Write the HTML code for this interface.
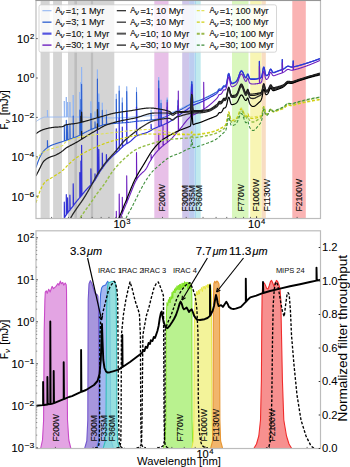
<!DOCTYPE html>
<html><head><meta charset="utf-8"><style>
html,body{margin:0;padding:0;background:#fff;width:350px;height:467px;overflow:hidden}
svg{display:block;font-family:"Liberation Sans",sans-serif}
</style></head><body>
<svg width="350" height="467" viewBox="0 0 350 467" font-family='Liberation Sans, sans-serif'>
<style>text{stroke:#000;stroke-width:0.16px;stroke-opacity:0.9}</style>
<rect x="0" y="0" width="350" height="467" fill="#fff"/>
<defs><clipPath id="ct"><rect x="36.0" y="0.5" width="284.5" height="218.0"/></clipPath>
<clipPath id="cb"><rect x="36.0" y="230.8" width="284.5" height="217.7"/></clipPath></defs>
<g clip-path="url(#ct)">
<rect x="40.6" y="0" width="9.1" height="219" fill="#d4d4d4"/>
<rect x="53.1" y="0" width="8.9" height="219" fill="#d4d4d4"/>
<rect x="68" y="0" width="46.3" height="219" fill="#d4d4d4"/>
<rect x="74.4" y="0" width="2.6" height="219" fill="#bdbdbd"/>
<rect x="90.9" y="0" width="2.2" height="219" fill="#bdbdbd"/>
<rect x="154.3" y="0" width="14.2" height="219" fill="#e8c0e8"/>
<rect x="182.2" y="0" width="6.9" height="219" fill="#cfc6ea"/>
<rect x="189.1" y="0" width="5.4" height="219" fill="#bccdf0"/>
<rect x="194.5" y="0" width="1.5" height="219" fill="#a9d6ef"/>
<rect x="196" y="0" width="4.7" height="219" fill="#c0eaee"/>
<rect x="232" y="0" width="16.5" height="219" fill="#d9f7bd"/>
<rect x="250.2" y="0" width="11.5" height="219" fill="#f8f5b4"/>
<rect x="261.7" y="0" width="4.1" height="219" fill="#f8dcc2"/>
<rect x="292.3" y="0" width="13.5" height="219" fill="#fab3b3"/>
<path d="M36,121.7 L36.4,121.38 L36.8,121.07 L37.2,120.77 L37.6,120.47 L38,120.19 L38.4,119.92 L38.8,119.67 L39.2,119.43 L39.6,119.21 L40,119 L40.4,118.8 L40.8,118.59 L41.2,118.39 L41.6,118.18 L42,117.98 L42.4,117.79 L42.8,117.62 L43.2,117.46 L43.6,117.33 L44,117.22 L44.4,117.15 L44.8,117.11 L45.2,117.1 L45.6,117.1 L46,117.09 L46.4,117.09 L46.8,117.09 L47.2,117.08 L47.4,117.08 L47.4,110.08 L47.7,117.08 L47.6,117.08 L48,117.08 L48.4,117.07 L48.8,117.07 L49.2,117.07 L49.6,117.07 L50,117.06 L50.4,117.06 L50.8,117.06 L51.2,117.06 L51.6,117.05 L52,117.05 L52.4,117.05 L52.8,117.05 L53.2,117.05 L53.6,117.04 L54,117.04 L54.4,117.04 L54.8,117.04 L55.2,117.04 L55.6,117.03 L56,117.03 L56.4,117.03 L56.8,117.03 L57.2,117.03 L57.6,117.03 L58,117.03 L58.4,117.02 L58.8,117.02 L59.2,117.02 L59.6,117.02 L60,117.02 L60.4,117.02 L60.8,117.02 L61.2,117.02 L61.6,117.01 L62,117.01 L62.4,117.01 L62.8,117.01 L63.2,117.01 L63.6,117.01 L64,117.01 L64.3,117.01 L64.3,101.01 L64.6,117.01 L64.4,117.01 L64.8,117.01 L65.2,117.01 L65.6,117.01 L66,117.01 L66.3,117.01 L66.3,97.01 L66.6,117.01 L66.4,117.01 L66.8,117.01 L67.2,117 L67.6,117 L67.6,117 L67.6,102 L67.9,117 L68,117 L68.4,117 L68.8,117 L69.2,117 L69.6,117 L69.9,117 L69.9,102 L70.2,117 L70,117 L70.4,117 L70.8,117 L71.2,117 L71.6,117 L72,117 L72.4,117 L72.8,117 L73.2,117 L73.2,117 L73.2,95 L73.5,117 L73.6,117 L74,117 L74.4,117 L74.8,117 L75.2,117 L75.6,117 L76,117 L76.4,117 L76.8,117 L77.2,117 L77.6,117.01 L78,117.01 L78.4,117.01 L78.8,117.02 L79.2,117.02 L79.6,117.03 L79.8,117.03 L79.8,92.03 L80.1,117.03 L80,117.03 L80.4,117.04 L80.8,117.05 L80.9,117.05 L80.9,82.05 L81.2,117.05 L81.2,117.06 L81.6,117.07 L81.6,117.07 L81.6,67.07 L81.9,117.07 L82,117.07 L82.4,117.08 L82.8,117.09 L83.2,117.1 L83.6,117.11 L84,117.13 L84.4,117.14 L84.8,117.15 L85.2,117.16 L85.6,117.17 L86,117.19 L86.4,117.2 L86.8,117.21 L87.2,117.23 L87.6,117.24 L88,117.26 L88.4,117.27 L88.8,117.29 L89.2,117.3 L89.6,117.32 L90,117.33 L90.4,117.35 L90.8,117.36 L90.9,117.37 L90.9,101.37 L91.2,117.37 L91.2,117.38 L91.6,117.39 L92,117.41 L92.4,117.43 L92.8,117.44 L93.2,117.46 L93.6,117.47 L94,117.49 L94.4,117.51 L94.8,117.52 L95,117.53 L95,111.53 L95.3,117.53 L95.2,117.54 L95.6,117.55 L96,117.57 L96.4,117.58 L96.8,117.6 L97.2,117.61 L97.4,117.62 L97.4,69.62 L97.7,117.62 L97.6,117.63 L98,117.64 L98.4,117.66 L98.8,117.67 L98.8,117.67 L98.8,93.67 L99.1,117.67 L99.2,117.69 L99.6,117.7 L100,117.71 L100.4,117.73 L100.8,117.74 L101.2,117.75 L101.6,117.76 L102,117.77 L102.3,117.78 L102.3,102.78 L102.6,117.78 L102.4,117.79 L102.8,117.8 L103.2,117.81 L103.6,117.82 L104,117.83 L104.4,117.83 L104.8,117.84 L105.2,117.85 L105.6,117.86 L106,117.87 L106.4,117.87 L106.4,117.87 L106.4,109.87 L106.7,117.87 L106.8,117.88 L107.2,117.88 L107.6,117.89 L108,117.89 L108.4,117.89 L108.8,117.9 L109.2,117.9 L109.6,117.9 L110,117.9 L110.4,117.9 L110.8,117.9 L111.2,117.9 L111.6,117.9 L112,117.89 L112.4,117.89 L112.8,117.89 L113.2,117.88 L113.6,117.88 L114,117.87 L114.4,117.87 L114.8,117.86 L115.2,117.86 L115.6,117.85 L116,117.84 L116.3,117.84 L116.3,93.84 L116.6,117.84 L116.4,117.83 L116.8,117.83 L117.2,117.82 L117.6,117.81 L118,117.8 L118.4,117.79 L118.8,117.78 L119.2,117.77 L119.2,117.77 L119.2,85.77 L119.5,117.77 L119.6,117.75 L120,117.74 L120.4,117.73 L120.8,117.72 L121.2,117.7 L121.6,117.69 L122,117.67 L122.3,117.66 L122.3,97.66 L122.6,117.66 L122.4,117.66 L122.8,117.64 L123.2,117.63 L123.6,117.61 L124,117.6 L124.4,117.58 L124.8,117.56 L125.2,117.54 L125.6,117.53 L126,117.51 L126.4,117.49 L126.7,117.47 L126.7,86.47 L127,117.47 L126.8,117.47 L127.2,117.45 L127.6,117.43 L128,117.41 L128.4,117.39 L128.8,117.37 L129.2,117.34 L129.6,117.32 L130,117.3 L130.4,117.27 L130.8,117.23 L131.2,117.18 L131.6,117.12 L132,117.05 L132.4,116.99 L132.8,116.92 L133.2,116.85 L133.6,116.78 L134,116.72 L134.4,116.66 L134.8,116.62 L135.2,116.58 L135.6,116.55 L136,116.52 L136.4,116.49 L136.5,116.48 L136.5,87.48 L136.8,116.48 L136.8,116.46 L137.2,116.43 L137.6,116.4 L138,116.38 L138.4,116.35 L138.8,116.33 L139.2,116.31 L139.6,116.28 L140,116.26 L140.4,116.24 L140.8,116.22 L141.2,116.2 L141.6,116.18 L142,116.17 L142.4,116.15 L142.8,116.13 L143.2,116.11 L143.6,116.1 L144,116.08 L144.4,116.07 L144.8,116.05 L145.2,116.03 L145.6,116.02 L146,116 L146.4,115.98 L146.8,115.97 L147.2,115.95 L147.6,115.93 L148,115.92 L148.4,115.9 L148.8,115.88 L149.2,115.86 L149.6,115.84 L150,115.82 L150.4,115.8 L150.8,115.78 L151.1,115.77 L151.1,109.77 L151.4,115.77 L151.2,115.76 L151.6,115.74 L152,115.71 L152.4,115.69 L152.8,115.66 L153.2,115.64 L153.6,115.61 L154,115.58 L154.4,115.55 L154.8,115.52 L155.2,115.48 L155.6,115.45 L156,115.41 L156.4,115.37 L156.8,115.33 L157.2,115.29 L157.6,115.24 L158,115.19 L158.4,115.14 L158.7,115.1 L158.7,77.1 L159,115.1 L158.8,115.09 L159.2,115.04 L159.6,114.98 L160,114.93 L160.4,114.87 L160.8,114.81 L161,114.78 L161,99.78 L161.3,114.78 L161.2,114.75 L161.6,114.69 L162,114.62 L162.4,114.56 L162.8,114.49 L163.2,114.42 L163.6,114.35 L164,114.28 L164.4,114.21 L164.8,114.14 L165.2,114.06 L165.6,113.99 L166,113.9 L166.4,113.82 L166.8,113.73 L167.2,113.64 L167.2,113.64 L167.2,97.64 L167.5,113.64 L167.6,113.55 L168,113.45 L168.4,113.35 L168.8,113.24 L169.2,113.13 L169.6,113.02 L170,112.91 L170.4,112.79 L170.8,112.67 L171.2,112.55 L171.6,112.43 L172,112.3 L172.4,112.17 L172.8,112.03 L173.2,111.88 L173.6,111.72 L174,111.56 L174.4,111.4 L174.8,111.22 L175.2,111.05 L175.6,110.87 L176,110.68 L176.4,110.5 L176.8,110.31 L177.2,110.12 L177.6,109.93 L178,109.74 L178,109.74 L178,99.74 L178.3,109.74 L178.4,109.55 L178.8,109.36 L179.2,109.17 L179.6,108.98 L180,108.8 L180.4,108.62 L180.8,108.43 L181.2,108.25 L181.6,108.06 L182,107.87 L182.4,107.68 L182.8,107.5 L183.2,107.31 L183.6,107.12 L184,106.92 L184.4,106.73 L184.8,106.54 L185.2,106.35 L185.6,106.15 L186,105.96 L186.4,105.76 L186.8,105.57 L187.2,105.37 L187.6,105.18 L188,104.98 L188.4,104.79 L188.8,104.59 L189.2,104.39 L189.6,104.2 L190,103.99 L190.4,103.6 L190.8,101.48 L191.2,93.28 L191.6,81.26 L192,81.39 L192.4,93.12 L192.8,100.59 L193.2,102.17 L193.6,102.16 L194,102 L194.4,101.84 L194.8,101.69 L195.2,101.55 L195.6,101.42 L196,101.29 L196.4,101.16 L196.8,101.04 L197.2,100.92 L197.6,100.8 L198,100.68 L198.4,100.55 L198.8,100.42 L199.2,100.29 L199.6,100.15 L200,100 L200.4,99.85 L200.8,99.69 L201.2,99.53 L201.6,99.36 L202,99.19 L202.4,99.02 L202.8,98.85 L203.2,98.67 L203.6,98.49 L204,98.31 L204.4,98.13 L204.8,97.94 L205.2,97.76 L205.6,97.57 L206,97.37 L206.4,97.18 L206.8,96.99 L207.2,96.79 L207.6,96.6 L208,96.4 L208.4,96.2 L208.8,96 L209.2,95.8 L209.6,95.6 L210,95.39 L210.4,95.19 L210.8,94.98 L211.2,94.77 L211.6,94.56 L212,94.34 L212.4,94.13 L212.8,93.91 L213.2,93.69 L213.6,93.47 L214,93.25 L214.4,93.02 L214.8,92.8 L215.2,92.57 L215.6,92.33 L216,92.1 L216.4,91.86 L216.8,91.59 L217.2,91.27 L217.6,90.82 L218,90.21 L218.4,89.52 L218.8,88.93 L219.2,88.66 L219.6,88.7 L220,88.85 L220.4,88.92 L220.8,88.84 L221.2,88.62 L221.6,88.32 L222,87.93 L222.4,87.41 L222.8,86.74 L223.2,86.05 L223.6,85.54 L224,85.4 L224.4,85.54 L224.8,85.73 L225.2,85.74 L225.6,85.45 L226,84.78 L226.4,83.63 L226.8,81.93 L227.2,79.7 L227.6,77.19 L228,74.9 L228.4,73.36 L228.8,72.98 L229.2,73.83 L229.6,75.57 L230,77.68 L230.4,79.64 L230.8,81.14 L231.2,82.09 L231.6,82.58 L232,82.76 L232.4,82.77 L232.8,82.68 L233.2,82.56 L233.6,82.43 L234,82.28 L234.4,82.11 L234.8,81.92 L235.2,81.69 L235.6,81.42 L236,81.07 L236.4,80.64 L236.8,80.09 L237.2,79.43 L237.6,78.63 L238,77.71 L238.4,76.67 L238.8,75.55 L239.2,74.4 L239.6,73.28 L240,72.26 L240.4,71.42 L240.8,70.8 L241.2,70.47 L241.6,70.42 L242,70.67 L242.4,71.18 L242.8,71.89 L243.2,72.75 L243.6,73.68 L244,74.61 L244.4,75.49 L244.8,76.26 L245.2,76.86 L245.6,77.22 L246,77.19 L246.4,76.65 L246.8,75.64 L247.2,74.46 L247.6,73.68 L248,73.75 L248.4,74.66 L248.8,75.97 L249.2,77.15 L249.6,77.94 L250,78.35 L250.4,78.52 L250.8,78.58 L251.2,78.6 L251.6,78.6 L252,78.6 L252.4,78.6 L252.8,78.6 L253.2,78.6 L253.6,78.6 L254,78.6 L254.4,78.6 L254.8,78.6 L255.2,78.6 L255.6,78.58 L256,78.54 L256.4,78.49 L256.8,78.43 L257.2,78.36 L257.6,78.29 L258,78.2 L258.4,78.12 L258.8,78.04 L259.2,77.96 L259.4,77.91 L259.4,60.91 L259.7,77.91 L259.6,77.87 L260,77.76 L260.4,77.63 L260.8,77.42 L261.2,77.04 L261.6,76.31 L262,75 L262.4,73 L262.8,70.51 L263.2,68.15 L263.6,66.74 L264,66.82 L264.4,68.29 L264.8,70.48 L265.2,72.59 L265.6,74.1 L266,74.94 L266.4,75.25 L266.8,75.25 L267.2,75.09 L267.6,74.79 L268,74.35 L268.4,73.71 L268.8,72.83 L269.2,71.73 L269.6,70.56 L270,69.54 L270.4,68.89 L270.8,68.76 L271.2,69.14 L271.6,69.87 L272,70.7 L272.4,71.42 L272.8,71.93 L273.2,72.19 L273.6,72.27 L274,72.22 L274.4,72.11 L274.8,71.96 L275.2,71.8 L275.6,71.63 L276,71.47 L276.4,71.31 L276.8,71.15 L277.2,70.99 L277.6,70.84 L278,70.69 L278.4,70.54 L278.8,70.4 L279.2,70.26 L279.6,70.13 L280,70 L280.4,69.87 L280.8,69.75 L281.2,69.62 L281.6,69.49 L282,69.36 L282.3,69.25 L282.3,59.25 L282.6,69.25 L282.4,69.22 L282.8,69.07 L283.2,68.89 L283.6,68.69 L284,68.46 L284.4,68.2 L284.8,67.91 L285.2,67.58 L285.6,67.24 L286,66.91 L286.4,66.59 L286.8,66.32 L287.2,66.1 L287.6,65.97 L288,65.91 L288.4,65.93 L288.8,66.01 L289.2,66.14 L289.6,66.28 L290,66.43 L290.4,66.57 L290.8,66.67 L291.2,66.75 L291.6,66.78 L292,66.79 L292.4,66.76 L292.8,66.72 L293.2,66.66 L293.2,66.66 L293.2,60.66 L293.5,66.66 L293.6,66.58 L294,66.5 L294.4,66.42 L294.8,66.33 L295.2,66.23 L295.6,66.14 L296,66.04 L296.4,65.95 L296.8,65.85 L297.2,65.75 L297.6,65.64 L298,65.54 L298.4,65.44 L298.8,65.33 L299.2,65.22 L299.6,65.11 L300,65 L300.4,64.89 L300.8,64.77 L301.2,64.66 L301.6,64.54 L302,64.42 L302.4,64.31 L302.8,64.19 L303.2,64.07 L303.6,63.95 L304,63.83 L304.4,63.71 L304.8,63.59 L305.2,63.47 L305.6,63.34 L306,63.22 L306.4,63.09 L306.8,62.97 L307.2,62.84 L307.6,62.72 L308,62.59 L308.4,62.46 L308.8,62.33 L309.2,62.2 L309.6,62.07 L310,61.94 L310.4,61.81 L310.8,61.68 L311.2,61.55 L311.6,61.42 L312,61.28 L312.4,61.15 L312.8,61.01 L313.2,60.88 L313.6,60.74 L314,60.6 L314.4,60.47 L314.8,60.33 L315.2,60.19 L315.6,60.05 L316,59.91 L316.4,59.77 L316.8,59.63 L317.2,59.49 L317.6,59.35 L318,59.2 L318.4,59.06 L318.8,58.92 L319.2,58.77 L319.6,58.63 L320,58.48 L320.4,58.34" fill="none" stroke="#93b6f2" stroke-width="1" stroke-linejoin="round"/>
<path d="M36,167.7 L36.4,166.43 L36.8,165.2 L37.2,164 L37.6,162.85 L38,161.74 L38.4,160.69 L38.8,159.68 L39.2,158.73 L39.6,157.83 L40,157 L40.4,156.21 L40.8,155.45 L41.2,154.71 L41.6,154 L42,153.33 L42.4,152.7 L42.8,152.1 L43.2,151.55 L43.6,151.05 L44,150.6 L44.4,150.18 L44.8,149.79 L45.2,149.4 L45.6,149.04 L46,148.69 L46.4,148.36 L46.8,148.04 L47.2,147.73 L47.4,147.59 L47.4,140.59 L47.7,147.59 L47.6,147.45 L48,147.17 L48.4,146.91 L48.8,146.66 L49.2,146.43 L49.6,146.21 L50,146 L50.4,145.8 L50.8,145.61 L51.2,145.42 L51.6,145.24 L52,145.07 L52.4,144.9 L52.8,144.74 L53.2,144.59 L53.6,144.43 L54,144.29 L54.4,144.14 L54.8,144 L55.2,143.87 L55.6,143.73 L56,143.6 L56.4,143.48 L56.8,143.35 L57.2,143.23 L57.6,143.1 L58,142.98 L58.4,142.86 L58.8,142.74 L59.2,142.62 L59.6,142.5 L60,142.37 L60.4,142.25 L60.8,142.13 L61.2,142 L61.6,141.87 L62,141.74 L62.4,141.61 L62.8,141.47 L63.2,141.33 L63.6,141.19 L64,141.05 L64.3,140.95 L64.3,124.95 L64.6,140.95 L64.4,140.92 L64.8,140.78 L65.2,140.65 L65.6,140.52 L66,140.39 L66.3,140.29 L66.3,120.29 L66.6,140.29 L66.4,140.26 L66.8,140.12 L67.2,139.99 L67.6,139.86 L67.6,139.86 L67.6,124.86 L67.9,139.86 L68,139.73 L68.4,139.6 L68.8,139.47 L69.2,139.34 L69.6,139.21 L69.9,139.11 L69.9,124.11 L70.2,139.11 L70,139.08 L70.4,138.94 L70.8,138.81 L71.2,138.67 L71.6,138.53 L72,138.4 L72.4,138.26 L72.8,138.11 L73.2,137.97 L73.2,137.97 L73.2,115.97 L73.5,137.97 L73.6,137.82 L74,137.68 L74.4,137.53 L74.8,137.37 L75.2,137.22 L75.6,137.06 L76,136.9 L76.4,136.74 L76.8,136.57 L77.2,136.39 L77.6,136.21 L78,136.03 L78.4,135.84 L78.8,135.65 L79.2,135.46 L79.6,135.26 L79.8,135.16 L79.8,110.16 L80.1,135.16 L80,135.06 L80.4,134.86 L80.8,134.66 L80.9,134.61 L80.9,99.61 L81.2,134.61 L81.2,134.45 L81.6,134.24 L81.6,134.24 L81.6,84.24 L81.9,134.24 L82,134.03 L82.4,133.82 L82.8,133.61 L83.2,133.4 L83.6,133.19 L84,132.98 L84.4,132.77 L84.8,132.56 L85.2,132.35 L85.6,132.14 L86,131.93 L86.4,131.73 L86.8,131.52 L87.2,131.32 L87.6,131.12 L88,130.93 L88.4,130.74 L88.8,130.55 L89.2,130.36 L89.6,130.18 L90,130 L90.4,129.82 L90.8,129.65 L90.9,129.61 L90.9,113.61 L91.2,129.61 L91.2,129.48 L91.6,129.3 L92,129.13 L92.4,128.96 L92.8,128.79 L93.2,128.62 L93.6,128.45 L94,128.28 L94.4,128.12 L94.8,127.95 L95,127.87 L95,121.87 L95.3,127.87 L95.2,127.79 L95.6,127.63 L96,127.47 L96.4,127.32 L96.8,127.16 L97.2,127.01 L97.4,126.93 L97.4,78.93 L97.7,126.93 L97.6,126.86 L98,126.71 L98.4,126.56 L98.8,126.42 L98.8,126.42 L98.8,102.42 L99.1,126.42 L99.2,126.28 L99.6,126.14 L100,126 L100.4,125.86 L100.8,125.72 L101.2,125.58 L101.6,125.44 L102,125.31 L102.3,125.21 L102.3,110.21 L102.6,125.21 L102.4,125.17 L102.8,125.04 L103.2,124.92 L103.6,124.81 L104,124.7 L104.4,124.61 L104.8,124.53 L105.2,124.47 L105.6,124.41 L106,124.35 L106.4,124.29 L106.4,124.29 L106.4,116.29 L106.7,124.29 L106.8,124.23 L107.2,124.18 L107.6,124.13 L108,124.07 L108.4,124.03 L108.8,123.98 L109.2,123.93 L109.6,123.89 L110,123.84 L110.4,123.8 L110.8,123.76 L111.2,123.72 L111.6,123.68 L112,123.64 L112.4,123.61 L112.8,123.57 L113.2,123.54 L113.6,123.51 L114,123.47 L114.4,123.44 L114.8,123.41 L115.2,123.38 L115.6,123.35 L116,123.32 L116.3,123.3 L116.3,99.3 L116.6,123.3 L116.4,123.29 L116.8,123.26 L117.2,123.24 L117.6,123.21 L118,123.18 L118.4,123.15 L118.8,123.13 L119.2,123.1 L119.2,123.1 L119.2,91.1 L119.5,123.1 L119.6,123.07 L120,123.05 L120.4,123.02 L120.8,122.99 L121.2,122.96 L121.6,122.94 L122,122.91 L122.3,122.89 L122.3,102.89 L122.6,122.89 L122.4,122.88 L122.8,122.85 L123.2,122.82 L123.6,122.79 L124,122.76 L124.4,122.73 L124.8,122.7 L125.2,122.67 L125.6,122.63 L126,122.6 L126.4,122.57 L126.7,122.54 L126.7,91.54 L127,122.54 L126.8,122.53 L127.2,122.49 L127.6,122.45 L128,122.42 L128.4,122.37 L128.8,122.33 L129.2,122.29 L129.6,122.25 L130,122.2 L130.4,122.15 L130.8,122.1 L131.2,122.04 L131.6,121.99 L132,121.93 L132.4,121.87 L132.8,121.81 L133.2,121.75 L133.6,121.69 L134,121.63 L134.4,121.58 L134.8,121.52 L135.2,121.48 L135.6,121.43 L136,121.38 L136.4,121.34 L136.5,121.33 L136.5,92.33 L136.8,121.33 L136.8,121.3 L137.2,121.25 L137.6,121.21 L138,121.17 L138.4,121.14 L138.8,121.1 L139.2,121.06 L139.6,121.02 L140,120.99 L140.4,120.95 L140.8,120.92 L141.2,120.89 L141.6,120.85 L142,120.82 L142.4,120.79 L142.8,120.75 L143.2,120.72 L143.6,120.69 L144,120.66 L144.4,120.62 L144.8,120.59 L145.2,120.56 L145.6,120.52 L146,120.49 L146.4,120.46 L146.8,120.42 L147.2,120.39 L147.6,120.35 L148,120.31 L148.4,120.28 L148.8,120.24 L149.2,120.2 L149.6,120.16 L150,120.12 L150.4,120.08 L150.8,120.04 L151.1,120 L151.1,114 L151.4,120 L151.2,119.99 L151.6,119.95 L152,119.9 L152.4,119.85 L152.8,119.8 L153.2,119.75 L153.6,119.7 L154,119.64 L154.4,119.59 L154.8,119.53 L155.2,119.47 L155.6,119.41 L156,119.34 L156.4,119.27 L156.8,119.19 L157.2,119.12 L157.6,119.04 L158,118.95 L158.4,118.87 L158.7,118.8 L158.7,80.8 L159,118.8 L158.8,118.78 L159.2,118.68 L159.6,118.59 L160,118.49 L160.4,118.38 L160.8,118.28 L161,118.23 L161,103.23 L161.3,118.23 L161.2,118.17 L161.6,118.06 L162,117.95 L162.4,117.83 L162.8,117.71 L163.2,117.59 L163.6,117.46 L164,117.33 L164.4,117.2 L164.8,117.07 L165.2,116.93 L165.6,116.78 L166,116.61 L166.4,116.44 L166.8,116.25 L167.2,116.05 L167.2,116.05 L167.2,100.05 L167.5,116.05 L167.6,115.84 L168,115.63 L168.4,115.42 L168.8,115.2 L169.2,114.97 L169.6,114.75 L170,114.53 L170.4,114.31 L170.8,114.1 L171.2,113.89 L171.6,113.69 L172,113.5 L172.4,113.32 L172.8,113.13 L173.2,112.96 L173.6,112.78 L174,112.61 L174.4,112.44 L174.8,112.27 L175.2,112.1 L175.6,111.94 L176,111.77 L176.4,111.6 L176.8,111.43 L177.2,111.26 L177.6,111.09 L178,110.92 L178,110.92 L178,100.92 L178.3,110.92 L178.4,110.74 L178.8,110.56 L179.2,110.38 L179.6,110.19 L180,110 L180.4,109.8 L180.8,109.6 L181.2,109.4 L181.6,109.19 L182,108.98 L182.4,108.77 L182.8,108.55 L183.2,108.34 L183.6,108.12 L184,107.89 L184.4,107.67 L184.8,107.44 L185.2,107.22 L185.6,106.99 L186,106.76 L186.4,106.53 L186.8,106.31 L187.2,106.08 L187.6,105.85 L188,105.62 L188.4,105.39 L188.8,105.17 L189.2,104.94 L189.6,104.72 L190,104.49 L190.4,104.07 L190.8,101.93 L191.2,93.71 L191.6,81.66 L192,81.77 L192.4,93.47 L192.8,100.93 L193.2,102.49 L193.6,102.47 L194,102.3 L194.4,102.14 L194.8,101.98 L195.2,101.84 L195.6,101.71 L196,101.58 L196.4,101.45 L196.8,101.33 L197.2,101.21 L197.6,101.09 L198,100.97 L198.4,100.85 L198.8,100.72 L199.2,100.59 L199.6,100.45 L200,100.3 L200.4,100.15 L200.8,99.99 L201.2,99.83 L201.6,99.66 L202,99.49 L202.4,99.32 L202.8,99.15 L203.2,98.97 L203.6,98.79 L204,98.61 L204.4,98.43 L204.8,98.24 L205.2,98.06 L205.6,97.87 L206,97.67 L206.4,97.48 L206.8,97.29 L207.2,97.09 L207.6,96.9 L208,96.7 L208.4,96.5 L208.8,96.3 L209.2,96.1 L209.6,95.9 L210,95.69 L210.4,95.49 L210.8,95.28 L211.2,95.07 L211.6,94.86 L212,94.64 L212.4,94.43 L212.8,94.21 L213.2,93.99 L213.6,93.77 L214,93.55 L214.4,93.32 L214.8,93.1 L215.2,92.87 L215.6,92.63 L216,92.4 L216.4,92.16 L216.8,91.89 L217.2,91.57 L217.6,91.12 L218,90.51 L218.4,89.82 L218.8,89.23 L219.2,88.96 L219.6,89 L220,89.15 L220.4,89.22 L220.8,89.14 L221.2,88.92 L221.6,88.62 L222,88.23 L222.4,87.71 L222.8,87.04 L223.2,86.35 L223.6,85.84 L224,85.7 L224.4,85.84 L224.8,86.03 L225.2,86.04 L225.6,85.75 L226,85.08 L226.4,83.93 L226.8,82.23 L227.2,80 L227.6,77.49 L228,75.2 L228.4,73.66 L228.8,73.28 L229.2,74.13 L229.6,75.87 L230,77.98 L230.4,79.94 L230.8,81.44 L231.2,82.39 L231.6,82.88 L232,83.06 L232.4,83.07 L232.8,82.98 L233.2,82.86 L233.6,82.73 L234,82.58 L234.4,82.41 L234.8,82.22 L235.2,81.99 L235.6,81.72 L236,81.37 L236.4,80.94 L236.8,80.39 L237.2,79.73 L237.6,78.93 L238,78.01 L238.4,76.97 L238.8,75.85 L239.2,74.7 L239.6,73.58 L240,72.56 L240.4,71.72 L240.8,71.1 L241.2,70.77 L241.6,70.72 L242,70.97 L242.4,71.48 L242.8,72.19 L243.2,73.05 L243.6,73.98 L244,74.91 L244.4,75.79 L244.8,76.56 L245.2,77.16 L245.6,77.52 L246,77.49 L246.4,76.95 L246.8,75.94 L247.2,74.76 L247.6,73.98 L248,74.05 L248.4,74.96 L248.8,76.27 L249.2,77.45 L249.6,78.24 L250,78.65 L250.4,78.82 L250.8,78.88 L251.2,78.9 L251.6,78.9 L252,78.9 L252.4,78.9 L252.8,78.9 L253.2,78.9 L253.6,78.9 L254,78.9 L254.4,78.9 L254.8,78.9 L255.2,78.9 L255.6,78.88 L256,78.84 L256.4,78.79 L256.8,78.73 L257.2,78.66 L257.6,78.59 L258,78.5 L258.4,78.42 L258.8,78.34 L259.2,78.26 L259.4,78.21 L259.4,61.21 L259.7,78.21 L259.6,78.17 L260,78.06 L260.4,77.93 L260.8,77.72 L261.2,77.34 L261.6,76.61 L262,75.3 L262.4,73.3 L262.8,70.81 L263.2,68.45 L263.6,67.04 L264,67.12 L264.4,68.59 L264.8,70.78 L265.2,72.89 L265.6,74.4 L266,75.24 L266.4,75.55 L266.8,75.55 L267.2,75.39 L267.6,75.09 L268,74.65 L268.4,74.01 L268.8,73.13 L269.2,72.03 L269.6,70.86 L270,69.84 L270.4,69.19 L270.8,69.06 L271.2,69.44 L271.6,70.17 L272,71 L272.4,71.73 L272.8,72.23 L273.2,72.5 L273.6,72.57 L274,72.53 L274.4,72.41 L274.8,72.26 L275.2,72.1 L275.6,71.94 L276,71.78 L276.4,71.61 L276.8,71.45 L277.2,71.3 L277.6,71.14 L278,70.99 L278.4,70.85 L278.8,70.7 L279.2,70.56 L279.6,70.43 L280,70.3 L280.4,70.17 L280.8,70.04 L281.2,69.92 L281.6,69.79 L282,69.65 L282.3,69.55 L282.3,59.55 L282.6,69.55 L282.4,69.51 L282.8,69.35 L283.2,69.18 L283.6,68.98 L284,68.75 L284.4,68.48 L284.8,68.19 L285.2,67.86 L285.6,67.52 L286,67.18 L286.4,66.86 L286.8,66.59 L287.2,66.37 L287.6,66.23 L288,66.17 L288.4,66.19 L288.8,66.27 L289.2,66.39 L289.6,66.54 L290,66.69 L290.4,66.82 L290.8,66.92 L291.2,66.99 L291.6,67.03 L292,67.03 L292.4,67.01 L292.8,66.96 L293.2,66.89 L293.2,66.89 L293.2,60.89 L293.5,66.89 L293.6,66.82 L294,66.73 L294.4,66.65 L294.8,66.55 L295.2,66.46 L295.6,66.36 L296,66.26 L296.4,66.16 L296.8,66.06 L297.2,65.96 L297.6,65.86 L298,65.75 L298.4,65.65 L298.8,65.54 L299.2,65.43 L299.6,65.31 L300,65.2 L300.4,65.08 L300.8,64.97 L301.2,64.85 L301.6,64.73 L302,64.61 L302.4,64.49 L302.8,64.37 L303.2,64.25 L303.6,64.13 L304,64.01 L304.4,63.89 L304.8,63.76 L305.2,63.64 L305.6,63.51 L306,63.39 L306.4,63.26 L306.8,63.14 L307.2,63.01 L307.6,62.88 L308,62.75 L308.4,62.62 L308.8,62.49 L309.2,62.36 L309.6,62.23 L310,62.09 L310.4,61.96 L310.8,61.83 L311.2,61.69 L311.6,61.56 L312,61.42 L312.4,61.29 L312.8,61.15 L313.2,61.01 L313.6,60.87 L314,60.74 L314.4,60.6 L314.8,60.46 L315.2,60.32 L315.6,60.17 L316,60.03 L316.4,59.89 L316.8,59.75 L317.2,59.6 L317.6,59.46 L318,59.32 L318.4,59.17 L318.8,59.03 L319.2,58.88 L319.6,58.73 L320,58.58 L320.4,58.44" fill="none" stroke="#2d5fd0" stroke-width="1.1" stroke-linejoin="round"/>
<path d="M50,262 L50.4,261.04 L50.8,260.07 L51.2,259.08 L51.6,258.07 L52,257.05 L52.4,256.01 L52.8,254.95 L53.2,253.88 L53.6,252.8 L54,251.7 L54.4,250.59 L54.8,249.46 L55.2,248.32 L55.6,247.17 L56,246 L56.4,244.82 L56.8,243.63 L57.2,242.43 L57.6,241.22 L58,240 L58.4,238.72 L58.8,237.35 L59.2,235.91 L59.6,234.4 L60,232.86 L60.4,231.29 L60.8,229.72 L61.2,228.16 L61.6,226.62 L62,225.12 L62.4,223.69 L62.8,222.33 L63.2,221.06 L63.6,219.91 L64,218.88 L64.3,218.22 L64.3,202.22 L64.6,218.22 L64.4,218 L64.8,217.22 L65.2,216.49 L65.6,215.8 L66,215.15 L66.3,214.68 L66.3,194.68 L66.6,214.68 L66.4,214.53 L66.8,213.94 L67.2,213.39 L67.6,212.85 L67.6,212.85 L67.6,197.85 L67.9,212.85 L68,212.33 L68.4,211.83 L68.8,211.34 L69.2,210.86 L69.6,210.38 L69.9,210.01 L69.9,195.01 L70.2,210.01 L70,209.89 L70.4,209.4 L70.8,208.91 L71.2,208.39 L71.6,207.87 L72,207.34 L72.4,206.81 L72.8,206.29 L73.2,205.77 L73.2,205.77 L73.2,183.77 L73.5,205.77 L73.6,205.26 L74,204.75 L74.4,204.24 L74.8,203.73 L75.2,203.23 L75.6,202.73 L76,202.23 L76.4,201.73 L76.8,201.23 L77.2,200.74 L77.6,200.24 L78,199.74 L78.4,199.25 L78.8,198.75 L79.2,198.25 L79.6,197.76 L79.8,197.51 L79.8,172.51 L80.1,197.51 L80,197.26 L80.4,196.77 L80.8,196.27 L80.9,196.15 L80.9,161.15 L81.2,196.15 L81.2,195.78 L81.6,195.28 L81.6,195.28 L81.6,145.28 L81.9,195.28 L82,194.79 L82.4,194.3 L82.8,193.81 L83.2,193.33 L83.6,192.84 L84,192.36 L84.4,191.88 L84.8,191.41 L85.2,190.93 L85.6,190.47 L86,190 L86.4,189.54 L86.8,189.1 L87.2,188.66 L87.6,188.23 L88,187.81 L88.4,187.4 L88.8,186.99 L89.2,186.58 L89.6,186.17 L90,185.76 L90.4,185.35 L90.8,184.94 L90.9,184.83 L90.9,168.83 L91.2,184.83 L91.2,184.52 L91.6,184.09 L92,183.65 L92.4,183.21 L92.8,182.75 L93.2,182.28 L93.6,181.79 L94,181.29 L94.4,180.77 L94.8,180.22 L95,179.93 L95,173.93 L95.3,179.93 L95.2,179.64 L95.6,179.02 L96,178.36 L96.4,177.68 L96.8,176.98 L97.2,176.27 L97.4,175.91 L97.4,127.91 L97.7,175.91 L97.6,175.56 L98,174.84 L98.4,174.13 L98.8,173.44 L98.8,173.44 L98.8,149.44 L99.1,173.44 L99.2,172.76 L99.6,172.11 L100,171.5 L100.4,170.91 L100.8,170.32 L101.2,169.73 L101.6,169.16 L102,168.58 L102.3,168.16 L102.3,153.16 L102.6,168.16 L102.4,168.01 L102.8,167.45 L103.2,166.9 L103.6,166.35 L104,165.8 L104.4,165.27 L104.8,164.74 L105.2,164.21 L105.6,163.7 L106,163.19 L106.4,162.7 L106.4,162.7 L106.4,154.7 L106.7,162.7 L106.8,162.21 L107.2,161.72 L107.6,161.25 L108,160.79 L108.4,160.33 L108.8,159.89 L109.2,159.46 L109.6,159.03 L110,158.62 L110.4,158.21 L110.8,157.81 L111.2,157.42 L111.6,157.04 L112,156.66 L112.4,156.28 L112.8,155.91 L113.2,155.55 L113.6,155.18 L114,154.82 L114.4,154.47 L114.8,154.11 L115.2,153.75 L115.6,153.39 L116,153.04 L116.3,152.77 L116.3,128.77 L116.6,152.77 L116.4,152.68 L116.8,152.31 L117.2,151.95 L117.6,151.58 L118,151.21 L118.4,150.83 L118.8,150.44 L119.2,150.05 L119.2,150.05 L119.2,118.05 L119.5,150.05 L119.6,149.66 L120,149.27 L120.4,148.87 L120.8,148.48 L121.2,148.09 L121.6,147.71 L122,147.32 L122.3,147.04 L122.3,127.04 L122.6,147.04 L122.4,146.95 L122.8,146.59 L123.2,146.23 L123.6,145.88 L124,145.55 L124.4,145.23 L124.8,144.93 L125.2,144.64 L125.6,144.36 L126,144.1 L126.4,143.85 L126.7,143.67 L126.7,112.67 L127,143.67 L126.8,143.61 L127.2,143.37 L127.6,143.13 L128,142.89 L128.4,142.65 L128.8,142.41 L129.2,142.15 L129.6,141.88 L130,141.6 L130.4,141.3 L130.8,140.97 L131.2,140.63 L131.6,140.27 L132,139.89 L132.4,139.51 L132.8,139.13 L133.2,138.74 L133.6,138.36 L134,137.98 L134.4,137.61 L134.8,137.26 L135.2,136.93 L135.6,136.62 L136,136.33 L136.4,136.07 L136.5,136.02 L136.5,107.02 L136.8,136.02 L136.8,135.85 L137.2,135.66 L137.6,135.47 L138,135.3 L138.4,135.14 L138.8,134.99 L139.2,134.85 L139.6,134.71 L140,134.58 L140.4,134.46 L140.8,134.34 L141.2,134.23 L141.6,134.11 L142,134 L142.4,133.89 L142.8,133.79 L143.2,133.68 L143.6,133.57 L144,133.45 L144.4,133.34 L144.8,133.22 L145.2,133.09 L145.6,132.96 L146,132.82 L146.4,132.68 L146.8,132.52 L147.2,132.36 L147.6,132.18 L148,132 L148.4,131.8 L148.8,131.59 L149.2,131.38 L149.6,131.16 L150,130.94 L150.4,130.71 L150.8,130.48 L151.1,130.3 L151.1,124.3 L151.4,130.3 L151.2,130.25 L151.6,130.01 L152,129.78 L152.4,129.56 L152.8,129.33 L153.2,129.11 L153.6,128.9 L154,128.69 L154.4,128.49 L154.8,128.31 L155.2,128.13 L155.6,127.95 L156,127.77 L156.4,127.6 L156.8,127.44 L157.2,127.27 L157.6,127.11 L158,126.96 L158.4,126.8 L158.7,126.68 L158.7,88.68 L159,126.68 L158.8,126.64 L159.2,126.49 L159.6,126.33 L160,126.18 L160.4,126.02 L160.8,125.87 L161,125.79 L161,110.79 L161.3,125.79 L161.2,125.71 L161.6,125.55 L162,125.39 L162.4,125.23 L162.8,125.06 L163.2,124.89 L163.6,124.71 L164,124.54 L164.4,124.35 L164.8,124.17 L165.2,123.98 L165.6,123.79 L166,123.6 L166.4,123.41 L166.8,123.21 L167.2,123.01 L167.2,123.01 L167.2,107.01 L167.5,123.01 L167.6,122.81 L168,122.6 L168.4,122.39 L168.8,122.17 L169.2,121.95 L169.6,121.73 L170,121.5 L170.4,121.26 L170.8,121.02 L171.2,120.77 L171.6,120.51 L172,120.25 L172.4,119.99 L172.8,119.71 L173.2,119.44 L173.6,119.16 L174,118.87 L174.4,118.58 L174.8,118.29 L175.2,118 L175.6,117.71 L176,117.41 L176.4,117.12 L176.8,116.82 L177.2,116.53 L177.6,116.23 L178,115.94 L178,115.94 L178,105.94 L178.3,115.94 L178.4,115.65 L178.8,115.36 L179.2,115.07 L179.6,114.78 L180,114.5 L180.4,114.22 L180.8,113.94 L181.2,113.66 L181.6,113.37 L182,113.09 L182.4,112.81 L182.8,112.52 L183.2,112.24 L183.6,111.96 L184,111.67 L184.4,111.39 L184.8,111.1 L185.2,110.82 L185.6,110.54 L186,110.26 L186.4,109.98 L186.8,109.7 L187.2,109.42 L187.6,109.14 L188,108.86 L188.4,108.59 L188.8,108.31 L189.2,108.04 L189.6,107.77 L190,107.49 L190.4,107.03 L190.8,104.84 L191.2,96.57 L191.6,84.48 L192,84.55 L192.4,96.21 L192.8,103.64 L193.2,105.16 L193.6,105.1 L194,104.9 L194.4,104.7 L194.8,104.52 L195.2,104.35 L195.6,104.18 L196,104.02 L196.4,103.87 L196.8,103.72 L197.2,103.58 L197.6,103.43 L198,103.29 L198.4,103.14 L198.8,102.99 L199.2,102.83 L199.6,102.67 L200,102.5 L200.4,102.32 L200.8,102.15 L201.2,101.97 L201.6,101.78 L202,101.6 L202.4,101.41 L202.8,101.23 L203.2,101.03 L203.6,100.84 L204,100.65 L204.4,100.45 L204.8,100.25 L205.2,100.05 L205.6,99.85 L206,99.65 L206.4,99.44 L206.8,99.23 L207.2,99.02 L207.6,98.81 L208,98.6 L208.4,98.38 L208.8,98.17 L209.2,97.95 L209.6,97.73 L210,97.51 L210.4,97.28 L210.8,97.06 L211.2,96.83 L211.6,96.6 L212,96.37 L212.4,96.14 L212.8,95.9 L213.2,95.66 L213.6,95.42 L214,95.18 L214.4,94.93 L214.8,94.68 L215.2,94.43 L215.6,94.18 L216,93.92 L216.4,93.66 L216.8,93.37 L217.2,93.02 L217.6,92.55 L218,91.91 L218.4,91.19 L218.8,90.57 L219.2,90.26 L219.6,90.26 L220,90.38 L220.4,90.41 L220.8,90.27 L221.2,90.02 L221.6,89.68 L222,89.25 L222.4,88.7 L222.8,88 L223.2,87.28 L223.6,86.76 L224,86.6 L224.4,86.73 L224.8,86.93 L225.2,86.94 L225.6,86.66 L226,85.98 L226.4,84.83 L226.8,83.11 L227.2,80.87 L227.6,78.36 L228,76.05 L228.4,74.49 L228.8,74.11 L229.2,74.94 L229.6,76.67 L230,78.76 L230.4,80.71 L230.8,82.18 L231.2,83.12 L231.6,83.59 L232,83.76 L232.4,83.75 L232.8,83.66 L233.2,83.52 L233.6,83.37 L234,83.2 L234.4,83.02 L234.8,82.81 L235.2,82.57 L235.6,82.27 L236,81.91 L236.4,81.46 L236.8,80.91 L237.2,80.23 L237.6,79.42 L238,78.48 L238.4,77.43 L238.8,76.3 L239.2,75.13 L239.6,74.01 L240,72.98 L240.4,72.12 L240.8,71.5 L241.2,71.16 L241.6,71.12 L242,71.36 L242.4,71.87 L242.8,72.58 L243.2,73.43 L243.6,74.36 L244,75.3 L244.4,76.17 L244.8,76.94 L245.2,77.55 L245.6,77.91 L246,77.88 L246.4,77.34 L246.8,76.33 L247.2,75.15 L247.6,74.38 L248,74.45 L248.4,75.36 L248.8,76.66 L249.2,77.85 L249.6,78.64 L250,79.05 L250.4,79.22 L250.8,79.28 L251.2,79.3 L251.6,79.3 L252,79.3 L252.4,79.3 L252.8,79.3 L253.2,79.3 L253.6,79.3 L254,79.3 L254.4,79.3 L254.8,79.3 L255.2,79.3 L255.6,79.27 L256,79.23 L256.4,79.17 L256.8,79.1 L257.2,79.02 L257.6,78.93 L258,78.84 L258.4,78.74 L258.8,78.65 L259.2,78.55 L259.4,78.5 L259.4,61.5 L259.7,78.5 L259.6,78.45 L260,78.34 L260.4,78.2 L260.8,77.98 L261.2,77.59 L261.6,76.85 L262,75.53 L262.4,73.52 L262.8,71.03 L263.2,68.67 L263.6,67.25 L264,67.32 L264.4,68.79 L264.8,70.97 L265.2,73.08 L265.6,74.59 L266,75.43 L266.4,75.74 L266.8,75.75 L267.2,75.58 L267.6,75.29 L268,74.85 L268.4,74.21 L268.8,73.33 L269.2,72.24 L269.6,71.07 L270,70.04 L270.4,69.38 L270.8,69.25 L271.2,69.63 L271.6,70.36 L272,71.18 L272.4,71.91 L272.8,72.41 L273.2,72.67 L273.6,72.74 L274,72.69 L274.4,72.57 L274.8,72.41 L275.2,72.25 L275.6,72.08 L276,71.91 L276.4,71.74 L276.8,71.58 L277.2,71.42 L277.6,71.26 L278,71.11 L278.4,70.96 L278.8,70.81 L279.2,70.67 L279.6,70.53 L280,70.4 L280.4,70.27 L280.8,70.14 L281.2,70.01 L281.6,69.88 L282,69.75 L282.3,69.64 L282.3,59.64 L282.6,69.64 L282.4,69.6 L282.8,69.45 L283.2,69.27 L283.6,69.07 L284,68.84 L284.4,68.57 L284.8,68.28 L285.2,67.95 L285.6,67.61 L286,67.27 L286.4,66.95 L286.8,66.68 L287.2,66.46 L287.6,66.32 L288,66.26 L288.4,66.28 L288.8,66.36 L289.2,66.48 L289.6,66.63 L290,66.78 L290.4,66.91 L290.8,67.02 L291.2,67.09 L291.6,67.12 L292,67.12 L292.4,67.1 L292.8,67.05 L293.2,66.99 L293.2,66.99 L293.2,60.99 L293.5,66.99 L293.6,66.91 L294,66.83 L294.4,66.74 L294.8,66.65 L295.2,66.56 L295.6,66.46 L296,66.36 L296.4,66.26 L296.8,66.16 L297.2,66.06 L297.6,65.96 L298,65.85 L298.4,65.74 L298.8,65.64 L299.2,65.53 L299.6,65.41 L300,65.3 L300.4,65.18 L300.8,65.07 L301.2,64.95 L301.6,64.83 L302,64.71 L302.4,64.59 L302.8,64.47 L303.2,64.35 L303.6,64.23 L304,64.11 L304.4,63.99 L304.8,63.86 L305.2,63.74 L305.6,63.61 L306,63.49 L306.4,63.36 L306.8,63.24 L307.2,63.11 L307.6,62.98 L308,62.85 L308.4,62.72 L308.8,62.59 L309.2,62.46 L309.6,62.33 L310,62.19 L310.4,62.06 L310.8,61.93 L311.2,61.79 L311.6,61.66 L312,61.52 L312.4,61.39 L312.8,61.25 L313.2,61.11 L313.6,60.97 L314,60.84 L314.4,60.7 L314.8,60.56 L315.2,60.42 L315.6,60.27 L316,60.13 L316.4,59.99 L316.8,59.85 L317.2,59.7 L317.6,59.56 L318,59.42 L318.4,59.27 L318.8,59.13 L319.2,58.98 L319.6,58.83 L320,58.68 L320.4,58.54" fill="none" stroke="#3232d6" stroke-width="1.2" stroke-linejoin="round"/>
<path d="M105,262 L105.4,260.65 L105.8,259.31 L106.2,257.98 L106.6,256.66 L107,255.35 L107.4,254.06 L107.8,252.77 L108.2,251.5 L108.6,250.23 L109,248.98 L109.4,247.74 L109.8,246.51 L110.2,245.3 L110.6,244.1 L111,242.91 L111.4,241.74 L111.8,240.58 L112.2,239.43 L112.6,238.3 L113,237.18 L113.4,236.07 L113.8,234.98 L114.2,233.9 L114.6,232.83 L115,231.76 L115.4,230.71 L115.8,229.67 L116.2,228.63 L116.3,228.37 L116.3,211.37 L116.6,228.37 L116.6,227.6 L117,226.58 L117.4,225.56 L117.8,224.54 L118.2,223.53 L118.6,222.52 L119,221.51 L119.2,221.01 L119.2,194.01 L119.5,221.01 L119.4,220.51 L119.8,219.5 L120.2,218.5 L120.6,217.5 L121,216.5 L121.4,215.51 L121.8,214.52 L122.2,213.54 L122.3,213.3 L122.3,197.3 L122.6,213.3 L122.6,212.56 L123,211.59 L123.4,210.62 L123.8,209.65 L124.2,208.69 L124.6,207.73 L125,206.77 L125.4,205.82 L125.8,204.87 L126.2,203.92 L126.6,202.97 L126.7,202.73 L126.7,175.73 L127,202.73 L127,202.03 L127.4,201.08 L127.8,200.14 L128.2,199.2 L128.6,198.26 L129,197.31 L129.4,196.34 L129.8,195.34 L130.2,194.34 L130.6,193.33 L131,192.31 L131.4,191.28 L131.8,190.26 L132.2,189.25 L132.6,188.24 L133,187.25 L133.4,186.27 L133.8,185.31 L134.2,184.37 L134.6,183.46 L135,182.58 L135.4,181.74 L135.8,180.93 L136.2,180.16 L136.5,179.62 L136.5,152.62 L136.8,179.62 L136.6,179.44 L137,178.77 L137.4,178.15 L137.8,177.58 L138.2,177.05 L138.6,176.56 L139,176.1 L139.4,175.67 L139.8,175.24 L140.2,174.83 L140.6,174.42 L141,174 L141.4,173.59 L141.8,173.21 L142.2,172.84 L142.6,172.49 L143,172.14 L143.4,171.78 L143.8,171.42 L144.2,171.03 L144.6,170.62 L145,170.18 L145.4,169.7 L145.8,169.16 L146.2,168.55 L146.6,167.88 L147,167.17 L147.4,166.42 L147.8,165.65 L148.2,164.87 L148.6,164.08 L149,163.31 L149.4,162.56 L149.8,161.84 L150.2,161.16 L150.6,160.48 L151,159.8 L151.1,159.63 L151.1,154.63 L151.4,159.63 L151.4,159.12 L151.8,158.45 L152.2,157.79 L152.6,157.15 L153,156.52 L153.4,155.93 L153.8,155.37 L154.2,154.84 L154.6,154.33 L155,153.83 L155.4,153.34 L155.8,152.87 L156.2,152.4 L156.6,151.95 L157,151.51 L157.4,151.08 L157.8,150.66 L158.2,150.24 L158.6,149.83 L158.7,149.73 L158.7,133.73 L159,149.73 L159,149.43 L159.4,149.04 L159.8,148.65 L160.2,148.26 L160.6,147.88 L161,147.5 L161.4,147.13 L161.8,146.77 L162.2,146.42 L162.6,146.08 L163,145.75 L163,125.75 L163.3,145.75 L163,145.75 L163.4,145.42 L163.8,145.11 L164.2,144.79 L164.6,144.48 L165,144.17 L165.4,143.87 L165.8,143.56 L166.2,143.25 L166.6,142.95 L167,142.63 L167.2,142.48 L167.2,102.48 L167.5,142.48 L167.4,142.32 L167.8,142 L168.2,141.67 L168.6,141.34 L169,140.99 L169.4,140.64 L169.8,140.28 L170.2,139.91 L170.6,139.52 L171,139.13 L171.4,138.72 L171.8,138.31 L172.2,137.9 L172.6,137.47 L173,137.04 L173.4,136.6 L173.8,136.16 L174.2,135.71 L174.6,135.26 L175,134.81 L175.4,134.35 L175.8,133.89 L176.2,133.42 L176.6,132.96 L177,132.49 L177.4,132.02 L177.8,131.55 L178.2,131.09 L178.3,130.97 L178.3,90.97 L178.6,130.97 L178.6,130.62 L179,130.15 L179.4,129.69 L179.8,129.23 L180.2,128.77 L180.6,128.3 L181,127.81 L181.4,127.31 L181.8,126.81 L182.2,126.29 L182.6,125.77 L183,125.25 L183.4,124.72 L183.8,124.19 L184.2,123.67 L184.6,123.14 L185,122.63 L185.4,122.11 L185.8,121.61 L186.2,121.11 L186.6,120.63 L187,120.16 L187.4,119.7 L187.8,119.26 L188.2,118.84 L188.6,118.44 L189,118.06 L189.4,117.71 L189.8,117.38 L190.2,117.03 L190.6,116.06 L191,111.4 L191.4,99.81 L191.8,91.97 L192.2,99.81 L192.6,110.69 L193,114.59 L193.4,114.98 L193.8,114.8 L194.2,114.59 L194.6,114.38 L195,114.17 L195.4,113.96 L195.8,113.76 L196.2,113.56 L196.6,113.36 L197,113.15 L197.4,112.95 L197.8,112.74 L198.2,112.53 L198.6,112.31 L199,112.09 L199.4,111.86 L199.8,111.62 L200.2,111.38 L200.6,111.13 L201,110.89 L201.4,110.65 L201.8,110.4 L202.2,110.16 L202.6,109.91 L203,109.67 L203.4,109.42 L203.7,109.23 L203.7,82.23 L204,109.23 L203.8,109.17 L204.2,108.91 L204.6,108.66 L205,108.39 L205.4,108.13 L205.8,107.86 L206.2,107.59 L206.6,107.31 L207,107.03 L207.4,106.74 L207.8,106.45 L208.2,106.15 L208.6,105.84 L209,105.53 L209.4,105.21 L209.8,104.88 L210.2,104.54 L210.6,104.2 L211,103.86 L211.4,103.51 L211.8,103.15 L212.2,102.79 L212.6,102.43 L213,102.06 L213.4,101.69 L213.8,101.32 L214.2,100.94 L214.6,100.56 L215,100.18 L215.4,99.8 L215.8,99.42 L216.2,99.03 L216.6,98.63 L217,98.2 L217.4,97.67 L217.8,97.01 L218.2,96.2 L218.6,95.38 L219,94.79 L219.4,94.55 L219.8,94.53 L220.2,94.52 L220.6,94.36 L221,94.06 L221.4,93.66 L221.8,93.19 L222.2,92.61 L222.6,91.88 L223,91.05 L223.4,90.31 L223.8,89.87 L224.2,89.8 L224.6,89.9 L225,89.93 L225.4,89.72 L225.8,89.19 L226.2,88.26 L226.6,86.81 L227,84.81 L227.4,82.39 L227.8,79.92 L228.2,77.94 L228.6,76.96 L229,77.22 L229.4,78.59 L229.8,80.6 L230.2,82.71 L230.6,84.47 L231,85.69 L231.4,86.4 L231.8,86.71 L232.2,86.77 L232.6,86.7 L233,86.57 L233.4,86.41 L233.8,86.23 L234.2,86.04 L234.6,85.83 L235,85.58 L235.4,85.29 L235.8,84.94 L236.2,84.52 L236.6,83.99 L237,83.36 L237.4,82.6 L237.8,81.71 L238.2,80.7 L238.6,79.59 L239,78.44 L239.4,77.29 L239.8,76.21 L240.2,75.27 L240.6,74.55 L241,74.1 L241.4,73.94 L241.8,74.08 L242.2,74.5 L242.6,75.16 L243,76.01 L243.4,76.96 L243.8,77.96 L244.2,78.93 L244.6,79.82 L245,80.58 L245.4,81.14 L245.8,81.4 L246.2,81.2 L246.6,80.48 L247,79.4 L247.4,78.44 L247.8,78.15 L248.2,78.77 L248.6,80.04 L249,81.44 L249.4,82.53 L249.8,83.2 L250.2,83.54 L250.6,83.71 L251,83.81 L251.4,83.87 L251.8,83.93 L252.2,83.97 L252.6,83.99 L253,84 L253.4,84 L253.8,83.99 L254.2,83.97 L254.6,83.95 L255,83.92 L255.4,83.89 L255.8,83.85 L256.2,83.81 L256.6,83.76 L257,83.71 L257.4,83.65 L257.8,83.59 L258.2,83.53 L258.6,83.46 L259,83.39 L259.4,83.31 L259.4,66.31 L259.7,83.31 L259.4,83.31 L259.8,83.23 L260.2,83.14 L260.6,82.96 L261,82.65 L261.4,82.05 L261.8,80.97 L262.2,79.22 L262.6,76.83 L263,74.2 L263.4,72.12 L263.8,71.33 L264.2,72.08 L264.6,73.93 L265,76.08 L265.4,77.84 L265.8,78.92 L266.2,79.38 L266.6,79.43 L267,79.25 L267.4,78.94 L267.8,78.5 L268.2,77.89 L268.6,77.07 L269,76.01 L269.4,74.81 L269.8,73.63 L270.2,72.74 L270.6,72.31 L271,72.43 L271.4,73 L271.8,73.79 L272.2,74.58 L272.6,75.2 L273,75.58 L273.4,75.74 L273.8,75.75 L274.2,75.67 L274.6,75.54 L275,75.4 L275.4,75.24 L275.8,75.09 L276.2,74.94 L276.6,74.79 L277,74.64 L277.4,74.5 L277.8,74.35 L278.2,74.21 L278.6,74.07 L279,73.93 L279.4,73.8 L279.8,73.67 L280.2,73.53 L280.6,73.4 L281,73.27 L281.4,73.14 L281.8,73 L282.2,72.86 L282.3,72.82 L282.3,62.82 L282.6,72.82 L282.6,72.71 L283,72.54 L283.4,72.35 L283.8,72.13 L284.2,71.88 L284.6,71.6 L285,71.28 L285.4,70.94 L285.8,70.6 L286.2,70.26 L286.6,69.96 L287,69.71 L287.4,69.52 L287.8,69.42 L288.2,69.4 L288.6,69.44 L289,69.54 L289.4,69.67 L289.8,69.82 L290.2,69.96 L290.6,70.07 L291,70.15 L291.4,70.2 L291.8,70.21 L292.2,70.19 L292.6,70.15 L293,70.09 L293.2,70.05 L293.2,64.05 L293.5,70.05 L293.4,70.01 L293.8,69.92 L294.2,69.83 L294.6,69.73 L295,69.63 L295.4,69.53 L295.8,69.42 L296.2,69.31 L296.6,69.2 L297,69.09 L297.4,68.98 L297.8,68.87 L298.2,68.75 L298.6,68.63 L299,68.51 L299.4,68.39 L299.8,68.26 L300.2,68.14 L300.6,68.01 L301,67.88 L301.4,67.75 L301.8,67.61 L302.2,67.48 L302.6,67.34 L303,67.21 L303.4,67.07 L303.8,66.93 L304.2,66.79 L304.6,66.65 L305,66.51 L305.4,66.37 L305.8,66.22 L306.2,66.08 L306.6,65.93 L307,65.78 L307.4,65.63 L307.8,65.48 L308.2,65.33 L308.6,65.18 L309,65.02 L309.4,64.87 L309.8,64.71 L310.2,64.56 L310.6,64.4 L311,64.24 L311.4,64.08 L311.8,63.92 L312.2,63.76 L312.6,63.6 L313,63.43 L313.4,63.27 L313.8,63.1 L314.2,62.94 L314.6,62.77 L315,62.6 L315.4,62.43 L315.8,62.26 L316.2,62.09 L316.6,61.92 L317,61.75 L317.4,61.57 L317.8,61.4 L318.2,61.22 L318.6,61.05 L319,60.87 L319.4,60.69 L319.8,60.51 L320.2,60.34" fill="none" stroke="#6d1fbf" stroke-width="1.1" stroke-linejoin="round"/>
<path d="M36,133.7 L36.4,133.42 L36.8,133.14 L37.2,132.86 L37.6,132.59 L38,132.32 L38.4,132.06 L38.8,131.8 L39.2,131.55 L39.6,131.31 L40,131.08 L40.4,130.86 L40.8,130.65 L41.2,130.45 L41.6,130.26 L42,130.08 L42.4,129.92 L42.8,129.77 L43.2,129.63 L43.6,129.5 L44,129.37 L44.4,129.25 L44.8,129.13 L45.2,129.01 L45.6,128.9 L46,128.79 L46.4,128.68 L46.8,128.57 L47.2,128.47 L47.6,128.38 L48,128.28 L48.4,128.19 L48.8,128.11 L49.2,128.02 L49.6,127.94 L50,127.87 L50.4,127.79 L50.8,127.72 L51.2,127.66 L51.6,127.59 L52,127.53 L52.4,127.48 L52.8,127.42 L53.2,127.38 L53.6,127.33 L54,127.29 L54.4,127.26 L54.8,127.22 L55.2,127.2 L55.6,127.17 L56,127.14 L56.4,127.12 L56.8,127.1 L57.2,127.08 L57.6,127.06 L58,127.03 L58.4,127.01 L58.8,126.99 L59.2,126.96 L59.6,126.93 L60,126.9 L60.4,126.86 L60.8,126.82 L61.2,126.78 L61.6,126.73 L62,126.68 L62.4,126.62 L62.8,126.53 L63.2,126.37 L63.6,126.15 L64,125.9 L64.4,125.63 L64.8,125.37 L65.2,125.13 L65.6,124.93 L66,124.8 L66.4,124.71 L66.8,124.62 L67.2,124.54 L67.6,124.47 L68,124.4 L68.4,124.34 L68.8,124.28 L69.2,124.23 L69.6,124.18 L70,124.13 L70.4,124.08 L70.8,124.04 L71.2,124 L71.6,123.95 L72,123.91 L72.4,123.87 L72.8,123.83 L73.2,123.79 L73.6,123.74 L74,123.69 L74.4,123.64 L74.8,123.59 L75.2,123.53 L75.6,123.47 L76,123.4 L76.4,123.33 L76.8,123.25 L77.2,123.18 L77.6,123.1 L78,123.02 L78.4,122.94 L78.8,122.85 L79.2,122.76 L79.6,122.68 L80,122.58 L80.4,122.49 L80.8,122.4 L80.9,122.37 L80.9,116.37 L81.2,122.37 L81.2,122.3 L81.6,122.2 L81.6,122.2 L81.6,112.2 L81.9,122.2 L82,122.11 L82.4,122.01 L82.8,121.9 L83.2,121.8 L83.6,121.69 L84,121.59 L84.4,121.48 L84.8,121.37 L85.2,121.26 L85.6,121.15 L86,121.04 L86.4,120.93 L86.8,120.82 L87.2,120.7 L87.6,120.59 L88,120.47 L88.4,120.36 L88.8,120.24 L89.2,120.12 L89.6,120 L90,119.89 L90.4,119.77 L90.8,119.65 L91.2,119.53 L91.6,119.41 L92,119.29 L92.4,119.18 L92.8,119.06 L93.2,118.94 L93.6,118.82 L94,118.7 L94.4,118.58 L94.8,118.47 L95.2,118.35 L95.6,118.23 L96,118.12 L96.4,118 L96.8,117.89 L97.2,117.77 L97.4,117.72 L97.4,109.72 L97.7,117.72 L97.6,117.66 L98,117.55 L98.4,117.44 L98.8,117.33 L99.2,117.22 L99.6,117.11 L100,117 L100.4,116.89 L100.8,116.78 L101.2,116.67 L101.6,116.56 L102,116.45 L102.4,116.34 L102.8,116.22 L103.2,116.11 L103.6,115.99 L104,115.87 L104.4,115.76 L104.8,115.64 L105.2,115.52 L105.6,115.41 L106,115.29 L106.4,115.17 L106.8,115.06 L107.2,114.94 L107.6,114.83 L108,114.71 L108.4,114.6 L108.8,114.49 L109.2,114.38 L109.6,114.27 L110,114.16 L110.4,114.06 L110.8,113.95 L111.2,113.85 L111.6,113.75 L112,113.65 L112.4,113.56 L112.8,113.46 L113.2,113.37 L113.6,113.28 L114,113.2 L114.4,113.12 L114.8,113.04 L115.2,112.96 L115.6,112.89 L116,112.82 L116.4,112.75 L116.8,112.68 L117.2,112.61 L117.6,112.54 L118,112.48 L118.4,112.41 L118.8,112.35 L119.2,112.29 L119.6,112.23 L120,112.17 L120.4,112.11 L120.8,112.05 L121.2,111.99 L121.6,111.94 L122,111.88 L122.4,111.83 L122.8,111.77 L123.2,111.72 L123.6,111.67 L124,111.61 L124.4,111.56 L124.8,111.51 L125.2,111.45 L125.6,111.4 L126,111.35 L126.4,111.29 L126.8,111.24 L127.2,111.19 L127.6,111.13 L128,111.08 L128.4,111.02 L128.8,110.97 L129.2,110.91 L129.6,110.86 L130,110.8 L130.4,110.74 L130.8,110.68 L131.2,110.62 L131.6,110.55 L132,110.49 L132.4,110.42 L132.8,110.35 L133.2,110.28 L133.6,110.21 L134,110.14 L134.4,110.07 L134.8,110 L135.2,109.92 L135.6,109.85 L136,109.77 L136.4,109.7 L136.8,109.62 L137.2,109.55 L137.6,109.48 L138,109.4 L138.4,109.33 L138.8,109.26 L139.2,109.18 L139.6,109.11 L140,109.04 L140.4,108.97 L140.8,108.9 L141.2,108.84 L141.6,108.77 L142,108.71 L142.4,108.65 L142.8,108.59 L143.2,108.53 L143.6,108.48 L144,108.42 L144.4,108.37 L144.8,108.33 L145.2,108.28 L145.6,108.24 L146,108.2 L146.4,108.16 L146.8,108.13 L147.2,108.1 L147.6,108.07 L148,108.05 L148.4,108.03 L148.8,108.02 L149.2,108.01 L149.6,108 L150,108 L150.4,108 L150.8,108.01 L151.2,108.03 L151.6,108.04 L152,108.07 L152.4,108.1 L152.8,108.13 L153.2,108.17 L153.6,108.21 L154,108.25 L154.4,108.3 L154.8,108.35 L155.2,108.4 L155.6,108.46 L156,108.52 L156.4,108.58 L156.8,108.64 L157.2,108.7 L157.6,108.77 L158,108.84 L158.4,108.9 L158.8,108.97 L159.2,109.04 L159.6,109.11 L160,109.17 L160.4,109.24 L160.8,109.31 L161.2,109.37 L161.6,109.44 L162,109.5 L162.4,109.57 L162.8,109.64 L163.2,109.72 L163.6,109.81 L164,109.91 L164.4,110.01 L164.8,110.11 L165.2,110.21 L165.6,110.32 L166,110.43 L166.4,110.54 L166.8,110.64 L167.2,110.75 L167.6,110.86 L168,110.97 L168.4,111.09 L168.8,111.22 L169.2,111.38 L169.6,111.58 L170,111.82 L170.4,112.11 L170.8,112.45 L171.2,112.81 L171.6,113.15 L172,113.44 L172.4,113.63 L172.8,113.7 L173.2,113.63 L173.6,113.44 L174,113.16 L174.4,112.83 L174.8,112.51 L175.2,112.21 L175.6,111.98 L176,111.8 L176.4,111.68 L176.8,111.6 L177.2,111.55 L177.6,111.52 L178,111.51 L178.4,111.5 L178.8,111.5 L179.2,111.5 L179.6,111.5 L180,111.5 L180.4,111.5 L180.8,111.5 L181.2,111.5 L181.6,111.5 L182,111.5 L182.4,111.5 L182.8,111.5 L183.2,111.5 L183.6,111.5 L184,111.5 L184.4,111.5 L184.8,111.5 L185.2,111.5 L185.6,111.49 L186,111.48 L186.4,111.46 L186.8,111.43 L187.2,111.4 L187.6,111.36 L188,111.32 L188.4,111.28 L188.8,111.24 L189.2,111.19 L189.6,111.14 L190,111.09 L190.4,110.89 L190.8,109.41 L191.2,103.37 L191.6,94.47 L192,94.68 L192.4,103.59 L192.8,109.32 L193.2,110.61 L193.6,110.72 L194,110.7 L194.4,110.68 L194.8,110.67 L195.2,110.65 L195.6,110.64 L196,110.63 L196.4,110.62 L196.8,110.61 L197.2,110.6 L197.6,110.59 L198,110.57 L198.4,110.56 L198.8,110.55 L199.2,110.53 L199.6,110.52 L200,110.5 L200.4,110.48 L200.8,110.46 L201.2,110.43 L201.6,110.41 L202,110.38 L202.4,110.35 L202.8,110.32 L203.2,110.29 L203.6,110.26 L204,110.22 L204.4,110.18 L204.8,110.14 L205.2,110.09 L205.6,110.04 L206,109.99 L206.4,109.94 L206.8,109.89 L207.2,109.83 L207.6,109.77 L208,109.7 L208.4,109.62 L208.8,109.52 L209.2,109.39 L209.6,109.24 L210,109.07 L210.4,108.88 L210.8,108.67 L211.2,108.45 L211.6,108.21 L212,107.96 L212.4,107.7 L212.8,107.43 L213.2,107.15 L213.6,106.87 L214,106.58 L214.4,106.28 L214.8,105.98 L215.2,105.69 L215.6,105.39 L216,105.09 L216.4,104.79 L216.8,104.48 L217.2,104.11 L217.6,103.64 L218,103.01 L218.4,102.31 L218.8,101.71 L219.2,101.43 L219.6,101.47 L220,101.63 L220.4,101.7 L220.8,101.61 L221.2,101.4 L221.6,101.1 L222,100.72 L222.4,100.2 L222.8,99.54 L223.2,98.84 L223.6,98.34 L224,98.2 L224.4,98.34 L224.8,98.54 L225.2,98.56 L225.6,98.31 L226,97.71 L226.4,96.69 L226.8,95.17 L227.2,93.2 L227.6,90.98 L228,88.93 L228.4,87.55 L228.8,87.18 L229.2,87.87 L229.6,89.34 L230,91.14 L230.4,92.81 L230.8,94.09 L231.2,94.9 L231.6,95.32 L232,95.49 L232.4,95.52 L232.8,95.49 L233.2,95.45 L233.6,95.4 L234,95.33 L234.4,95.25 L234.8,95.14 L235.2,94.99 L235.6,94.79 L236,94.51 L236.4,94.13 L236.8,93.63 L237.2,92.99 L237.6,92.21 L238,91.29 L238.4,90.24 L238.8,89.1 L239.2,87.92 L239.6,86.77 L240,85.74 L240.4,84.89 L240.8,84.29 L241.2,84 L241.6,84.04 L242,84.39 L242.4,85.04 L242.8,85.91 L243.2,86.95 L243.6,88.06 L244,89.17 L244.4,90.23 L244.8,91.16 L245.2,91.92 L245.6,92.41 L246,92.49 L246.4,92.06 L246.8,91.12 L247.2,90.01 L247.6,89.29 L248,89.4 L248.4,90.34 L248.8,91.66 L249.2,92.85 L249.6,93.63 L250,94.02 L250.4,94.16 L250.8,94.19 L251.2,94.17 L251.6,94.14 L252,94.1 L252.4,94.06 L252.8,94.02 L253.2,93.98 L253.6,93.93 L254,93.88 L254.4,93.82 L254.8,93.77 L255.2,93.71 L255.6,93.64 L256,93.58 L256.4,93.51 L256.8,93.44 L257.2,93.36 L257.6,93.29 L258,93.21 L258.4,93.13 L258.8,93.04 L259.2,92.96 L259.6,92.86 L260,92.75 L260.4,92.62 L260.8,92.44 L261.2,92.11 L261.6,91.5 L262,90.43 L262.4,88.8 L262.8,86.79 L263.2,84.88 L263.6,83.72 L264,83.76 L264.4,84.9 L264.8,86.62 L265.2,88.27 L265.6,89.44 L266,90.07 L266.4,90.28 L266.8,90.24 L267.2,90.07 L267.6,89.79 L268,89.4 L268.4,88.86 L268.8,88.12 L269.2,87.22 L269.6,86.27 L270,85.43 L270.4,84.9 L270.8,84.8 L271.2,85.1 L271.6,85.69 L272,86.37 L272.4,86.96 L272.8,87.38 L273.2,87.61 L273.6,87.69 L274,87.67 L274.4,87.6 L274.8,87.51 L275.2,87.4 L275.6,87.29 L276,87.18 L276.4,87.07 L276.8,86.95 L277.2,86.84 L277.6,86.72 L278,86.61 L278.4,86.49 L278.8,86.37 L279.2,86.25 L279.6,86.13 L280,86 L280.4,85.87 L280.8,85.73 L281.2,85.6 L281.6,85.45 L282,85.3 L282.4,85.14 L282.8,84.96 L283.2,84.76 L283.6,84.53 L284,84.27 L284.4,83.97 L284.8,83.63 L285.2,83.27 L285.6,82.89 L286,82.51 L286.4,82.14 L286.8,81.82 L287.2,81.56 L287.6,81.37 L288,81.26 L288.4,81.23 L288.8,81.25 L289.2,81.33 L289.6,81.42 L290,81.51 L290.4,81.59 L290.8,81.64 L291.2,81.66 L291.6,81.64 L292,81.59 L292.4,81.51 L292.8,81.41 L293.2,81.29 L293.6,81.17 L294,81.03 L294.4,80.9 L294.8,80.76 L295.2,80.62 L295.6,80.48 L296,80.34 L296.4,80.2 L296.8,80.06 L297.2,79.93 L297.6,79.79 L298,79.65 L298.4,79.52 L298.8,79.39 L299.2,79.26 L299.6,79.13 L300,79 L300.4,78.87 L300.8,78.75 L301.2,78.62 L301.6,78.49 L302,78.37 L302.4,78.24 L302.8,78.12 L303.2,77.99 L303.6,77.87 L304,77.74 L304.4,77.62 L304.8,77.5 L305.2,77.37 L305.6,77.25 L306,77.13 L306.4,77.01 L306.8,76.89 L307.2,76.77 L307.6,76.65 L308,76.53 L308.4,76.41 L308.8,76.29 L309.2,76.17 L309.6,76.05 L310,75.93 L310.4,75.81 L310.8,75.7 L311.2,75.58 L311.6,75.46 L312,75.35 L312.4,75.23 L312.8,75.12 L313.2,75 L313.6,74.89 L314,74.78 L314.4,74.66 L314.8,74.55 L315.2,74.44 L315.6,74.33 L316,74.22 L316.4,74.11 L316.8,74 L317.2,73.89 L317.6,73.78 L318,73.67 L318.4,73.56 L318.8,73.45 L319.2,73.35 L319.6,73.24 L320,73.13 L320.4,73.03" fill="none" stroke="#1a1a1a" stroke-width="1.2" stroke-linejoin="round"/>
<path d="M36,176 L36.4,175.17 L36.8,174.35 L37.2,173.54 L37.6,172.74 L38,171.94 L38.4,171.16 L38.8,170.38 L39.2,169.61 L39.6,168.82 L40,168 L40.4,167.17 L40.8,166.34 L41.2,165.52 L41.6,164.72 L42,163.95 L42.4,163.23 L42.8,162.56 L43.2,161.96 L43.6,161.44 L44,161 L44.4,160.62 L44.8,160.27 L45.2,159.94 L45.6,159.62 L46,159.32 L46.4,159.04 L46.8,158.78 L47.2,158.53 L47.6,158.3 L48,158.07 L48.4,157.86 L48.8,157.66 L49.2,157.47 L49.6,157.28 L50,157.1 L50.4,156.93 L50.8,156.78 L51.2,156.64 L51.6,156.51 L52,156.39 L52.4,156.27 L52.8,156.15 L53.2,156.03 L53.6,155.91 L54,155.78 L54.4,155.64 L54.8,155.48 L55.2,155.31 L55.6,155.14 L56,154.95 L56.4,154.75 L56.8,154.55 L57.2,154.34 L57.6,154.12 L58,153.9 L58.4,153.67 L58.8,153.43 L59.2,153.19 L59.6,152.94 L60,152.69 L60.4,152.43 L60.8,152.16 L61.2,151.9 L61.6,151.62 L62,151.35 L62.4,151.07 L62.8,150.78 L63.2,150.46 L63.6,150.12 L64,149.77 L64.4,149.41 L64.8,149.05 L65.2,148.71 L65.6,148.39 L66,148.1 L66.4,147.83 L66.8,147.58 L67.2,147.34 L67.6,147.11 L68,146.89 L68.4,146.67 L68.8,146.45 L69.2,146.24 L69.6,146.02 L70,145.8 L70.4,145.58 L70.8,145.36 L71.2,145.15 L71.6,144.94 L72,144.73 L72.4,144.52 L72.8,144.31 L73.2,144.1 L73.6,143.9 L74,143.69 L74.4,143.47 L74.8,143.26 L75.2,143.04 L75.6,142.82 L76,142.6 L76.4,142.37 L76.8,142.14 L77.2,141.91 L77.6,141.67 L78,141.44 L78.4,141.2 L78.8,140.96 L79.2,140.71 L79.6,140.47 L80,140.22 L80.4,139.97 L80.8,139.73 L81.2,139.48 L81.6,139.23 L81.6,139.23 L81.6,131.23 L81.9,139.23 L82,138.97 L82.4,138.72 L82.8,138.47 L83.2,138.22 L83.6,137.96 L84,137.71 L84.4,137.46 L84.8,137.2 L85.2,136.95 L85.6,136.7 L86,136.45 L86.4,136.2 L86.8,135.95 L87.2,135.7 L87.6,135.45 L88,135.2 L88.4,134.96 L88.8,134.72 L89.2,134.48 L89.6,134.24 L90,134 L90.4,133.76 L90.8,133.53 L91.2,133.3 L91.6,133.06 L92,132.83 L92.4,132.6 L92.8,132.37 L93.2,132.14 L93.6,131.91 L94,131.69 L94.4,131.46 L94.8,131.23 L95.2,131 L95.6,130.78 L96,130.55 L96.4,130.33 L96.8,130.1 L97.2,129.88 L97.4,129.76 L97.4,123.76 L97.7,129.76 L97.6,129.65 L98,129.43 L98.4,129.2 L98.8,128.98 L99.2,128.75 L99.6,128.53 L100,128.3 L100.4,128.07 L100.8,127.83 L101.2,127.59 L101.6,127.35 L102,127.11 L102.4,126.86 L102.8,126.63 L103.2,126.4 L103.6,126.17 L104,125.96 L104.4,125.77 L104.8,125.58 L105.2,125.42 L105.6,125.26 L106,125.1 L106.4,124.94 L106.8,124.79 L107.2,124.64 L107.6,124.5 L108,124.36 L108.4,124.22 L108.8,124.08 L109.2,123.95 L109.6,123.81 L110,123.69 L110.4,123.56 L110.8,123.43 L111.2,123.31 L111.6,123.19 L112,123.07 L112.4,122.96 L112.8,122.84 L113.2,122.73 L113.6,122.62 L114,122.51 L114.4,122.4 L114.8,122.3 L115.2,122.19 L115.6,122.09 L116,121.98 L116.4,121.88 L116.8,121.78 L117.2,121.68 L117.6,121.58 L118,121.48 L118.4,121.39 L118.8,121.29 L119.2,121.19 L119.6,121.1 L120,121 L120.4,120.91 L120.8,120.81 L121.2,120.72 L121.6,120.63 L122,120.54 L122.4,120.46 L122.8,120.37 L123.2,120.29 L123.6,120.21 L124,120.13 L124.4,120.05 L124.8,119.97 L125.2,119.9 L125.6,119.82 L126,119.74 L126.4,119.67 L126.8,119.59 L127.2,119.52 L127.6,119.45 L128,119.37 L128.4,119.3 L128.8,119.22 L129.2,119.15 L129.6,119.08 L130,119 L130.4,118.93 L130.8,118.85 L131.2,118.78 L131.6,118.7 L132,118.62 L132.4,118.54 L132.8,118.46 L133.2,118.38 L133.6,118.3 L134,118.22 L134.4,118.13 L134.8,118.04 L135.2,117.96 L135.6,117.86 L136,117.76 L136.4,117.66 L136.8,117.56 L137.2,117.45 L137.6,117.33 L138,117.22 L138.4,117.1 L138.8,116.98 L139.2,116.85 L139.6,116.73 L140,116.6 L140.4,116.47 L140.8,116.34 L141.2,116.2 L141.6,116.07 L142,115.94 L142.4,115.8 L142.8,115.67 L143.2,115.54 L143.6,115.4 L144,115.27 L144.4,115.14 L144.8,115.01 L145.2,114.88 L145.6,114.76 L146,114.63 L146.4,114.51 L146.8,114.39 L147.2,114.28 L147.6,114.17 L148,114.06 L148.4,113.95 L148.8,113.85 L149.2,113.75 L149.6,113.66 L150,113.57 L150.4,113.49 L150.8,113.41 L151.2,113.34 L151.6,113.28 L152,113.22 L152.4,113.17 L152.8,113.12 L153.2,113.08 L153.6,113.05 L154,113.03 L154.4,113.01 L154.8,113 L155.2,113 L155.6,113 L156,113 L156.4,113 L156.8,113 L157.2,113 L157.6,113 L158,113 L158.4,113 L158.8,113 L159.2,113 L159.6,113 L160,113 L160.4,113 L160.8,113 L161.2,113 L161.6,113 L162,113 L162.4,113 L162.8,113 L163.2,113 L163.6,113 L164,113 L164.4,113 L164.8,113 L165.2,113 L165.6,113 L166,113 L166.4,113 L166.8,113 L167.2,113 L167.6,113.01 L168,113.02 L168.4,113.05 L168.8,113.1 L169.2,113.18 L169.6,113.3 L170,113.48 L170.4,113.71 L170.8,114.01 L171.2,114.33 L171.6,114.66 L172,114.94 L172.4,115.13 L172.8,115.2 L173.2,115.12 L173.6,114.93 L174,114.64 L174.4,114.3 L174.8,113.96 L175.2,113.66 L175.6,113.4 L176,113.21 L176.4,113.07 L176.8,112.97 L177.2,112.9 L177.6,112.86 L178,112.82 L178.4,112.79 L178.8,112.76 L179.2,112.74 L179.6,112.71 L180,112.68 L180.4,112.66 L180.8,112.63 L181.2,112.6 L181.6,112.57 L182,112.54 L182.4,112.51 L182.8,112.48 L183.2,112.45 L183.6,112.41 L184,112.38 L184.4,112.35 L184.8,112.32 L185.2,112.29 L185.6,112.25 L186,112.22 L186.4,112.19 L186.8,112.16 L187.2,112.13 L187.6,112.1 L188,112.07 L188.4,112.04 L188.8,112.01 L189.2,111.98 L189.6,111.95 L190,111.92 L190.4,111.74 L190.8,110.28 L191.2,104.27 L191.6,95.39 L192,95.62 L192.4,104.55 L192.8,110.29 L193.2,111.6 L193.6,111.71 L194,111.7 L194.4,111.68 L194.8,111.67 L195.2,111.66 L195.6,111.65 L196,111.63 L196.4,111.62 L196.8,111.61 L197.2,111.6 L197.6,111.59 L198,111.58 L198.4,111.57 L198.8,111.55 L199.2,111.54 L199.6,111.52 L200,111.5 L200.4,111.48 L200.8,111.45 L201.2,111.43 L201.6,111.39 L202,111.36 L202.4,111.32 L202.8,111.28 L203.2,111.24 L203.6,111.2 L204,111.15 L204.4,111.1 L204.8,111.04 L205.2,110.98 L205.6,110.92 L206,110.86 L206.4,110.79 L206.8,110.73 L207.2,110.65 L207.6,110.58 L208,110.5 L208.4,110.41 L208.8,110.3 L209.2,110.18 L209.6,110.03 L210,109.88 L210.4,109.7 L210.8,109.52 L211.2,109.32 L211.6,109.11 L212,108.89 L212.4,108.66 L212.8,108.42 L213.2,108.17 L213.6,107.92 L214,107.66 L214.4,107.4 L214.8,107.13 L215.2,106.86 L215.6,106.59 L216,106.32 L216.4,106.05 L216.8,105.75 L217.2,105.4 L217.6,104.93 L218,104.31 L218.4,103.61 L218.8,103.01 L219.2,102.72 L219.6,102.74 L220,102.88 L220.4,102.93 L220.8,102.82 L221.2,102.58 L221.6,102.26 L222,101.85 L222.4,101.3 L222.8,100.61 L223.2,99.89 L223.6,99.36 L224,99.2 L224.4,99.32 L224.8,99.49 L225.2,99.49 L225.6,99.22 L226,98.61 L226.4,97.59 L226.8,96.07 L227.2,94.09 L227.6,91.87 L228,89.84 L228.4,88.46 L228.8,88.09 L229.2,88.79 L229.6,90.28 L230,92.09 L230.4,93.77 L230.8,95.06 L231.2,95.88 L231.6,96.31 L232,96.48 L232.4,96.51 L232.8,96.49 L233.2,96.45 L233.6,96.4 L234,96.33 L234.4,96.25 L234.8,96.14 L235.2,95.99 L235.6,95.79 L236,95.51 L236.4,95.13 L236.8,94.63 L237.2,93.99 L237.6,93.21 L238,92.29 L238.4,91.24 L238.8,90.1 L239.2,88.92 L239.6,87.77 L240,86.74 L240.4,85.89 L240.8,85.29 L241.2,85 L241.6,85.03 L242,85.38 L242.4,86.02 L242.8,86.88 L243.2,87.9 L243.6,89 L244,90.11 L244.4,91.16 L244.8,92.09 L245.2,92.85 L245.6,93.34 L246,93.44 L246.4,93.01 L246.8,92.1 L247.2,91.03 L247.6,90.34 L248,90.48 L248.4,91.45 L248.8,92.8 L249.2,94.02 L249.6,94.83 L250,95.25 L250.4,95.42 L250.8,95.48 L251.2,95.5 L251.6,95.5 L252,95.5 L252.4,95.5 L252.8,95.5 L253.2,95.5 L253.6,95.47 L254,95.43 L254.4,95.36 L254.8,95.28 L255.2,95.18 L255.6,95.07 L256,94.96 L256.4,94.83 L256.8,94.7 L257.2,94.57 L257.6,94.43 L258,94.3 L258.4,94.17 L258.8,94.06 L259.2,93.94 L259.6,93.83 L260,93.72 L260.4,93.58 L260.8,93.39 L261.2,93.07 L261.6,92.46 L262,91.4 L262.4,89.78 L262.8,87.78 L263.2,85.87 L263.6,84.72 L264,84.76 L264.4,85.9 L264.8,87.62 L265.2,89.27 L265.6,90.45 L266,91.07 L266.4,91.29 L266.8,91.25 L267.2,91.08 L267.6,90.81 L268,90.42 L268.4,89.87 L268.8,89.13 L269.2,88.23 L269.6,87.27 L270,86.43 L270.4,85.9 L270.8,85.79 L271.2,86.09 L271.6,86.67 L272,87.34 L272.4,87.92 L272.8,88.33 L273.2,88.56 L273.6,88.63 L274,88.6 L274.4,88.52 L274.8,88.42 L275.2,88.3 L275.6,88.18 L276,88.06 L276.4,87.94 L276.8,87.82 L277.2,87.7 L277.6,87.57 L278,87.45 L278.4,87.32 L278.8,87.2 L279.2,87.07 L279.6,86.93 L280,86.8 L280.4,86.66 L280.8,86.52 L281.2,86.38 L281.6,86.23 L282,86.07 L282.4,85.9 L282.8,85.71 L283.2,85.5 L283.6,85.26 L284,84.99 L284.4,84.69 L284.8,84.35 L285.2,83.97 L285.6,83.59 L286,83.2 L286.4,82.83 L286.8,82.5 L287.2,82.23 L287.6,82.03 L288,81.92 L288.4,81.87 L288.8,81.89 L289.2,81.96 L289.6,82.04 L290,82.13 L290.4,82.2 L290.8,82.25 L291.2,82.26 L291.6,82.23 L292,82.17 L292.4,82.09 L292.8,81.98 L293.2,81.86 L293.6,81.73 L294,81.59 L294.4,81.45 L294.8,81.31 L295.2,81.16 L295.6,81.02 L296,80.87 L296.4,80.73 L296.8,80.59 L297.2,80.45 L297.6,80.31 L298,80.17 L298.4,80.03 L298.8,79.9 L299.2,79.76 L299.6,79.63 L300,79.5 L300.4,79.37 L300.8,79.24 L301.2,79.11 L301.6,78.98 L302,78.86 L302.4,78.73 L302.8,78.6 L303.2,78.47 L303.6,78.35 L304,78.22 L304.4,78.1 L304.8,77.97 L305.2,77.85 L305.6,77.72 L306,77.6 L306.4,77.48 L306.8,77.36 L307.2,77.23 L307.6,77.11 L308,76.99 L308.4,76.87 L308.8,76.75 L309.2,76.63 L309.6,76.52 L310,76.4 L310.4,76.28 L310.8,76.16 L311.2,76.05 L311.6,75.93 L312,75.81 L312.4,75.7 L312.8,75.59 L313.2,75.47 L313.6,75.36 L314,75.25 L314.4,75.13 L314.8,75.02 L315.2,74.91 L315.6,74.8 L316,74.69 L316.4,74.58 L316.8,74.47 L317.2,74.37 L317.6,74.26 L318,74.15 L318.4,74.05 L318.8,73.94 L319.2,73.84 L319.6,73.73 L320,73.63 L320.4,73.53" fill="none" stroke="#1a1a1a" stroke-width="1.2" stroke-linejoin="round"/>
<path d="M69,222 L69.4,220.99 L69.8,220 L70.2,219.06 L70.6,218.2 L71,217.42 L71.4,216.67 L71.8,215.95 L72.2,215.26 L72.6,214.6 L73,213.95 L73.4,213.32 L73.8,212.71 L74.2,212.11 L74.6,211.52 L75,210.93 L75.4,210.35 L75.8,209.77 L76.2,209.19 L76.6,208.6 L77,208 L77.4,207.4 L77.8,206.82 L78.2,206.25 L78.6,205.68 L79,205.12 L79.4,204.57 L79.8,204.01 L80.2,203.46 L80.6,202.91 L81,202.35 L81.4,201.79 L81.8,201.22 L82.2,200.65 L82.6,200.06 L83,199.46 L83.4,198.85 L83.8,198.22 L84.2,197.59 L84.6,196.95 L85,196.3 L85.4,195.64 L85.8,194.98 L86.2,194.31 L86.6,193.64 L87,192.96 L87.4,192.28 L87.8,191.59 L88.2,190.9 L88.6,190.2 L89,189.51 L89.4,188.81 L89.8,188.11 L90.2,187.41 L90.6,186.7 L91,186 L91.4,185.29 L91.8,184.56 L92.2,183.82 L92.6,183.07 L93,182.32 L93.4,181.56 L93.8,180.8 L94.2,180.04 L94.6,179.28 L95,178.53 L95.4,177.79 L95.8,177.07 L96.2,176.36 L96.6,175.66 L97,174.99 L97.4,174.34 L97.8,173.7 L98.2,173.07 L98.6,172.45 L99,171.83 L99.4,171.22 L99.8,170.62 L100.2,170.03 L100.6,169.44 L101,168.86 L101.4,168.28 L101.8,167.71 L102.2,167.15 L102.6,166.6 L103,166.05 L103.4,165.5 L103.8,164.96 L104.2,164.43 L104.6,163.9 L105,163.38 L105.4,162.87 L105.8,162.36 L106.2,161.85 L106.6,161.35 L107,160.86 L107.4,160.38 L107.8,159.91 L108.2,159.44 L108.6,158.98 L109,158.53 L109.4,158.08 L109.8,157.64 L110.2,157.2 L110.6,156.77 L111,156.34 L111.4,155.91 L111.8,155.48 L112.2,155.05 L112.6,154.62 L113,154.19 L113.4,153.75 L113.8,153.32 L114.2,152.88 L114.6,152.43 L115,151.98 L115.4,151.53 L115.8,151.07 L116.2,150.6 L116.6,150.12 L117,149.63 L117.4,149.14 L117.8,148.65 L118.2,148.15 L118.6,147.65 L119,147.14 L119.4,146.64 L119.8,146.14 L120.2,145.64 L120.6,145.14 L121,144.65 L121.4,144.16 L121.8,143.68 L122.2,143.21 L122.6,142.74 L123,142.29 L123.4,141.85 L123.8,141.42 L124.2,141 L124.6,140.6 L125,140.21 L125.4,139.84 L125.8,139.47 L126.2,139.12 L126.6,138.78 L127,138.44 L127.4,138.11 L127.8,137.78 L128.2,137.46 L128.6,137.13 L129,136.81 L129.4,136.49 L129.8,136.16 L130.2,135.84 L130.6,135.51 L131,135.18 L131.4,134.85 L131.8,134.53 L132.2,134.21 L132.6,133.88 L133,133.57 L133.4,133.25 L133.8,132.93 L134.2,132.62 L134.6,132.31 L135,132 L135.4,131.69 L135.8,131.38 L136.2,131.07 L136.6,130.77 L137,130.46 L137.4,130.15 L137.8,129.85 L138.2,129.55 L138.6,129.25 L139,128.95 L139.4,128.66 L139.8,128.38 L140.2,128.1 L140.6,127.82 L141,127.56 L141.4,127.3 L141.8,127.04 L142.2,126.79 L142.6,126.53 L143,126.27 L143.4,126.01 L143.8,125.75 L144.2,125.49 L144.6,125.24 L145,124.98 L145.4,124.73 L145.8,124.48 L146.2,124.23 L146.6,123.99 L147,123.75 L147.4,123.51 L147.8,123.28 L148.2,123.06 L148.6,122.84 L149,122.63 L149.4,122.42 L149.8,122.23 L150.2,122.04 L150.6,121.85 L151,121.68 L151.4,121.52 L151.8,121.37 L152.2,121.22 L152.6,121.09 L153,120.97 L153.4,120.86 L153.8,120.74 L154.2,120.63 L154.6,120.53 L155,120.43 L155.4,120.33 L155.8,120.23 L156.2,120.13 L156.6,120.04 L157,119.95 L157.4,119.87 L157.8,119.78 L158.2,119.7 L158.6,119.62 L159,119.54 L159.4,119.47 L159.8,119.4 L160.2,119.33 L160.6,119.26 L161,119.19 L161.4,119.13 L161.8,119.06 L162.2,119 L162.6,118.94 L163,118.88 L163.4,118.82 L163.8,118.77 L164.2,118.71 L164.6,118.66 L165,118.61 L165.4,118.57 L165.8,118.52 L166.2,118.48 L166.6,118.44 L167,118.41 L167.4,118.37 L167.8,118.35 L168.2,118.33 L168.6,118.33 L169,118.35 L169.4,118.42 L169.8,118.53 L170.2,118.7 L170.6,118.92 L171,119.19 L171.4,119.48 L171.8,119.74 L172.2,119.92 L172.6,120 L173,119.93 L173.4,119.73 L173.8,119.42 L174.2,119.03 L174.6,118.62 L175,118.22 L175.4,117.87 L175.8,117.57 L176.2,117.33 L176.6,117.13 L177,116.97 L177.4,116.83 L177.8,116.71 L178.2,116.59 L178.6,116.48 L179,116.37 L179.4,116.26 L179.8,116.14 L180.2,116.03 L180.6,115.92 L181,115.8 L181.4,115.68 L181.8,115.57 L182.2,115.45 L182.6,115.34 L183,115.22 L183.4,115.11 L183.8,114.99 L184.2,114.88 L184.6,114.77 L185,114.66 L185.4,114.55 L185.8,114.44 L186.2,114.34 L186.6,114.23 L187,114.13 L187.4,114.04 L187.8,113.94 L188.2,113.85 L188.6,113.76 L189,113.68 L189.4,113.6 L189.8,113.52 L190.2,113.41 L190.6,112.84 L191,109.49 L191.4,100.94 L191.8,95.2 L192.2,101.22 L192.6,109.52 L193,112.58 L193.4,113.01 L193.8,113.01 L194.2,112.99 L194.6,112.97 L195,112.96 L195.4,112.94 L195.8,112.93 L196.2,112.92 L196.6,112.91 L197,112.9 L197.4,112.89 L197.8,112.88 L198.2,112.87 L198.6,112.86 L199,112.85 L199.4,112.83 L199.8,112.81 L200.2,112.79 L200.6,112.76 L201,112.73 L201.4,112.69 L201.8,112.65 L202.2,112.6 L202.6,112.55 L203,112.5 L203.4,112.44 L203.8,112.38 L204.2,112.31 L204.6,112.24 L205,112.16 L205.4,112.08 L205.8,112 L206.2,111.92 L206.6,111.83 L207,111.74 L207.4,111.64 L207.8,111.55 L208.2,111.45 L208.6,111.33 L209,111.2 L209.4,111.06 L209.8,110.9 L210.2,110.73 L210.6,110.55 L211,110.35 L211.4,110.15 L211.8,109.93 L212.2,109.71 L212.6,109.48 L213,109.24 L213.4,108.99 L213.8,108.74 L214.2,108.49 L214.6,108.23 L215,107.97 L215.4,107.7 L215.8,107.44 L216.2,107.17 L216.6,106.89 L217,106.58 L217.4,106.18 L217.8,105.64 L218.2,104.96 L218.6,104.28 L219,103.82 L219.4,103.7 L219.8,103.81 L220.2,103.92 L220.6,103.89 L221,103.71 L221.4,103.43 L221.8,103.06 L222.2,102.59 L222.6,101.97 L223,101.24 L223.4,100.59 L223.8,100.23 L224.2,100.23 L224.6,100.41 L225,100.52 L225.4,100.4 L225.8,99.96 L226.2,99.16 L226.6,97.88 L227,96.11 L227.4,93.96 L227.8,91.76 L228.2,89.98 L228.6,89.07 L229,89.24 L229.4,90.37 L229.8,92.07 L230.2,93.85 L230.6,95.36 L231,96.41 L231.4,97.03 L231.8,97.33 L232.2,97.44 L232.6,97.46 L233,97.47 L233.4,97.47 L233.8,97.45 L234.2,97.41 L234.6,97.35 L235,97.25 L235.4,97.1 L235.8,96.88 L236.2,96.58 L236.6,96.16 L237,95.62 L237.4,94.93 L237.8,94.09 L238.2,93.12 L238.6,92.04 L239,90.89 L239.4,89.74 L239.8,88.66 L240.2,87.73 L240.6,87.03 L241,86.61 L241.4,86.51 L241.8,86.74 L242.2,87.27 L242.6,88.07 L243,89.07 L243.4,90.19 L243.8,91.34 L244.2,92.47 L244.6,93.51 L245,94.4 L245.4,95.07 L245.8,95.41 L246.2,95.28 L246.6,94.6 L247,93.55 L247.4,92.61 L247.8,92.34 L248.2,92.99 L248.6,94.29 L249,95.71 L249.4,96.83 L249.8,97.53 L250.2,97.91 L250.6,98.11 L251,98.23 L251.4,98.32 L251.8,98.4 L252.2,98.45 L252.6,98.49 L253,98.5 L253.4,98.48 L253.8,98.42 L254.2,98.33 L254.6,98.2 L255,98.05 L255.4,97.88 L255.8,97.69 L256.2,97.49 L256.6,97.27 L257,97.05 L257.4,96.83 L257.8,96.61 L258.2,96.4 L258.6,96.19 L259,96 L259.4,95.81 L259.8,95.62 L260.2,95.41 L260.6,95.16 L261,94.83 L261.4,94.29 L261.8,93.39 L262.2,91.96 L262.6,90.02 L263,87.91 L263.4,86.24 L263.8,85.6 L264.2,86.2 L264.6,87.68 L265,89.41 L265.4,90.84 L265.8,91.73 L266.2,92.13 L266.6,92.21 L267,92.11 L267.4,91.9 L267.8,91.59 L268.2,91.14 L268.6,90.51 L269,89.69 L269.4,88.75 L269.8,87.82 L270.2,87.11 L270.6,86.77 L271,86.87 L271.4,87.32 L271.8,87.96 L272.2,88.6 L272.6,89.09 L273,89.39 L273.4,89.52 L273.8,89.52 L274.2,89.45 L274.6,89.34 L275,89.22 L275.4,89.09 L275.8,88.95 L276.2,88.82 L276.6,88.68 L277,88.54 L277.4,88.41 L277.8,88.27 L278.2,88.13 L278.6,88 L279,87.86 L279.4,87.71 L279.8,87.57 L280.2,87.43 L280.6,87.28 L281,87.13 L281.4,86.97 L281.8,86.81 L282.2,86.64 L282.6,86.45 L283,86.25 L283.4,86.02 L283.8,85.76 L284.2,85.47 L284.6,85.14 L285,84.77 L285.4,84.39 L285.8,83.99 L286.2,83.6 L286.6,83.24 L287,82.94 L287.4,82.7 L287.8,82.54 L288.2,82.46 L288.6,82.44 L289,82.49 L289.4,82.56 L289.8,82.65 L290.2,82.72 L290.6,82.78 L291,82.8 L291.4,82.79 L291.8,82.75 L292.2,82.67 L292.6,82.57 L293,82.46 L293.4,82.33 L293.8,82.19 L294.2,82.05 L294.6,81.9 L295,81.76 L295.4,81.61 L295.8,81.46 L296.2,81.32 L296.6,81.17 L297,81.03 L297.4,80.89 L297.8,80.75 L298.2,80.61 L298.6,80.47 L299,80.33 L299.4,80.2 L299.8,80.07 L300.2,79.93 L300.6,79.8 L301,79.67 L301.4,79.54 L301.8,79.41 L302.2,79.28 L302.6,79.16 L303,79.03 L303.4,78.9 L303.8,78.77 L304.2,78.65 L304.6,78.52 L305,78.39 L305.4,78.27 L305.8,78.15 L306.2,78.02 L306.6,77.9 L307,77.78 L307.4,77.65 L307.8,77.53 L308.2,77.41 L308.6,77.29 L309,77.17 L309.4,77.05 L309.8,76.93 L310.2,76.82 L310.6,76.7 L311,76.58 L311.4,76.46 L311.8,76.35 L312.2,76.23 L312.6,76.12 L313,76.01 L313.4,75.89 L313.8,75.78 L314.2,75.67 L314.6,75.56 L315,75.45 L315.4,75.34 L315.8,75.23 L316.2,75.12 L316.6,75.01 L317,74.91 L317.4,74.8 L317.8,74.69 L318.2,74.59 L318.6,74.49 L319,74.38 L319.4,74.28 L319.8,74.18 L320.2,74.08" fill="none" stroke="#2a2a2a" stroke-width="1.3" stroke-linejoin="round"/>
<path d="M110,240 L110.4,239.02 L110.8,238.05 L111.2,237.07 L111.6,236.09 L112,235.12 L112.4,234.14 L112.8,233.16 L113.2,232.18 L113.6,231.21 L114,230.23 L114.4,229.25 L114.8,228.28 L115.2,227.3 L115.6,226.32 L116,225.35 L116.4,224.37 L116.8,223.39 L117.2,222.42 L117.6,221.44 L118,220.46 L118.4,219.49 L118.8,218.51 L119.2,217.53 L119.6,216.56 L120,215.58 L120.4,214.6 L120.8,213.62 L121.2,212.64 L121.6,211.66 L122,210.68 L122.4,209.7 L122.8,208.72 L123.2,207.74 L123.6,206.76 L124,205.78 L124.4,204.81 L124.8,203.83 L125.2,202.86 L125.6,201.89 L126,200.92 L126.4,199.95 L126.8,198.98 L127.2,198.02 L127.6,197.04 L128,196.06 L128.4,195.06 L128.8,194.07 L129.2,193.06 L129.6,192.06 L130,191.06 L130.4,190.06 L130.8,189.06 L131.2,188.07 L131.6,187.09 L132,186.12 L132.4,185.17 L132.8,184.23 L133.2,183.3 L133.6,182.39 L134,181.51 L134.4,180.65 L134.8,179.81 L135.2,179 L135.6,178.21 L136,177.44 L136.4,176.69 L136.8,175.96 L137.2,175.23 L137.6,174.52 L138,173.83 L138.4,173.14 L138.8,172.46 L139.2,171.79 L139.6,171.13 L140,170.48 L140.4,169.83 L140.8,169.18 L141.2,168.54 L141.6,167.89 L142,167.25 L142.4,166.61 L142.8,165.96 L143.2,165.31 L143.6,164.66 L144,164 L144.4,163.33 L144.8,162.66 L145.2,161.98 L145.6,161.3 L146,160.62 L146.4,159.93 L146.8,159.24 L147.2,158.56 L147.6,157.87 L148,157.2 L148.4,156.52 L148.8,155.86 L149.2,155.2 L149.6,154.55 L150,153.91 L150.4,153.29 L150.8,152.68 L151.2,152.08 L151.6,151.5 L152,150.94 L152.4,150.39 L152.8,149.87 L153.2,149.36 L153.6,148.85 L154,148.36 L154.4,147.87 L154.8,147.38 L155.2,146.91 L155.6,146.44 L156,145.99 L156.4,145.54 L156.8,145.09 L157.2,144.66 L157.6,144.24 L158,143.82 L158.4,143.41 L158.8,143.02 L159.2,142.63 L159.6,142.25 L160,141.88 L160.4,141.52 L160.8,141.17 L161.2,140.83 L161.6,140.5 L162,140.19 L162.4,139.88 L162.8,139.59 L163.2,139.3 L163.6,139.03 L164,138.75 L164.4,138.49 L164.8,138.23 L165.2,137.97 L165.6,137.72 L166,137.47 L166.4,137.22 L166.8,136.97 L167.2,136.73 L167.6,136.49 L168,136.25 L168.4,136.01 L168.8,135.78 L169.2,135.55 L169.6,135.32 L170,135.09 L170.4,134.87 L170.8,134.65 L171.2,134.43 L171.6,134.21 L172,133.99 L172.4,133.78 L172.8,133.57 L173.2,133.36 L173.6,133.16 L174,132.95 L174.4,132.75 L174.8,132.55 L175.2,132.36 L175.6,132.16 L176,131.97 L176.4,131.78 L176.8,131.59 L177.2,131.41 L177.6,131.23 L178,131.05 L178.4,130.87 L178.8,130.7 L179.2,130.53 L179.6,130.37 L180,130.2 L180.4,130.04 L180.8,129.88 L181.2,129.73 L181.6,129.57 L182,129.42 L182.4,129.26 L182.8,129.11 L183.2,128.96 L183.6,128.81 L184,128.66 L184.4,128.51 L184.8,128.36 L185.2,128.21 L185.6,128.06 L186,127.91 L186.4,127.75 L186.8,127.6 L187.2,127.45 L187.6,127.29 L188,127.13 L188.4,126.97 L188.8,126.81 L189.2,126.64 L189.6,126.47 L190,126.29 L190.4,125.99 L190.8,124.53 L191.2,119.01 L191.6,110.94 L192,110.97 L192.4,118.73 L192.8,123.66 L193.2,124.65 L193.6,124.58 L194,124.4 L194.4,124.23 L194.8,124.07 L195.2,123.93 L195.6,123.79 L196,123.67 L196.4,123.55 L196.8,123.43 L197.2,123.32 L197.6,123.21 L198,123.1 L198.4,122.99 L198.8,122.87 L199.2,122.76 L199.6,122.63 L200,122.5 L200.4,122.36 L200.8,122.22 L201.2,122.07 L201.6,121.93 L202,121.77 L202.4,121.62 L202.8,121.46 L203.2,121.3 L203.6,121.14 L204,120.97 L204.4,120.81 L204.8,120.64 L205.2,120.48 L205.6,120.31 L206,120.14 L206.4,119.97 L206.8,119.8 L207.2,119.63 L207.6,119.47 L208,119.3 L208.4,119.14 L208.8,118.98 L209.2,118.82 L209.6,118.67 L210,118.52 L210.4,118.37 L210.8,118.22 L211.2,118.07 L211.6,117.92 L212,117.77 L212.4,117.62 L212.8,117.46 L213.2,117.31 L213.6,117.15 L214,116.99 L214.4,116.82 L214.8,116.64 L215.2,116.47 L215.6,116.28 L216,116.09 L216.4,115.88 L216.8,115.65 L217.2,115.34 L217.6,114.91 L218,114.31 L218.4,113.61 L218.8,113.01 L219.2,112.7 L219.6,112.69 L220,112.78 L220.4,112.77 L220.8,112.59 L221.2,112.28 L221.6,111.87 L222,111.36 L222.4,110.7 L222.8,109.9 L223.2,109.06 L223.6,108.4 L224,108.1 L224.4,108.05 L224.8,108.02 L225.2,107.81 L225.6,107.38 L226,106.7 L226.4,105.7 L226.8,104.29 L227.2,102.49 L227.6,100.5 L228,98.68 L228.4,97.46 L228.8,97.15 L229.2,97.79 L229.6,99.14 L230,100.77 L230.4,102.27 L230.8,103.42 L231.2,104.14 L231.6,104.49 L232,104.61 L232.4,104.6 L232.8,104.52 L233.2,104.43 L233.6,104.32 L234,104.21 L234.4,104.08 L234.8,103.94 L235.2,103.77 L235.6,103.56 L236,103.29 L236.4,102.96 L236.8,102.54 L237.2,102.03 L237.6,101.4 L238,100.68 L238.4,99.86 L238.8,98.98 L239.2,98.07 L239.6,97.19 L240,96.39 L240.4,95.72 L240.8,95.24 L241.2,94.98 L241.6,94.94 L242,95.14 L242.4,95.55 L242.8,96.12 L243.2,96.81 L243.6,97.55 L244,98.31 L244.4,99.02 L244.8,99.65 L245.2,100.15 L245.6,100.46 L246,100.48 L246.4,100.09 L246.8,99.33 L247.2,98.47 L247.6,98.02 L248,98.33 L248.4,99.39 L248.8,100.82 L249.2,102.19 L249.6,103.27 L250,104.05 L250.4,104.64 L250.8,105.11 L251.2,105.52 L251.6,105.88 L252,106.17 L252.4,106.37 L252.8,106.49 L253.2,106.49 L253.6,106.43 L254,106.32 L254.4,106.16 L254.8,105.95 L255.2,105.71 L255.6,105.43 L256,105.13 L256.4,104.8 L256.8,104.46 L257.2,104.1 L257.6,103.74 L258,103.38 L258.4,103.02 L258.8,102.67 L259.2,102.33 L259.6,101.95 L260,101.53 L260.4,101.06 L260.8,100.53 L261.2,99.84 L261.6,98.86 L262,97.43 L262.4,95.46 L262.8,93.12 L263.2,90.9 L263.6,89.46 L264,89.26 L264.4,90.19 L264.8,91.71 L265.2,93.17 L265.6,94.18 L266,94.64 L266.4,94.7 L266.8,94.53 L267.2,94.23 L267.6,93.84 L268,93.34 L268.4,92.69 L268.8,91.86 L269.2,90.88 L269.6,89.84 L270,88.93 L270.4,88.33 L270.8,88.16 L271.2,88.41 L271.6,88.94 L272,89.56 L272.4,90.1 L272.8,90.47 L273.2,90.66 L273.6,90.69 L274,90.64 L274.4,90.53 L274.8,90.4 L275.2,90.26 L275.6,90.11 L276,89.97 L276.4,89.83 L276.8,89.69 L277.2,89.54 L277.6,89.4 L278,89.26 L278.4,89.11 L278.8,88.96 L279.2,88.81 L279.6,88.66 L280,88.5 L280.4,88.34 L280.8,88.17 L281.2,88 L281.6,87.83 L282,87.65 L282.4,87.46 L282.8,87.25 L283.2,87.01 L283.6,86.76 L284,86.46 L284.4,86.14 L284.8,85.78 L285.2,85.39 L285.6,84.98 L286,84.57 L286.4,84.18 L286.8,83.83 L287.2,83.54 L287.6,83.33 L288,83.2 L288.4,83.14 L288.8,83.14 L289.2,83.19 L289.6,83.26 L290,83.34 L290.4,83.39 L290.8,83.42 L291.2,83.42 L291.6,83.38 L292,83.31 L292.4,83.22 L292.8,83.1 L293.2,82.97 L293.6,82.82 L294,82.68 L294.4,82.53 L294.8,82.37 L295.2,82.22 L295.6,82.07 L296,81.92 L296.4,81.77 L296.8,81.62 L297.2,81.47 L297.6,81.33 L298,81.18 L298.4,81.04 L298.8,80.9 L299.2,80.77 L299.6,80.63 L300,80.5 L300.4,80.37 L300.8,80.24 L301.2,80.11 L301.6,79.98 L302,79.85 L302.4,79.72 L302.8,79.6 L303.2,79.47 L303.6,79.34 L304,79.22 L304.4,79.09 L304.8,78.97 L305.2,78.85 L305.6,78.73 L306,78.6 L306.4,78.48 L306.8,78.36 L307.2,78.24 L307.6,78.13 L308,78.01 L308.4,77.89 L308.8,77.78 L309.2,77.66 L309.6,77.55 L310,77.43 L310.4,77.32 L310.8,77.21 L311.2,77.1 L311.6,76.99 L312,76.88 L312.4,76.77 L312.8,76.66 L313.2,76.56 L313.6,76.45 L314,76.35 L314.4,76.25 L314.8,76.14 L315.2,76.04 L315.6,75.94 L316,75.84 L316.4,75.75 L316.8,75.65 L317.2,75.55 L317.6,75.46 L318,75.36 L318.4,75.27 L318.8,75.18 L319.2,75.09 L319.6,75 L320,74.91 L320.4,74.82" fill="none" stroke="#000000" stroke-width="1.2" stroke-linejoin="round"/>
<path d="M36,159.7 L36.4,159.18 L36.8,158.66 L37.2,158.15 L37.6,157.64 L38,157.14 L38.4,156.65 L38.8,156.17 L39.2,155.71 L39.6,155.26 L40,154.83 L40.4,154.41 L40.8,154.02 L41.2,153.65 L41.6,153.3 L42,152.98 L42.4,152.69 L42.8,152.42 L43.2,152.18 L43.6,151.96 L44,151.74 L44.4,151.53 L44.8,151.33 L45.2,151.14 L45.6,150.95 L46,150.77 L46.4,150.6 L46.8,150.43 L47.2,150.27 L47.6,150.11 L48,149.96 L48.4,149.81 L48.8,149.67 L49.2,149.53 L49.6,149.39 L50,149.26 L50.4,149.13 L50.8,149 L51.2,148.88 L51.6,148.75 L52,148.63 L52.4,148.51 L52.8,148.38 L53.2,148.26 L53.6,148.14 L54,148.01 L54.4,147.89 L54.8,147.76 L55.2,147.64 L55.6,147.52 L56,147.41 L56.4,147.31 L56.8,147.22 L57.2,147.13 L57.6,147.05 L58,146.96 L58.4,146.88 L58.8,146.79 L59.2,146.7 L59.6,146.61 L60,146.5 L60.4,146.39 L60.8,146.27 L61.2,146.14 L61.6,145.99 L62,145.83 L62.4,145.65 L62.8,145.41 L63.2,145.05 L63.6,144.58 L64,144.06 L64.4,143.5 L64.8,142.95 L65.2,142.45 L65.6,142.02 L66,141.7 L66.4,141.46 L66.8,141.25 L67.2,141.06 L67.6,140.89 L68,140.73 L68.4,140.58 L68.8,140.43 L69.2,140.29 L69.6,140.15 L70,140 L70.4,139.85 L70.8,139.7 L71.2,139.55 L71.6,139.4 L72,139.25 L72.4,139.1 L72.8,138.96 L73.2,138.82 L73.6,138.68 L74,138.55 L74.4,138.43 L74.8,138.31 L75.2,138.2 L75.6,138.09 L76,138 L76.4,137.91 L76.8,137.82 L77.2,137.74 L77.6,137.65 L78,137.56 L78.4,137.48 L78.8,137.4 L79.2,137.32 L79.6,137.24 L80,137.16 L80.4,137.08 L80.8,137 L81.2,136.92 L81.6,136.85 L82,136.77 L82.4,136.7 L82.8,136.62 L83.2,136.55 L83.6,136.48 L84,136.41 L84.4,136.34 L84.8,136.27 L85.2,136.2 L85.6,136.13 L86,136.07 L86.4,136 L86.8,135.94 L87.2,135.87 L87.6,135.81 L88,135.75 L88.4,135.68 L88.8,135.62 L89.2,135.56 L89.6,135.5 L90,135.44 L90.4,135.38 L90.8,135.33 L91.2,135.27 L91.6,135.21 L92,135.15 L92.4,135.1 L92.8,135.04 L93.2,134.99 L93.6,134.93 L94,134.88 L94.4,134.83 L94.8,134.77 L95.2,134.72 L95.6,134.67 L96,134.62 L96.4,134.57 L96.8,134.52 L97.2,134.47 L97.6,134.42 L98,134.37 L98.4,134.32 L98.8,134.27 L99.2,134.22 L99.6,134.18 L100,134.13 L100.4,134.08 L100.8,134.03 L101.2,133.99 L101.6,133.94 L102,133.89 L102.4,133.85 L102.8,133.8 L103.2,133.76 L103.6,133.71 L104,133.67 L104.4,133.62 L104.8,133.58 L105.2,133.53 L105.6,133.49 L106,133.44 L106.4,133.4 L106.8,133.35 L107.2,133.31 L107.6,133.26 L108,133.22 L108.4,133.18 L108.8,133.13 L109.2,133.09 L109.6,133.04 L110,133 L110.4,132.96 L110.8,132.91 L111.2,132.87 L111.6,132.82 L112,132.78 L112.4,132.73 L112.8,132.68 L113.2,132.64 L113.6,132.59 L114,132.54 L114.4,132.5 L114.8,132.45 L115.2,132.4 L115.6,132.36 L116,132.31 L116.4,132.26 L116.8,132.21 L117.2,132.17 L117.6,132.12 L118,132.07 L118.4,132.02 L118.8,131.97 L119.2,131.93 L119.6,131.88 L120,131.83 L120.4,131.78 L120.8,131.74 L121.2,131.69 L121.6,131.64 L122,131.59 L122.4,131.55 L122.8,131.5 L123.2,131.45 L123.6,131.41 L124,131.36 L124.4,131.31 L124.8,131.27 L125.2,131.22 L125.6,131.18 L126,131.13 L126.4,131.09 L126.8,131.04 L127.2,131 L127.6,130.95 L128,130.91 L128.4,130.87 L128.8,130.82 L129.2,130.78 L129.6,130.74 L130,130.7 L130.4,130.66 L130.8,130.62 L131.2,130.58 L131.6,130.54 L132,130.5 L132.4,130.46 L132.8,130.42 L133.2,130.38 L133.6,130.34 L134,130.31 L134.4,130.27 L134.8,130.24 L135.2,130.2 L135.6,130.17 L136,130.13 L136.4,130.1 L136.8,130.07 L137.2,130.04 L137.6,130.01 L138,129.98 L138.4,129.95 L138.8,129.92 L139.2,129.89 L139.6,129.87 L140,129.84 L140.4,129.81 L140.8,129.79 L141.2,129.77 L141.6,129.74 L142,129.72 L142.4,129.7 L142.8,129.68 L143.2,129.66 L143.6,129.65 L144,129.63 L144.4,129.61 L144.8,129.6 L145.2,129.58 L145.6,129.57 L146,129.56 L146.4,129.55 L146.8,129.54 L147.2,129.53 L147.6,129.52 L148,129.51 L148.4,129.51 L148.8,129.51 L149.2,129.5 L149.6,129.5 L150,129.5 L150.4,129.5 L150.8,129.51 L151.2,129.52 L151.6,129.53 L152,129.55 L152.4,129.57 L152.8,129.6 L153.2,129.63 L153.6,129.66 L154,129.7 L154.4,129.74 L154.8,129.78 L155.2,129.82 L155.6,129.87 L156,129.92 L156.4,129.98 L156.8,130.03 L157.2,130.09 L157.6,130.15 L158,130.21 L158.4,130.27 L158.8,130.34 L159.2,130.41 L159.6,130.48 L160,130.55 L160.4,130.62 L160.8,130.69 L161.2,130.76 L161.6,130.84 L162,130.91 L162.4,130.99 L162.8,131.06 L163.2,131.14 L163.6,131.22 L164,131.3 L164.4,131.37 L164.8,131.45 L165.2,131.53 L165.6,131.6 L166,131.68 L166.4,131.75 L166.8,131.83 L167.2,131.9 L167.6,131.98 L168,132.05 L168.4,132.12 L168.8,132.19 L169.2,132.26 L169.6,132.32 L170,132.39 L170.4,132.45 L170.8,132.51 L171.2,132.57 L171.6,132.63 L172,132.68 L172.4,132.73 L172.8,132.78 L173.2,132.83 L173.6,132.87 L174,132.91 L174.4,132.95 L174.8,132.98 L175.2,133.02 L175.6,133.05 L176,133.08 L176.4,133.11 L176.8,133.14 L177.2,133.17 L177.6,133.2 L178,133.24 L178.4,133.27 L178.8,133.3 L179.2,133.33 L179.6,133.36 L180,133.39 L180.4,133.42 L180.8,133.45 L181.2,133.48 L181.6,133.51 L182,133.54 L182.4,133.57 L182.8,133.6 L183.2,133.62 L183.6,133.65 L184,133.68 L184.4,133.71 L184.8,133.73 L185.2,133.76 L185.6,133.78 L186,133.81 L186.4,133.83 L186.8,133.85 L187.2,133.87 L187.6,133.89 L188,133.91 L188.4,133.93 L188.8,133.95 L189.2,133.97 L189.6,133.99 L190,134 L190.4,133.99 L190.8,133.76 L191.2,132.78 L191.6,131.31 L192,131.37 L192.4,132.87 L192.8,133.84 L193.2,134.06 L193.6,134.09 L194,134.1 L194.4,134.1 L194.8,134.1 L195.2,134.1 L195.6,134.09 L196,134.08 L196.4,134.07 L196.8,134.05 L197.2,134.02 L197.6,133.99 L198,133.96 L198.4,133.92 L198.8,133.88 L199.2,133.83 L199.6,133.79 L200,133.74 L200.4,133.68 L200.8,133.63 L201.2,133.57 L201.6,133.52 L202,133.46 L202.4,133.4 L202.8,133.34 L203.2,133.27 L203.6,133.21 L204,133.15 L204.4,133.09 L204.8,133.03 L205.2,132.97 L205.6,132.91 L206,132.84 L206.4,132.78 L206.8,132.71 L207.2,132.64 L207.6,132.56 L208,132.49 L208.4,132.41 L208.8,132.32 L209.2,132.24 L209.6,132.15 L210,132.06 L210.4,131.97 L210.8,131.87 L211.2,131.78 L211.6,131.68 L212,131.57 L212.4,131.47 L212.8,131.36 L213.2,131.24 L213.6,131.13 L214,131.01 L214.4,130.89 L214.8,130.76 L215.2,130.64 L215.6,130.5 L216,130.35 L216.4,130.2 L216.8,130.04 L217.2,129.87 L217.6,129.69 L218,129.51 L218.4,129.31 L218.8,129.12 L219.2,128.91 L219.6,128.7 L220,128.49 L220.4,128.27 L220.8,128.05 L221.2,127.82 L221.6,127.59 L222,127.35 L222.4,127.11 L222.8,126.87 L223.2,126.62 L223.6,126.37 L224,126.12 L224.4,125.86 L224.8,125.56 L225.2,125.2 L225.6,124.67 L226,123.85 L226.4,122.62 L226.8,120.86 L227.2,118.6 L227.6,116.08 L228,113.76 L228.4,112.18 L228.8,111.72 L229.2,112.44 L229.6,114.01 L230,115.92 L230.4,117.69 L230.8,119 L231.2,119.8 L231.6,120.17 L232,120.24 L232.4,120.17 L232.8,120.04 L233.2,119.9 L233.6,119.74 L234,119.58 L234.4,119.4 L234.8,119.2 L235.2,118.96 L235.6,118.68 L236,118.33 L236.4,117.89 L236.8,117.35 L237.2,116.69 L237.6,115.9 L238,114.99 L238.4,113.96 L238.8,112.86 L239.2,111.74 L239.6,110.65 L240,109.66 L240.4,108.85 L240.8,108.28 L241.2,107.99 L241.6,108 L242,108.32 L242.4,108.89 L242.8,109.68 L243.2,110.62 L243.6,111.63 L244,112.64 L244.4,113.61 L244.8,114.46 L245.2,115.16 L245.6,115.62 L246,115.75 L246.4,115.45 L246.8,114.73 L247.2,113.86 L247.6,113.29 L248,113.39 L248.4,114.14 L248.8,115.2 L249.2,116.14 L249.6,116.76 L250,117.07 L250.4,117.18 L250.8,117.19 L251.2,117.17 L251.6,117.14 L252,117.1 L252.4,117.06 L252.8,117.02 L253.2,116.98 L253.6,116.92 L254,116.87 L254.4,116.8 L254.8,116.73 L255.2,116.66 L255.6,116.59 L256,116.51 L256.4,116.43 L256.8,116.36 L257.2,116.28 L257.6,116.21 L258,116.14 L258.4,116.08 L258.8,116.03 L259.2,115.98 L259.6,115.93 L260,115.88 L260.4,115.82 L260.8,115.71 L261.2,115.44 L261.6,114.86 L262,113.76 L262.4,112.04 L262.8,109.89 L263.2,107.85 L263.6,106.65 L264,106.79 L264.4,108.17 L264.8,110.19 L265.2,112.12 L265.6,113.52 L266,114.29 L266.4,114.59 L266.8,114.6 L267.2,114.47 L267.6,114.22 L268,113.85 L268.4,113.32 L268.8,112.6 L269.2,111.71 L269.6,110.76 L270,109.93 L270.4,109.4 L270.8,109.3 L271.2,109.6 L271.6,110.17 L272,110.84 L272.4,111.41 L272.8,111.81 L273.2,112.02 L273.6,112.07 L274,112.03 L274.4,111.93 L274.8,111.8 L275.2,111.66 L275.6,111.52 L276,111.38 L276.4,111.24 L276.8,111.1 L277.2,110.96 L277.6,110.82 L278,110.68 L278.4,110.54 L278.8,110.4 L279.2,110.27 L279.6,110.13 L280,110 L280.4,109.86 L280.8,109.73 L281.2,109.59 L281.6,109.45 L282,109.29 L282.4,109.13 L282.8,108.95 L283.2,108.76 L283.6,108.53 L284,108.27 L284.4,107.98 L284.8,107.65 L285.2,107.3 L285.6,106.92 L286,106.55 L286.4,106.19 L286.8,105.88 L287.2,105.63 L287.6,105.46 L288,105.36 L288.4,105.34 L288.8,105.38 L289.2,105.47 L289.6,105.58 L290,105.69 L290.4,105.78 L290.8,105.85 L291.2,105.89 L291.6,105.89 L292,105.86 L292.4,105.8 L292.8,105.72 L293.2,105.63 L293.6,105.52 L294,105.41 L294.4,105.3 L294.8,105.19 L295.2,105.07 L295.6,104.96 L296,104.85 L296.4,104.73 L296.8,104.62 L297.2,104.52 L297.6,104.41 L298,104.3 L298.4,104.2 L298.8,104.1 L299.2,104 L299.6,103.9 L300,103.8 L300.4,103.7 L300.8,103.61 L301.2,103.51 L301.6,103.42 L302,103.33 L302.4,103.23 L302.8,103.14 L303.2,103.05 L303.6,102.96 L304,102.87 L304.4,102.78 L304.8,102.69 L305.2,102.6 L305.6,102.51 L306,102.42 L306.4,102.34 L306.8,102.25 L307.2,102.16 L307.6,102.08 L308,102 L308.4,101.91 L308.8,101.83 L309.2,101.75 L309.6,101.67 L310,101.59 L310.4,101.51 L310.8,101.43 L311.2,101.35 L311.6,101.27 L312,101.2 L312.4,101.12 L312.8,101.05 L313.2,100.97 L313.6,100.9 L314,100.83 L314.4,100.76 L314.8,100.69 L315.2,100.62 L315.6,100.55 L316,100.48 L316.4,100.42 L316.8,100.35 L317.2,100.29 L317.6,100.23 L318,100.16 L318.4,100.1 L318.8,100.04 L319.2,99.98 L319.6,99.93 L320,99.87 L320.4,99.81" fill="none" stroke="#e0e05a" stroke-width="1.1" stroke-linejoin="round" stroke-dasharray="3,1.8"/>
<path d="M36,202.7 L36.4,201.42 L36.8,200.17 L37.2,198.94 L37.6,197.73 L38,196.55 L38.4,195.4 L38.8,194.28 L39.2,193.19 L39.6,192.13 L40,191.11 L40.4,190.13 L40.8,189.18 L41.2,188.28 L41.6,187.42 L42,186.61 L42.4,185.84 L42.8,185.12 L43.2,184.45 L43.6,183.83 L44,183.26 L44.4,182.76 L44.8,182.3 L45.2,181.91 L45.6,181.55 L46,181.21 L46.4,180.9 L46.8,180.61 L47.2,180.34 L47.6,180.09 L48,179.85 L48.4,179.63 L48.8,179.41 L49.2,179.19 L49.6,178.98 L50,178.77 L50.4,178.55 L50.8,178.33 L51.2,178.1 L51.6,177.86 L52,177.6 L52.4,177.34 L52.8,177.08 L53.2,176.82 L53.6,176.57 L54,176.31 L54.4,176.06 L54.8,175.81 L55.2,175.56 L55.6,175.3 L56,175.05 L56.4,174.8 L56.8,174.54 L57.2,174.29 L57.6,174.03 L58,173.77 L58.4,173.5 L58.8,173.24 L59.2,172.96 L59.6,172.69 L60,172.41 L60.4,172.12 L60.8,171.83 L61.2,171.53 L61.6,171.22 L62,170.91 L62.4,170.59 L62.8,170.27 L63.2,169.93 L63.6,169.57 L64,169.18 L64.4,168.78 L64.8,168.37 L65.2,167.94 L65.6,167.51 L66,167.08 L66.4,166.64 L66.8,166.21 L67.2,165.79 L67.6,165.39 L68,165 L68.4,164.62 L68.8,164.24 L69.2,163.86 L69.6,163.48 L70,163.1 L70.4,162.73 L70.8,162.35 L71.2,161.98 L71.6,161.61 L72,161.25 L72.4,160.89 L72.8,160.54 L73.2,160.19 L73.6,159.86 L74,159.52 L74.4,159.2 L74.8,158.89 L75.2,158.58 L75.6,158.28 L76,158 L76.4,157.72 L76.8,157.45 L77.2,157.17 L77.6,156.9 L78,156.64 L78.4,156.37 L78.8,156.11 L79.2,155.85 L79.6,155.6 L80,155.34 L80.4,155.09 L80.8,154.84 L81.2,154.6 L81.6,154.35 L82,154.11 L82.4,153.87 L82.8,153.63 L83.2,153.4 L83.6,153.17 L84,152.94 L84.4,152.71 L84.8,152.49 L85.2,152.26 L85.6,152.04 L86,151.82 L86.4,151.61 L86.8,151.39 L87.2,151.18 L87.6,150.97 L88,150.76 L88.4,150.56 L88.8,150.35 L89.2,150.15 L89.6,149.95 L90,149.75 L90.4,149.56 L90.8,149.36 L91.2,149.17 L91.6,148.98 L92,148.79 L92.4,148.61 L92.8,148.42 L93.2,148.24 L93.6,148.06 L94,147.88 L94.4,147.7 L94.8,147.52 L95.2,147.35 L95.6,147.17 L96,147 L96.4,146.83 L96.8,146.66 L97.2,146.49 L97.6,146.32 L98,146.15 L98.4,145.99 L98.8,145.82 L99.2,145.66 L99.6,145.49 L100,145.33 L100.4,145.17 L100.8,145.01 L101.2,144.85 L101.6,144.69 L102,144.53 L102.4,144.38 L102.8,144.22 L103.2,144.07 L103.6,143.92 L104,143.77 L104.4,143.62 L104.8,143.47 L105.2,143.32 L105.6,143.18 L106,143.03 L106.4,142.89 L106.8,142.75 L107.2,142.61 L107.6,142.47 L108,142.34 L108.4,142.2 L108.8,142.07 L109.2,141.94 L109.6,141.81 L110,141.68 L110.4,141.56 L110.8,141.43 L111.2,141.31 L111.6,141.19 L112,141.07 L112.4,140.96 L112.8,140.84 L113.2,140.73 L113.6,140.62 L114,140.51 L114.4,140.4 L114.8,140.3 L115.2,140.2 L115.6,140.1 L116,140 L116.4,139.9 L116.8,139.81 L117.2,139.71 L117.6,139.61 L118,139.51 L118.4,139.41 L118.8,139.32 L119.2,139.22 L119.6,139.12 L120,139.02 L120.4,138.92 L120.8,138.82 L121.2,138.72 L121.6,138.62 L122,138.52 L122.4,138.42 L122.8,138.32 L123.2,138.23 L123.6,138.13 L124,138.03 L124.4,137.93 L124.8,137.83 L125.2,137.74 L125.6,137.64 L126,137.54 L126.4,137.45 L126.8,137.35 L127.2,137.26 L127.6,137.17 L128,137.07 L128.4,136.98 L128.8,136.89 L129.2,136.8 L129.6,136.71 L130,136.62 L130.4,136.53 L130.8,136.44 L131.2,136.35 L131.6,136.27 L132,136.18 L132.4,136.1 L132.8,136.01 L133.2,135.93 L133.6,135.85 L134,135.77 L134.4,135.69 L134.8,135.62 L135.2,135.54 L135.6,135.47 L136,135.4 L136.4,135.32 L136.8,135.25 L137.2,135.19 L137.6,135.12 L138,135.05 L138.4,134.99 L138.8,134.93 L139.2,134.87 L139.6,134.81 L140,134.75 L140.4,134.7 L140.8,134.64 L141.2,134.59 L141.6,134.54 L142,134.49 L142.4,134.45 L142.8,134.4 L143.2,134.36 L143.6,134.32 L144,134.28 L144.4,134.25 L144.8,134.22 L145.2,134.18 L145.6,134.16 L146,134.13 L146.4,134.11 L146.8,134.08 L147.2,134.06 L147.6,134.05 L148,134.03 L148.4,134.02 L148.8,134.01 L149.2,134.01 L149.6,134 L150,134 L150.4,134 L150.8,134 L151.2,134 L151.6,134 L152,134.01 L152.4,134.01 L152.8,134.01 L153.2,134.02 L153.6,134.02 L154,134.03 L154.4,134.03 L154.8,134.04 L155.2,134.04 L155.6,134.05 L156,134.05 L156.4,134.06 L156.8,134.07 L157.2,134.08 L157.6,134.08 L158,134.09 L158.4,134.1 L158.8,134.11 L159.2,134.12 L159.6,134.13 L160,134.14 L160.4,134.14 L160.8,134.15 L161.2,134.16 L161.6,134.17 L162,134.18 L162.4,134.19 L162.8,134.2 L163.2,134.21 L163.6,134.23 L164,134.24 L164.4,134.25 L164.8,134.26 L165.2,134.27 L165.6,134.28 L166,134.29 L166.4,134.3 L166.8,134.31 L167.2,134.32 L167.6,134.33 L168,134.34 L168.4,134.35 L168.8,134.36 L169.2,134.37 L169.6,134.38 L170,134.39 L170.4,134.4 L170.8,134.41 L171.2,134.42 L171.6,134.43 L172,134.44 L172.4,134.45 L172.8,134.46 L173.2,134.47 L173.6,134.47 L174,134.48 L174.4,134.49 L174.8,134.5 L175.2,134.5 L175.6,134.51 L176,134.52 L176.4,134.52 L176.8,134.53 L177.2,134.54 L177.6,134.55 L178,134.56 L178.4,134.56 L178.8,134.57 L179.2,134.58 L179.6,134.59 L180,134.59 L180.4,134.6 L180.8,134.61 L181.2,134.62 L181.6,134.63 L182,134.63 L182.4,134.64 L182.8,134.65 L183.2,134.66 L183.6,134.67 L184,134.67 L184.4,134.68 L184.8,134.69 L185.2,134.7 L185.6,134.7 L186,134.71 L186.4,134.72 L186.8,134.72 L187.2,134.73 L187.6,134.74 L188,134.74 L188.4,134.75 L188.8,134.75 L189.2,134.76 L189.6,134.76 L190,134.77 L190.4,134.75 L190.8,134.51 L191.2,133.52 L191.6,132.05 L192,132.09 L192.4,133.59 L192.8,134.55 L193.2,134.77 L193.6,134.8 L194,134.8 L194.4,134.8 L194.8,134.8 L195.2,134.8 L195.6,134.79 L196,134.78 L196.4,134.76 L196.8,134.74 L197.2,134.71 L197.6,134.68 L198,134.64 L198.4,134.6 L198.8,134.56 L199.2,134.51 L199.6,134.45 L200,134.4 L200.4,134.34 L200.8,134.28 L201.2,134.22 L201.6,134.16 L202,134.09 L202.4,134.03 L202.8,133.96 L203.2,133.9 L203.6,133.83 L204,133.76 L204.4,133.7 L204.8,133.63 L205.2,133.57 L205.6,133.5 L206,133.43 L206.4,133.36 L206.8,133.29 L207.2,133.21 L207.6,133.13 L208,133.05 L208.4,132.97 L208.8,132.88 L209.2,132.8 L209.6,132.7 L210,132.61 L210.4,132.51 L210.8,132.41 L211.2,132.31 L211.6,132.21 L212,132.1 L212.4,131.99 L212.8,131.88 L213.2,131.76 L213.6,131.64 L214,131.52 L214.4,131.39 L214.8,131.27 L215.2,131.13 L215.6,130.99 L216,130.85 L216.4,130.69 L216.8,130.53 L217.2,130.35 L217.6,130.18 L218,129.99 L218.4,129.8 L218.8,129.6 L219.2,129.4 L219.6,129.19 L220,128.98 L220.4,128.76 L220.8,128.54 L221.2,128.31 L221.6,128.08 L222,127.84 L222.4,127.61 L222.8,127.36 L223.2,127.12 L223.6,126.87 L224,126.62 L224.4,126.36 L224.8,126.06 L225.2,125.7 L225.6,125.17 L226,124.35 L226.4,123.12 L226.8,121.36 L227.2,119.1 L227.6,116.58 L228,114.26 L228.4,112.68 L228.8,112.22 L229.2,112.94 L229.6,114.5 L230,116.41 L230.4,118.16 L230.8,119.47 L231.2,120.26 L231.6,120.62 L232,120.71 L232.4,120.64 L232.8,120.53 L233.2,120.41 L233.6,120.29 L234,120.15 L234.4,120 L234.8,119.83 L235.2,119.63 L235.6,119.38 L236,119.06 L236.4,118.65 L236.8,118.14 L237.2,117.51 L237.6,116.75 L238,115.87 L238.4,114.87 L238.8,113.79 L239.2,112.69 L239.6,111.61 L240,110.64 L240.4,109.84 L240.8,109.28 L241.2,108.99 L241.6,109 L242,109.31 L242.4,109.88 L242.8,110.66 L243.2,111.58 L243.6,112.58 L244,113.59 L244.4,114.54 L244.8,115.39 L245.2,116.09 L245.6,116.56 L246,116.7 L246.4,116.41 L246.8,115.71 L247.2,114.88 L247.6,114.34 L248,114.47 L248.4,115.25 L248.8,116.34 L249.2,117.31 L249.6,117.96 L250,118.3 L250.4,118.44 L250.8,118.48 L251.2,118.5 L251.6,118.5 L252,118.5 L252.4,118.5 L252.8,118.5 L253.2,118.5 L253.6,118.47 L254,118.43 L254.4,118.36 L254.8,118.28 L255.2,118.18 L255.6,118.07 L256,117.96 L256.4,117.83 L256.8,117.7 L257.2,117.57 L257.6,117.43 L258,117.3 L258.4,117.17 L258.8,117.06 L259.2,116.94 L259.6,116.83 L260,116.71 L260.4,116.57 L260.8,116.37 L261.2,116.02 L261.6,115.35 L262,114.17 L262.4,112.36 L262.8,110.12 L263.2,108 L263.6,106.72 L264,106.79 L264.4,108.11 L264.8,110.07 L265.2,111.97 L265.6,113.34 L266,114.09 L266.4,114.38 L266.8,114.39 L267.2,114.25 L267.6,114.01 L268,113.65 L268.4,113.12 L268.8,112.4 L269.2,111.52 L269.6,110.57 L270,109.73 L270.4,109.19 L270.8,109.08 L271.2,109.37 L271.6,109.93 L272,110.58 L272.4,111.15 L272.8,111.54 L273.2,111.74 L273.6,111.78 L274,111.73 L274.4,111.62 L274.8,111.49 L275.2,111.34 L275.6,111.19 L276,111.04 L276.4,110.89 L276.8,110.75 L277.2,110.6 L277.6,110.45 L278,110.31 L278.4,110.16 L278.8,110.02 L279.2,109.88 L279.6,109.74 L280,109.6 L280.4,109.46 L280.8,109.32 L281.2,109.18 L281.6,109.03 L282,108.87 L282.4,108.71 L282.8,108.52 L283.2,108.32 L283.6,108.09 L284,107.83 L284.4,107.53 L284.8,107.2 L285.2,106.84 L285.6,106.47 L286,106.09 L286.4,105.74 L286.8,105.42 L287.2,105.17 L287.6,104.99 L288,104.89 L288.4,104.87 L288.8,104.91 L289.2,104.99 L289.6,105.1 L290,105.21 L290.4,105.3 L290.8,105.37 L291.2,105.4 L291.6,105.4 L292,105.37 L292.4,105.31 L292.8,105.23 L293.2,105.14 L293.6,105.04 L294,104.93 L294.4,104.81 L294.8,104.7 L295.2,104.58 L295.6,104.47 L296,104.35 L296.4,104.24 L296.8,104.13 L297.2,104.02 L297.6,103.91 L298,103.81 L298.4,103.7 L298.8,103.6 L299.2,103.5 L299.6,103.4 L300,103.3 L300.4,103.2 L300.8,103.11 L301.2,103.01 L301.6,102.92 L302,102.82 L302.4,102.73 L302.8,102.64 L303.2,102.55 L303.6,102.45 L304,102.36 L304.4,102.27 L304.8,102.18 L305.2,102.09 L305.6,102 L306,101.92 L306.4,101.83 L306.8,101.74 L307.2,101.66 L307.6,101.57 L308,101.49 L308.4,101.4 L308.8,101.32 L309.2,101.24 L309.6,101.16 L310,101.08 L310.4,101 L310.8,100.92 L311.2,100.84 L311.6,100.76 L312,100.69 L312.4,100.61 L312.8,100.54 L313.2,100.46 L313.6,100.39 L314,100.32 L314.4,100.25 L314.8,100.18 L315.2,100.11 L315.6,100.04 L316,99.98 L316.4,99.91 L316.8,99.85 L317.2,99.78 L317.6,99.72 L318,99.66 L318.4,99.6 L318.8,99.54 L319.2,99.48 L319.6,99.42 L320,99.37 L320.4,99.31" fill="none" stroke="#cfcf10" stroke-width="1.2" stroke-linejoin="round" stroke-dasharray="3,1.8"/>
<path d="M78,222 L78.4,221.19 L78.8,220.4 L79.2,219.62 L79.6,218.88 L80,218.17 L80.4,217.5 L80.8,216.86 L81.2,216.24 L81.6,215.64 L82,215.05 L82.4,214.47 L82.8,213.91 L83.2,213.35 L83.6,212.8 L84,212.26 L84.4,211.71 L84.8,211.17 L85.2,210.62 L85.6,210.06 L86,209.5 L86.4,208.93 L86.8,208.37 L87.2,207.81 L87.6,207.26 L88,206.7 L88.4,206.15 L88.8,205.59 L89.2,205.04 L89.6,204.48 L90,203.92 L90.4,203.36 L90.8,202.79 L91.2,202.22 L91.6,201.65 L92,201.06 L92.4,200.46 L92.8,199.86 L93.2,199.25 L93.6,198.63 L94,198.02 L94.4,197.41 L94.8,196.81 L95.2,196.22 L95.6,195.64 L96,195.08 L96.4,194.53 L96.8,193.98 L97.2,193.45 L97.6,192.92 L98,192.39 L98.4,191.87 L98.8,191.35 L99.2,190.83 L99.6,190.31 L100,189.79 L100.4,189.26 L100.8,188.74 L101.2,188.21 L101.6,187.69 L102,187.17 L102.4,186.65 L102.8,186.13 L103.2,185.59 L103.6,185.05 L104,184.5 L104.4,183.93 L104.8,183.35 L105.2,182.75 L105.6,182.14 L106,181.52 L106.4,180.89 L106.8,180.26 L107.2,179.62 L107.6,178.97 L108,178.33 L108.4,177.69 L108.8,177.04 L109.2,176.4 L109.6,175.77 L110,175.15 L110.4,174.53 L110.8,173.93 L111.2,173.33 L111.6,172.76 L112,172.19 L112.4,171.65 L112.8,171.13 L113.2,170.62 L113.6,170.12 L114,169.62 L114.4,169.13 L114.8,168.65 L115.2,168.17 L115.6,167.69 L116,167.22 L116.4,166.76 L116.8,166.3 L117.2,165.84 L117.6,165.4 L118,164.95 L118.4,164.51 L118.8,164.08 L119.2,163.65 L119.6,163.23 L120,162.81 L120.4,162.39 L120.8,161.98 L121.2,161.58 L121.6,161.18 L122,160.79 L122.4,160.4 L122.8,160.02 L123.2,159.64 L123.6,159.27 L124,158.9 L124.4,158.54 L124.8,158.18 L125.2,157.82 L125.6,157.47 L126,157.12 L126.4,156.77 L126.8,156.42 L127.2,156.07 L127.6,155.72 L128,155.38 L128.4,155.04 L128.8,154.7 L129.2,154.37 L129.6,154.03 L130,153.71 L130.4,153.39 L130.8,153.07 L131.2,152.75 L131.6,152.45 L132,152.15 L132.4,151.85 L132.8,151.56 L133.2,151.28 L133.6,151 L134,150.74 L134.4,150.48 L134.8,150.22 L135.2,149.98 L135.6,149.75 L136,149.52 L136.4,149.31 L136.8,149.1 L137.2,148.9 L137.6,148.71 L138,148.52 L138.4,148.34 L138.8,148.16 L139.2,147.98 L139.6,147.81 L140,147.64 L140.4,147.48 L140.8,147.31 L141.2,147.15 L141.6,147 L142,146.84 L142.4,146.69 L142.8,146.54 L143.2,146.4 L143.6,146.26 L144,146.12 L144.4,145.98 L144.8,145.84 L145.2,145.71 L145.6,145.57 L146,145.44 L146.4,145.31 L146.8,145.19 L147.2,145.06 L147.6,144.93 L148,144.81 L148.4,144.69 L148.8,144.56 L149.2,144.44 L149.6,144.32 L150,144.2 L150.4,144.08 L150.8,143.96 L151.2,143.84 L151.6,143.72 L152,143.6 L152.4,143.48 L152.8,143.36 L153.2,143.24 L153.6,143.12 L154,143 L154.4,142.88 L154.8,142.75 L155.2,142.63 L155.6,142.5 L156,142.37 L156.4,142.25 L156.8,142.12 L157.2,141.99 L157.6,141.87 L158,141.74 L158.4,141.62 L158.8,141.5 L159.2,141.38 L159.6,141.26 L160,141.14 L160.4,141.03 L160.8,140.92 L161.2,140.81 L161.6,140.7 L162,140.6 L162.4,140.51 L162.8,140.42 L163.2,140.33 L163.6,140.25 L164,140.17 L164.4,140.1 L164.8,140.03 L165.2,139.97 L165.6,139.91 L166,139.85 L166.4,139.8 L166.8,139.75 L167.2,139.69 L167.6,139.64 L168,139.59 L168.4,139.54 L168.8,139.5 L169.2,139.45 L169.6,139.41 L170,139.36 L170.4,139.32 L170.8,139.28 L171.2,139.24 L171.6,139.2 L172,139.16 L172.4,139.12 L172.8,139.08 L173.2,139.05 L173.6,139.01 L174,138.97 L174.4,138.94 L174.8,138.91 L175.2,138.87 L175.6,138.84 L176,138.81 L176.4,138.78 L176.8,138.74 L177.2,138.71 L177.6,138.68 L178,138.65 L178.4,138.62 L178.8,138.59 L179.2,138.56 L179.6,138.53 L180,138.5 L180.4,138.47 L180.8,138.44 L181.2,138.42 L181.6,138.39 L182,138.36 L182.4,138.34 L182.8,138.32 L183.2,138.29 L183.6,138.27 L184,138.25 L184.4,138.23 L184.8,138.21 L185.2,138.19 L185.6,138.17 L186,138.15 L186.4,138.13 L186.8,138.11 L187.2,138.09 L187.6,138.07 L188,138.05 L188.4,138.03 L188.8,138.01 L189.2,137.99 L189.6,137.97 L190,137.95 L190.4,137.9 L190.8,137.64 L191.2,136.62 L191.6,135.12 L192,135.13 L192.4,136.6 L192.8,137.53 L193.2,137.72 L193.6,137.72 L194,137.69 L194.4,137.65 L194.8,137.62 L195.2,137.58 L195.6,137.54 L196,137.5 L196.4,137.45 L196.8,137.41 L197.2,137.35 L197.6,137.3 L198,137.24 L198.4,137.18 L198.8,137.12 L199.2,137.06 L199.6,136.99 L200,136.93 L200.4,136.86 L200.8,136.79 L201.2,136.72 L201.6,136.64 L202,136.57 L202.4,136.5 L202.8,136.42 L203.2,136.35 L203.6,136.27 L204,136.19 L204.4,136.12 L204.8,136.04 L205.2,135.96 L205.6,135.88 L206,135.81 L206.4,135.73 L206.8,135.65 L207.2,135.57 L207.6,135.49 L208,135.41 L208.4,135.33 L208.8,135.24 L209.2,135.16 L209.6,135.07 L210,134.98 L210.4,134.89 L210.8,134.79 L211.2,134.7 L211.6,134.59 L212,134.49 L212.4,134.38 L212.8,134.27 L213.2,134.16 L213.6,134.04 L214,133.92 L214.4,133.8 L214.8,133.67 L215.2,133.53 L215.6,133.39 L216,133.23 L216.4,133.07 L216.8,132.9 L217.2,132.72 L217.6,132.54 L218,132.34 L218.4,132.14 L218.8,131.93 L219.2,131.71 L219.6,131.49 L220,131.26 L220.4,131.03 L220.8,130.79 L221.2,130.54 L221.6,130.29 L222,130.03 L222.4,129.77 L222.8,129.51 L223.2,129.24 L223.6,128.97 L224,128.69 L224.4,128.4 L224.8,128.08 L225.2,127.68 L225.6,127.11 L226,126.24 L226.4,124.95 L226.8,123.13 L227.2,120.8 L227.6,118.22 L228,115.85 L228.4,114.22 L228.8,113.73 L229.2,114.43 L229.6,115.98 L230,117.88 L230.4,119.64 L230.8,120.95 L231.2,121.74 L231.6,122.11 L232,122.2 L232.4,122.14 L232.8,122.03 L233.2,121.91 L233.6,121.78 L234,121.64 L234.4,121.48 L234.8,121.3 L235.2,121.08 L235.6,120.81 L236,120.48 L236.4,120.06 L236.8,119.54 L237.2,118.9 L237.6,118.13 L238,117.23 L238.4,116.23 L238.8,115.16 L239.2,114.06 L239.6,113 L240,112.05 L240.4,111.28 L240.8,110.76 L241.2,110.51 L241.6,110.57 L242,110.93 L242.4,111.54 L242.8,112.37 L243.2,113.34 L243.6,114.38 L244,115.42 L244.4,116.41 L244.8,117.3 L245.2,118.02 L245.6,118.52 L246,118.68 L246.4,118.4 L246.8,117.71 L247.2,116.88 L247.6,116.38 L248,116.58 L248.4,117.46 L248.8,118.66 L249.2,119.77 L249.6,120.56 L250,121.05 L250.4,121.34 L250.8,121.53 L251.2,121.67 L251.6,121.79 L252,121.89 L252.4,121.96 L252.8,122 L253.2,121.99 L253.6,121.95 L254,121.86 L254.4,121.73 L254.8,121.57 L255.2,121.39 L255.6,121.17 L256,120.94 L256.4,120.69 L256.8,120.43 L257.2,120.17 L257.6,119.9 L258,119.63 L258.4,119.37 L258.8,119.12 L259.2,118.88 L259.6,118.62 L260,118.34 L260.4,118.02 L260.8,117.63 L261.2,117.09 L261.6,116.23 L262,114.86 L262.4,112.89 L262.8,110.48 L263.2,108.21 L263.6,106.82 L264,106.79 L264.4,108.04 L264.8,109.95 L265.2,111.8 L265.6,113.13 L266,113.86 L266.4,114.13 L266.8,114.13 L267.2,113.99 L267.6,113.75 L268,113.38 L268.4,112.86 L268.8,112.14 L269.2,111.24 L269.6,110.28 L270,109.43 L270.4,108.87 L270.8,108.73 L271.2,109.01 L271.6,109.55 L272,110.18 L272.4,110.73 L272.8,111.09 L273.2,111.27 L273.6,111.3 L274,111.22 L274.4,111.09 L274.8,110.94 L275.2,110.77 L275.6,110.6 L276,110.43 L276.4,110.26 L276.8,110.09 L277.2,109.93 L277.6,109.76 L278,109.6 L278.4,109.43 L278.8,109.27 L279.2,109.11 L279.6,108.95 L280,108.8 L280.4,108.64 L280.8,108.49 L281.2,108.32 L281.6,108.16 L282,107.99 L282.4,107.81 L282.8,107.61 L283.2,107.39 L283.6,107.14 L284,106.87 L284.4,106.55 L284.8,106.21 L285.2,105.83 L285.6,105.44 L286,105.05 L286.4,104.68 L286.8,104.35 L287.2,104.08 L287.6,103.89 L288,103.77 L288.4,103.73 L288.8,103.76 L289.2,103.83 L289.6,103.92 L290,104.02 L290.4,104.1 L290.8,104.15 L291.2,104.17 L291.6,104.15 L292,104.11 L292.4,104.04 L292.8,103.94 L293.2,103.84 L293.6,103.72 L294,103.6 L294.4,103.47 L294.8,103.34 L295.2,103.22 L295.6,103.09 L296,102.96 L296.4,102.84 L296.8,102.72 L297.2,102.59 L297.6,102.48 L298,102.36 L298.4,102.24 L298.8,102.13 L299.2,102.02 L299.6,101.91 L300,101.8 L300.4,101.69 L300.8,101.59 L301.2,101.48 L301.6,101.38 L302,101.27 L302.4,101.17 L302.8,101.07 L303.2,100.97 L303.6,100.87 L304,100.76 L304.4,100.66 L304.8,100.57 L305.2,100.47 L305.6,100.37 L306,100.27 L306.4,100.18 L306.8,100.08 L307.2,99.99 L307.6,99.89 L308,99.8 L308.4,99.71 L308.8,99.62 L309.2,99.52 L309.6,99.44 L310,99.35 L310.4,99.26 L310.8,99.17 L311.2,99.09 L311.6,99 L312,98.92 L312.4,98.84 L312.8,98.75 L313.2,98.67 L313.6,98.59 L314,98.51 L314.4,98.44 L314.8,98.36 L315.2,98.29 L315.6,98.21 L316,98.14 L316.4,98.07 L316.8,98 L317.2,97.93 L317.6,97.86 L318,97.79 L318.4,97.72 L318.8,97.66 L319.2,97.6 L319.6,97.53 L320,97.47 L320.4,97.41" fill="none" stroke="#93bd45" stroke-width="1.4" stroke-linejoin="round" stroke-dasharray="3,1.8"/>
<path d="M118,236 L118.4,235.04 L118.8,234.08 L119.2,233.14 L119.6,232.2 L120,231.26 L120.4,230.34 L120.8,229.42 L121.2,228.51 L121.6,227.6 L122,226.71 L122.4,225.82 L122.8,224.94 L123.2,224.07 L123.6,223.2 L124,222.35 L124.4,221.5 L124.8,220.66 L125.2,219.82 L125.6,219 L126,218.19 L126.4,217.39 L126.8,216.61 L127.2,215.83 L127.6,215.07 L128,214.32 L128.4,213.57 L128.8,212.83 L129.2,212.09 L129.6,211.35 L130,210.62 L130.4,209.88 L130.8,209.15 L131.2,208.41 L131.6,207.66 L132,206.91 L132.4,206.15 L132.8,205.39 L133.2,204.61 L133.6,203.82 L134,203.03 L134.4,202.22 L134.8,201.42 L135.2,200.6 L135.6,199.79 L136,198.97 L136.4,198.16 L136.8,197.34 L137.2,196.53 L137.6,195.71 L138,194.91 L138.4,194.11 L138.8,193.32 L139.2,192.53 L139.6,191.76 L140,191 L140.4,190.24 L140.8,189.49 L141.2,188.74 L141.6,187.99 L142,187.24 L142.4,186.5 L142.8,185.78 L143.2,185.06 L143.6,184.35 L144,183.66 L144.4,182.98 L144.8,182.32 L145.2,181.68 L145.6,181.04 L146,180.41 L146.4,179.78 L146.8,179.15 L147.2,178.53 L147.6,177.92 L148,177.32 L148.4,176.73 L148.8,176.15 L149.2,175.58 L149.6,175.02 L150,174.48 L150.4,173.95 L150.8,173.44 L151.2,172.94 L151.6,172.46 L152,172 L152.4,171.56 L152.8,171.13 L153.2,170.71 L153.6,170.3 L154,169.9 L154.4,169.52 L154.8,169.14 L155.2,168.77 L155.6,168.41 L156,168.05 L156.4,167.7 L156.8,167.35 L157.2,167.01 L157.6,166.67 L158,166.33 L158.4,165.99 L158.8,165.65 L159.2,165.32 L159.6,164.97 L160,164.63 L160.4,164.29 L160.8,163.94 L161.2,163.59 L161.6,163.25 L162,162.9 L162.4,162.56 L162.8,162.22 L163.2,161.88 L163.6,161.54 L164,161.21 L164.4,160.88 L164.8,160.56 L165.2,160.24 L165.6,159.92 L166,159.62 L166.4,159.31 L166.8,159.02 L167.2,158.74 L167.6,158.46 L168,158.19 L168.4,157.93 L168.8,157.68 L169.2,157.44 L169.6,157.22 L170,157 L170.4,156.79 L170.8,156.6 L171.2,156.41 L171.6,156.23 L172,156.05 L172.4,155.89 L172.8,155.72 L173.2,155.56 L173.6,155.41 L174,155.26 L174.4,155.11 L174.8,154.97 L175.2,154.82 L175.6,154.68 L176,154.54 L176.4,154.4 L176.8,154.25 L177.2,154.11 L177.6,153.96 L178,153.81 L178.4,153.66 L178.8,153.5 L179.2,153.34 L179.6,153.17 L180,153 L180.4,152.82 L180.8,152.63 L181.2,152.43 L181.6,152.23 L182,152.02 L182.4,151.8 L182.8,151.58 L183.2,151.36 L183.6,151.14 L184,150.92 L184.4,150.71 L184.8,150.49 L185.2,150.28 L185.6,150.07 L186,149.87 L186.4,149.68 L186.8,149.49 L187.2,149.32 L187.6,149.16 L188,149 L188.4,148.86 L188.8,148.74 L189.2,148.62 L189.6,148.52 L190,148.41 L190.4,148.24 L190.8,147.44 L191.2,144.35 L191.6,139.84 L192,139.89 L192.4,144.28 L192.8,147.08 L193.2,147.66 L193.6,147.64 L194,147.55 L194.4,147.45 L194.8,147.35 L195.2,147.25 L195.6,147.13 L196,147.02 L196.4,146.91 L196.8,146.79 L197.2,146.67 L197.6,146.54 L198,146.42 L198.4,146.29 L198.8,146.16 L199.2,146.03 L199.6,145.9 L200,145.77 L200.4,145.63 L200.8,145.5 L201.2,145.36 L201.6,145.22 L202,145.08 L202.4,144.94 L202.8,144.8 L203.2,144.65 L203.6,144.51 L204,144.36 L204.4,144.22 L204.8,144.07 L205.2,143.93 L205.6,143.78 L206,143.64 L206.4,143.5 L206.8,143.35 L207.2,143.21 L207.6,143.07 L208,142.92 L208.4,142.78 L208.8,142.63 L209.2,142.48 L209.6,142.33 L210,142.18 L210.4,142.03 L210.8,141.87 L211.2,141.7 L211.6,141.54 L212,141.37 L212.4,141.19 L212.8,141.01 L213.2,140.82 L213.6,140.63 L214,140.43 L214.4,140.22 L214.8,140.01 L215.2,139.79 L215.6,139.55 L216,139.3 L216.4,139.03 L216.8,138.74 L217.2,138.45 L217.6,138.14 L218,137.82 L218.4,137.49 L218.8,137.15 L219.2,136.8 L219.6,136.45 L220,136.09 L220.4,135.72 L220.8,135.35 L221.2,134.98 L221.6,134.61 L222,134.23 L222.4,133.86 L222.8,133.48 L223.2,133.11 L223.6,132.74 L224,132.38 L224.4,132 L224.8,131.61 L225.2,131.15 L225.6,130.54 L226,129.66 L226.4,128.36 L226.8,126.54 L227.2,124.23 L227.6,121.67 L228,119.32 L228.4,117.71 L228.8,117.23 L229.2,117.93 L229.6,119.49 L230,121.39 L230.4,123.16 L230.8,124.48 L231.2,125.28 L231.6,125.65 L232,125.74 L232.4,125.67 L232.8,125.54 L233.2,125.4 L233.6,125.24 L234,125.06 L234.4,124.87 L234.8,124.66 L235.2,124.41 L235.6,124.11 L236,123.74 L236.4,123.29 L236.8,122.73 L237.2,122.06 L237.6,121.26 L238,120.34 L238.4,119.32 L238.8,118.22 L239.2,117.11 L239.6,116.03 L240,115.07 L240.4,114.29 L240.8,113.76 L241.2,113.52 L241.6,113.59 L242,113.98 L242.4,114.65 L242.8,115.54 L243.2,116.59 L243.6,117.73 L244,118.88 L244.4,119.98 L244.8,120.99 L245.2,121.85 L245.6,122.49 L246,122.79 L246.4,122.67 L246.8,122.13 L247.2,121.47 L247.6,121.19 L248,121.65 L248.4,122.83 L248.8,124.37 L249.2,125.84 L249.6,126.99 L250,127.84 L250.4,128.48 L250.8,129.01 L251.2,129.46 L251.6,129.84 L252,130.15 L252.4,130.37 L252.8,130.48 L253.2,130.49 L253.6,130.41 L254,130.25 L254.4,130.02 L254.8,129.73 L255.2,129.39 L255.6,129.01 L256,128.59 L256.4,128.13 L256.8,127.66 L257.2,127.17 L257.6,126.68 L258,126.18 L258.4,125.7 L258.8,125.23 L259.2,124.77 L259.6,124.26 L260,123.71 L260.4,123.1 L260.8,122.4 L261.2,121.54 L261.6,120.36 L262,118.67 L262.4,116.39 L262.8,113.69 L263.2,111.16 L263.6,109.52 L264,109.29 L264.4,110.35 L264.8,112.09 L265.2,113.77 L265.6,114.94 L266,115.52 L266.4,115.64 L266.8,115.5 L267.2,115.22 L267.6,114.85 L268,114.37 L268.4,113.73 L268.8,112.9 L269.2,111.91 L269.6,110.86 L270,109.93 L270.4,109.3 L270.8,109.09 L271.2,109.3 L271.6,109.79 L272,110.37 L272.4,110.86 L272.8,111.18 L273.2,111.32 L273.6,111.31 L274,111.2 L274.4,111.04 L274.8,110.86 L275.2,110.67 L275.6,110.48 L276,110.29 L276.4,110.1 L276.8,109.91 L277.2,109.73 L277.6,109.55 L278,109.37 L278.4,109.19 L278.8,109.02 L279.2,108.84 L279.6,108.67 L280,108.5 L280.4,108.33 L280.8,108.15 L281.2,107.98 L281.6,107.8 L282,107.62 L282.4,107.42 L282.8,107.21 L283.2,106.98 L283.6,106.73 L284,106.44 L284.4,106.12 L284.8,105.76 L285.2,105.38 L285.6,104.98 L286,104.58 L286.4,104.21 L286.8,103.87 L287.2,103.6 L287.6,103.4 L288,103.28 L288.4,103.24 L288.8,103.26 L289.2,103.33 L289.6,103.42 L290,103.51 L290.4,103.59 L290.8,103.64 L291.2,103.66 L291.6,103.65 L292,103.6 L292.4,103.53 L292.8,103.43 L293.2,103.33 L293.6,103.21 L294,103.09 L294.4,102.96 L294.8,102.83 L295.2,102.71 L295.6,102.58 L296,102.45 L296.4,102.33 L296.8,102.21 L297.2,102.09 L297.6,101.97 L298,101.85 L298.4,101.74 L298.8,101.63 L299.2,101.52 L299.6,101.41 L300,101.3 L300.4,101.19 L300.8,101.09 L301.2,100.98 L301.6,100.88 L302,100.78 L302.4,100.67 L302.8,100.57 L303.2,100.47 L303.6,100.37 L304,100.27 L304.4,100.17 L304.8,100.07 L305.2,99.97 L305.6,99.88 L306,99.78 L306.4,99.68 L306.8,99.59 L307.2,99.5 L307.6,99.4 L308,99.31 L308.4,99.22 L308.8,99.13 L309.2,99.04 L309.6,98.95 L310,98.87 L310.4,98.78 L310.8,98.7 L311.2,98.61 L311.6,98.53 L312,98.45 L312.4,98.37 L312.8,98.29 L313.2,98.21 L313.6,98.13 L314,98.05 L314.4,97.98 L314.8,97.91 L315.2,97.83 L315.6,97.76 L316,97.69 L316.4,97.62 L316.8,97.56 L317.2,97.49 L317.6,97.43 L318,97.36 L318.4,97.3 L318.8,97.24 L319.2,97.18 L319.6,97.12 L320,97.07 L320.4,97.01" fill="none" stroke="#3f8f3c" stroke-width="1.1" stroke-linejoin="round" stroke-dasharray="3,1.8"/>
</g>
<rect x="39" y="4.8" width="237.5" height="47.4" rx="2" ry="2" fill="#fff" fill-opacity="0.8" stroke="#cccccc" stroke-width="0.8"/>
<line x1="42.4" y1="10.7" x2="51.5" y2="10.7" stroke="#93b6f2" stroke-width="1.1"/>
<text x="55.6" y="13.4" font-size="8.8" text-anchor="start" fill="#1a1a1a" textLength="5.4" lengthAdjust="spacingAndGlyphs">A</text>
<text x="60.5" y="15.2" font-size="7.8" text-anchor="start" fill="#1a1a1a" font-style="italic">ν</text>
<text x="65.8" y="13.7" font-size="8.6" text-anchor="start" fill="#1a1a1a" textLength="38.38" lengthAdjust="spacingAndGlyphs">=1; 1 Myr</text>
<line x1="42.4" y1="22.17" x2="51.5" y2="22.17" stroke="#2d5fd0" stroke-width="1.3"/>
<text x="55.6" y="24.87" font-size="8.8" text-anchor="start" fill="#1a1a1a" textLength="5.4" lengthAdjust="spacingAndGlyphs">A</text>
<text x="60.5" y="26.67" font-size="7.8" text-anchor="start" fill="#1a1a1a" font-style="italic">ν</text>
<text x="65.8" y="25.17" font-size="8.6" text-anchor="start" fill="#1a1a1a" textLength="38.38" lengthAdjust="spacingAndGlyphs">=3; 1 Myr</text>
<line x1="42.4" y1="33.64" x2="51.5" y2="33.64" stroke="#5454e0" stroke-width="2.2"/>
<text x="55.6" y="36.34" font-size="8.8" text-anchor="start" fill="#1a1a1a" textLength="5.4" lengthAdjust="spacingAndGlyphs">A</text>
<text x="60.5" y="38.14" font-size="7.8" text-anchor="start" fill="#1a1a1a" font-style="italic">ν</text>
<text x="65.8" y="36.64" font-size="8.6" text-anchor="start" fill="#1a1a1a" textLength="43.6" lengthAdjust="spacingAndGlyphs">=10; 1 Myr</text>
<line x1="42.4" y1="45.11" x2="51.5" y2="45.11" stroke="#6d1fbf" stroke-width="1.4"/>
<text x="55.6" y="47.81" font-size="8.8" text-anchor="start" fill="#1a1a1a" textLength="5.4" lengthAdjust="spacingAndGlyphs">A</text>
<text x="60.5" y="49.61" font-size="7.8" text-anchor="start" fill="#1a1a1a" font-style="italic">ν</text>
<text x="65.8" y="48.11" font-size="8.6" text-anchor="start" fill="#1a1a1a" textLength="43.6" lengthAdjust="spacingAndGlyphs">=30; 1 Myr</text>
<line x1="116.8" y1="10.7" x2="126" y2="10.7" stroke="#222" stroke-width="1.2"/>
<text x="130.2" y="13.4" font-size="8.8" text-anchor="start" fill="#1a1a1a" textLength="5.4" lengthAdjust="spacingAndGlyphs">A</text>
<text x="135.1" y="15.2" font-size="7.8" text-anchor="start" fill="#1a1a1a" font-style="italic">ν</text>
<text x="140.4" y="13.7" font-size="8.6" text-anchor="start" fill="#1a1a1a" textLength="43.6" lengthAdjust="spacingAndGlyphs">=1; 10 Myr</text>
<line x1="116.8" y1="22.17" x2="126" y2="22.17" stroke="#222" stroke-width="1.2"/>
<text x="130.2" y="24.87" font-size="8.8" text-anchor="start" fill="#1a1a1a" textLength="5.4" lengthAdjust="spacingAndGlyphs">A</text>
<text x="135.1" y="26.67" font-size="7.8" text-anchor="start" fill="#1a1a1a" font-style="italic">ν</text>
<text x="140.4" y="25.17" font-size="8.6" text-anchor="start" fill="#1a1a1a" textLength="43.6" lengthAdjust="spacingAndGlyphs">=3; 10 Myr</text>
<line x1="116.8" y1="33.64" x2="126" y2="33.64" stroke="#555" stroke-width="2"/>
<text x="130.2" y="36.34" font-size="8.8" text-anchor="start" fill="#1a1a1a" textLength="5.4" lengthAdjust="spacingAndGlyphs">A</text>
<text x="135.1" y="38.14" font-size="7.8" text-anchor="start" fill="#1a1a1a" font-style="italic">ν</text>
<text x="140.4" y="36.64" font-size="8.6" text-anchor="start" fill="#1a1a1a" textLength="48.81" lengthAdjust="spacingAndGlyphs">=10; 10 Myr</text>
<line x1="116.8" y1="45.11" x2="126" y2="45.11" stroke="#111" stroke-width="1.2"/>
<text x="130.2" y="47.81" font-size="8.8" text-anchor="start" fill="#1a1a1a" textLength="5.4" lengthAdjust="spacingAndGlyphs">A</text>
<text x="135.1" y="49.61" font-size="7.8" text-anchor="start" fill="#1a1a1a" font-style="italic">ν</text>
<text x="140.4" y="48.11" font-size="8.6" text-anchor="start" fill="#1a1a1a" textLength="48.81" lengthAdjust="spacingAndGlyphs">=30; 10 Myr</text>
<line x1="196.8" y1="10.7" x2="204.4" y2="10.7" stroke="#e2e25e" stroke-width="1.2" stroke-dasharray="3,1.6"/>
<text x="209.6" y="13.4" font-size="8.8" text-anchor="start" fill="#1a1a1a" textLength="5.4" lengthAdjust="spacingAndGlyphs">A</text>
<text x="214.5" y="15.2" font-size="7.8" text-anchor="start" fill="#1a1a1a" font-style="italic">ν</text>
<text x="219.8" y="13.7" font-size="8.6" text-anchor="start" fill="#1a1a1a" textLength="48.81" lengthAdjust="spacingAndGlyphs">=1; 100 Myr</text>
<line x1="196.8" y1="22.17" x2="204.4" y2="22.17" stroke="#d0d012" stroke-width="1.2" stroke-dasharray="3,1.6"/>
<text x="209.6" y="24.87" font-size="8.8" text-anchor="start" fill="#1a1a1a" textLength="5.4" lengthAdjust="spacingAndGlyphs">A</text>
<text x="214.5" y="26.67" font-size="7.8" text-anchor="start" fill="#1a1a1a" font-style="italic">ν</text>
<text x="219.8" y="25.17" font-size="8.6" text-anchor="start" fill="#1a1a1a" textLength="48.81" lengthAdjust="spacingAndGlyphs">=3; 100 Myr</text>
<line x1="196.8" y1="33.64" x2="204.4" y2="33.64" stroke="#9ab84c" stroke-width="2" stroke-dasharray="3,1.6"/>
<text x="209.6" y="36.34" font-size="8.8" text-anchor="start" fill="#1a1a1a" textLength="5.4" lengthAdjust="spacingAndGlyphs">A</text>
<text x="214.5" y="38.14" font-size="7.8" text-anchor="start" fill="#1a1a1a" font-style="italic">ν</text>
<text x="219.8" y="36.64" font-size="8.6" text-anchor="start" fill="#1a1a1a" textLength="54.03" lengthAdjust="spacingAndGlyphs">=10; 100 Myr</text>
<line x1="196.8" y1="45.11" x2="204.4" y2="45.11" stroke="#3d8a3a" stroke-width="1.3" stroke-dasharray="3,1.6"/>
<text x="209.6" y="47.81" font-size="8.8" text-anchor="start" fill="#1a1a1a" textLength="5.4" lengthAdjust="spacingAndGlyphs">A</text>
<text x="214.5" y="49.61" font-size="7.8" text-anchor="start" fill="#1a1a1a" font-style="italic">ν</text>
<text x="219.8" y="48.11" font-size="8.6" text-anchor="start" fill="#1a1a1a" textLength="54.03" lengthAdjust="spacingAndGlyphs">=30; 100 Myr</text>
<text x="164.94" y="211.6" font-size="8.5" text-anchor="start" fill="#111" transform="rotate(-90 164.94 211.6)" textLength="27.52" lengthAdjust="spacingAndGlyphs" style="stroke-width:0.15px">F200W</text>
<text x="188.04" y="211.6" font-size="8.5" text-anchor="start" fill="#111" transform="rotate(-90 188.04 211.6)" textLength="26.5" lengthAdjust="spacingAndGlyphs" style="stroke-width:0.15px">F300M</text>
<text x="194.84" y="211.6" font-size="8.5" text-anchor="start" fill="#111" transform="rotate(-90 194.84 211.6)" textLength="26.5" lengthAdjust="spacingAndGlyphs" style="stroke-width:0.15px">F335M</text>
<text x="202.24" y="211.6" font-size="8.5" text-anchor="start" fill="#111" transform="rotate(-90 202.24 211.6)" textLength="26.5" lengthAdjust="spacingAndGlyphs" style="stroke-width:0.15px">F360M</text>
<text x="243.54" y="211.6" font-size="8.5" text-anchor="start" fill="#111" transform="rotate(-90 243.54 211.6)" textLength="27.52" lengthAdjust="spacingAndGlyphs" style="stroke-width:0.15px">F770W</text>
<text x="259.34" y="211.6" font-size="8.5" text-anchor="start" fill="#111" transform="rotate(-90 259.34 211.6)" textLength="32.67" lengthAdjust="spacingAndGlyphs" style="stroke-width:0.15px">F1000W</text>
<text x="270.04" y="211.6" font-size="8.5" text-anchor="start" fill="#111" transform="rotate(-90 270.04 211.6)" textLength="32.67" lengthAdjust="spacingAndGlyphs" style="stroke-width:0.15px">F1130W</text>
<text x="301.94" y="211.6" font-size="8.5" text-anchor="start" fill="#111" transform="rotate(-90 301.94 211.6)" textLength="32.67" lengthAdjust="spacingAndGlyphs" style="stroke-width:0.15px">F2100W</text>
<rect x="36" y="0.5" width="284.5" height="218" fill="none" stroke="#bcbcbc" stroke-width="1.2"/>
<line x1="35.5" y1="0.35" x2="321" y2="0.35" stroke="#8a8a8a" stroke-width="0.9"/>
<line x1="36.3" y1="38.6" x2="37.6" y2="38.6" stroke="#333" stroke-width="1"/>
<text x="17" y="43" font-size="10.8" text-anchor="start" fill="#000" textLength="12.3" lengthAdjust="spacingAndGlyphs" stroke="#000" stroke-width="0.25">10</text>
<text x="29.9" y="38.9" font-size="7.4" text-anchor="start" fill="#000" textLength="4.3" lengthAdjust="spacingAndGlyphs" stroke="#000" stroke-width="0.25">2</text>
<line x1="36.3" y1="78" x2="37.6" y2="78" stroke="#333" stroke-width="1"/>
<text x="17" y="82.4" font-size="10.8" text-anchor="start" fill="#000" textLength="12.3" lengthAdjust="spacingAndGlyphs" stroke="#000" stroke-width="0.25">10</text>
<text x="29.9" y="78.3" font-size="7.4" text-anchor="start" fill="#000" textLength="4.3" lengthAdjust="spacingAndGlyphs" stroke="#000" stroke-width="0.25">0</text>
<line x1="36.3" y1="117.4" x2="37.6" y2="117.4" stroke="#333" stroke-width="1"/>
<text x="11.5" y="121.8" font-size="10.8" text-anchor="start" fill="#000" textLength="12.3" lengthAdjust="spacingAndGlyphs" stroke="#000" stroke-width="0.25">10</text>
<text x="24.4" y="117.7" font-size="7.4" text-anchor="start" fill="#000" textLength="9.8" lengthAdjust="spacingAndGlyphs" stroke="#000" stroke-width="0.25">−2</text>
<line x1="36.3" y1="156.8" x2="37.6" y2="156.8" stroke="#333" stroke-width="1"/>
<text x="11.5" y="161.2" font-size="10.8" text-anchor="start" fill="#000" textLength="12.3" lengthAdjust="spacingAndGlyphs" stroke="#000" stroke-width="0.25">10</text>
<text x="24.4" y="157.1" font-size="7.4" text-anchor="start" fill="#000" textLength="9.8" lengthAdjust="spacingAndGlyphs" stroke="#000" stroke-width="0.25">−4</text>
<line x1="36.3" y1="196.2" x2="37.6" y2="196.2" stroke="#333" stroke-width="1"/>
<text x="11.5" y="200.6" font-size="10.8" text-anchor="start" fill="#000" textLength="12.3" lengthAdjust="spacingAndGlyphs" stroke="#000" stroke-width="0.25">10</text>
<text x="24.4" y="196.5" font-size="7.4" text-anchor="start" fill="#000" textLength="9.8" lengthAdjust="spacingAndGlyphs" stroke="#000" stroke-width="0.25">−6</text>
<line x1="51.62" y1="218" x2="51.62" y2="216.9" stroke="#444" stroke-width="0.8"/>
<line x1="68.44" y1="218" x2="68.44" y2="216.9" stroke="#444" stroke-width="0.8"/>
<line x1="81.48" y1="218" x2="81.48" y2="216.9" stroke="#444" stroke-width="0.8"/>
<line x1="92.14" y1="218" x2="92.14" y2="216.9" stroke="#444" stroke-width="0.8"/>
<line x1="101.15" y1="218" x2="101.15" y2="216.9" stroke="#444" stroke-width="0.8"/>
<line x1="108.96" y1="218" x2="108.96" y2="216.9" stroke="#444" stroke-width="0.8"/>
<line x1="115.84" y1="218" x2="115.84" y2="216.9" stroke="#444" stroke-width="0.8"/>
<line x1="162.52" y1="218" x2="162.52" y2="216.9" stroke="#444" stroke-width="0.8"/>
<line x1="186.22" y1="218" x2="186.22" y2="216.9" stroke="#444" stroke-width="0.8"/>
<line x1="203.04" y1="218" x2="203.04" y2="216.9" stroke="#444" stroke-width="0.8"/>
<line x1="216.08" y1="218" x2="216.08" y2="216.9" stroke="#444" stroke-width="0.8"/>
<line x1="226.74" y1="218" x2="226.74" y2="216.9" stroke="#444" stroke-width="0.8"/>
<line x1="235.75" y1="218" x2="235.75" y2="216.9" stroke="#444" stroke-width="0.8"/>
<line x1="243.56" y1="218" x2="243.56" y2="216.9" stroke="#444" stroke-width="0.8"/>
<line x1="250.44" y1="218" x2="250.44" y2="216.9" stroke="#444" stroke-width="0.8"/>
<line x1="297.12" y1="218" x2="297.12" y2="216.9" stroke="#444" stroke-width="0.8"/>
<line x1="122" y1="218" x2="122" y2="216.3" stroke="#333" stroke-width="1"/>
<line x1="256.6" y1="218" x2="256.6" y2="216.3" stroke="#333" stroke-width="1"/>
<text x="113.4" y="228.2" font-size="10.8" text-anchor="start" fill="#000" textLength="12.3" lengthAdjust="spacingAndGlyphs" stroke="#000" stroke-width="0.25">10</text>
<text x="126.3" y="224.1" font-size="7.4" text-anchor="start" fill="#000" textLength="4.3" lengthAdjust="spacingAndGlyphs" stroke="#000" stroke-width="0.25">3</text>
<text x="248" y="228.2" font-size="10.8" text-anchor="start" fill="#000" textLength="12.3" lengthAdjust="spacingAndGlyphs" stroke="#000" stroke-width="0.25">10</text>
<text x="260.9" y="224.1" font-size="7.4" text-anchor="start" fill="#000" textLength="4.3" lengthAdjust="spacingAndGlyphs" stroke="#000" stroke-width="0.25">4</text>
<g transform="translate(7.7 129.4) rotate(-90)" stroke="#000" stroke-width="0.22"><text x="0" y="0" font-size="10" textLength="5.9" lengthAdjust="spacingAndGlyphs">F</text><text x="6.1" y="2.0" font-size="7.2" font-style="italic">ν</text><text x="14.2" y="0" font-size="10" textLength="24.9" lengthAdjust="spacingAndGlyphs">[mJy]</text></g>
<g clip-path="url(#cb)">
<path d="M40.5,449 L42.5,440 L43.6,420 L44.2,330 L44.9,300 L45.3,292 L46.3,290.8 L47.2,293.4 L48.7,289.3 L50.1,292 L52.1,286.4 L53.5,288.6 L56,286.4 L57.9,283.5 L58.9,285.2 L60.3,281.1 L61.3,283.7 L62.8,282.5 L63.7,285.2 L65.2,283 L66.2,284.7 L66.5,290 L66.8,330 L67.5,420 L68.8,440 L71,449 Z" fill="#e3a4e3" fill-opacity="1" stroke="#c84ac8" stroke-width="1.1" stroke-linejoin="round"/>
<path d="M84.5,449 L86.8,441 L87.8,420 L88.2,300 L89,284 L90.3,280.6 L92,284 L93.5,289 L94.9,293.4 L97,294.5 L97.9,296 L98.6,310 L99.1,420 L99.8,441 L102,449 Z" fill="#a796dd" fill-opacity="1" stroke="#7356cc" stroke-width="1.1" stroke-linejoin="round"/>
<path d="M96.5,449 L98.8,441 L99.4,420 L99.8,310 L100.6,294 L101.6,288 L102.7,286.3 L104.2,285.5 L105.6,284.9 L106.6,283 L107.7,281.3 L108.8,283.5 L109.6,290 L110.1,330 L110.6,420 L111.4,441 L113.5,449 Z" fill="#9fb3ef" fill-opacity="0.95" stroke="#3d6fe0" stroke-width="1.1" stroke-linejoin="round"/>
<path d="M103,449 L105.3,441 L106,420 L106.6,310 L107.4,288 L108.2,283 L110,282.2 L112,281.5 L114,281.3 L115.4,282.5 L116.1,290 L116.5,330 L116.9,420 L117.6,441 L119.5,449 Z" fill="#84d9d9" fill-opacity="0.85" stroke="#36bcbc" stroke-width="1.1" stroke-linejoin="round"/>
<path d="M163,449 L165.2,441 L165.9,420 L166.2,330 L166.5,312 L167,302.51 L167.72,305.7 L168.43,299.59 L169.06,302.63 L169.54,297.05 L170.16,302.91 L170.9,296.57 L171.37,299.24 L172.14,292.23 L172.75,298.39 L173.2,290.77 L173.99,292.97 L174.63,288.77 L175.13,292.9 L175.84,287.54 L176.45,290.43 L177.07,285.76 L177.69,289.56 L178.43,285.27 L178.99,289.97 L179.54,284.36 L180.11,289.91 L180.69,283.91 L181.4,288.29 L182.16,282.89 L182.87,287.71 L183.47,282.94 L184.1,287.02 L184.56,281.55 L185.25,286.9 L185.95,282.15 L186.64,284.65 L187.19,281.96 L187.73,289.06 L188.51,282.72 L189.12,289 L189.62,282.42 L190.23,289.1 L190.85,283.62 L191.6,288 L191.9,300 L192.1,420 L192.6,441 L194.5,449 Z" fill="#b9f28f" fill-opacity="1" stroke="#7ee21e" stroke-width="0.9" stroke-linejoin="round"/>
<path d="M191.5,449 L193.3,441 L193.8,420 L194.2,330 L194.8,305 L195.6,294.39 L196.22,294.93 L196.89,291.25 L197.7,294.99 L198.41,290.12 L199.22,294.09 L199.99,289.27 L200.86,290.23 L201.71,287.4 L202.4,291.55 L203.19,286.36 L203.95,288.44 L204.6,286.32 L205.27,289.24 L206.06,285.46 L206.86,286.68 L207.53,284.44 L208.05,287.8 L208.8,284.35 L209.67,285.8 L210.26,283.41 L210.82,286.35 L211.4,292 L212,420 L212.8,441 L214.5,449 Z" fill="#f3f39a" fill-opacity="1" stroke="#e6e63a" stroke-width="0.9" stroke-linejoin="round"/>
<path d="M210.5,449 L212.6,441 L213.1,420 L213.4,300 L213.9,283.5 L214.8,281.2 L215.8,283 L216.8,281 L218,282 L219,284 L219.5,300 L219.9,420 L220.6,441 L222.8,449 Z" fill="#f1b56c" fill-opacity="1" stroke="#e79633" stroke-width="1.1" stroke-linejoin="round"/>
<path d="M253.5,449 L256.5,444 L258.8,436 L260.5,420 L261.4,380 L261.8,320 L262.1,295 L262.6,287 L263.4,284 L264.3,283 L265.3,285 L266.7,288.5 L268,289 L269.3,285.5 L270.5,281.5 L271.6,280.4 L272.8,283 L274,286.7 L275.2,283 L276.4,280.4 L277.6,281.5 L278.8,284.5 L280,289 L280.8,300 L281.4,330 L282.4,380 L283.8,420 L286.5,436 L289,444 L292,449 Z" fill="#f7908f" fill-opacity="1" stroke="#f02c2c" stroke-width="1.1" stroke-linejoin="round"/>
<path d="M95,447.8 L97.5,447.5 L98.8,445 L99.3,441 L99.6,420 L99.8,340 L100.6,322 L103,312 L106,300 L108,292 L110,287 L112,284 L114.1,281.3 L115.5,283 L117,290 L117.7,300 L118.2,360 L118.6,420 L119.1,441 L119.8,445.5 L121.5,447.4 L124.5,447.8" fill="none" stroke="#000" stroke-width="1.35" stroke-linejoin="round" stroke-dasharray="2.8,1.7"/>
<path d="M116.5,447.8 L119,447.4 L120.3,445 L120.8,441 L121.1,420 L121.4,335 L123.4,315 L125.7,300.7 L128,290 L130,281.9 L132,288 L135.1,300.7 L139.4,313.6 L140.4,335 L140.8,420 L141.2,441 L141.9,445.5 L143.5,447.4 L146,447.8" fill="none" stroke="#000" stroke-width="1.35" stroke-linejoin="round" stroke-dasharray="2.8,1.7"/>
<path d="M136.5,447.8 L139.5,447.4 L141,445 L141.6,441 L142,420 L142.9,335 L146.3,316 L148.9,307.6 L151,299 L154,287.9 L156,284 L158.3,281.9 L160,286 L161.7,290.4 L163.4,295.6 L163.7,335 L164.1,420 L164.6,441 L165.3,445.5 L167,447.4 L169.5,447.8" fill="none" stroke="#000" stroke-width="1.35" stroke-linejoin="round" stroke-dasharray="2.8,1.7"/>
<path d="M157,447.8 L160.5,447.4 L163,446 L164.4,441 L165,420 L165.1,329.9 L168,322 L171.1,315.3 L174,307 L177,298 L181.4,290.4 L185,286 L188,283.5 L190,282.7 L192.5,288 L195.1,295.6 L196.9,309.3 L198,335 L198.3,400 L199.2,430 L200.5,441 L202,445.5 L204.5,447.4 L208,447.8" fill="none" stroke="#000" stroke-width="1.35" stroke-linejoin="round" stroke-dasharray="2.8,1.7"/>
<path d="M265,449 L268.8,447 L270.6,440 L271.8,400 L272.5,340 L273.2,305 L274.3,289 L275.4,283 L276.4,282 L277.6,284.5 L279,292 L280.5,301 L282.5,312 L284.2,316.5 L285.6,305 L287,295 L288,292.6 L289.2,294.5 L290.4,310 L291.5,335 L294,365 L297,395 L301,420 L306,436 L311,446 L315,449" fill="none" stroke="#000" stroke-width="1.35" stroke-linejoin="round" stroke-dasharray="2.8,1.7"/>
<path d="M36,405.8 L43.1,405.09 L43.1,382 L43.4,405.09 L44,405 L47.4,404.44 L47.4,377 L47.7,404.44 L50.3,403.96 L50.3,321.4 L50.6,403.96 L52.5,403.6 L53.7,403.12 L53.7,370.9 L54,403.12 L60,400.6 L63.7,399.1 L63.7,362.3 L64,399.1 L68.9,397 L72,396.2 L80,392.3 L81.1,391.88 L81.1,350 L81.4,391.88 L86,390 L88,388.8 L94,385 L97.5,381 L99.5,374 L100.8,360 L101.5,340 L102,324 L102.5,340 L103.3,360 L104.5,368 L106,371.5 L107.7,372.6 L110,372.2 L113,371.3 L117.7,369.8 L120,368.6 L122.3,367.08 L122.3,335 L122.6,367.08 L130,362 L141.9,353.1 L143.5,350 L144.5,351 L145.7,346.7 L147.2,348 L148.6,343 L150,344 L150.8,340.3 L152.5,341 L153.8,337 L155,338 L156,335.1 L157.4,331 L158.6,326 L159.8,318 L161,312.5 L161.7,311.6 L162.6,316.5 L163.6,321.9 L165.6,327.3 L167.5,328.2 L170,325.3 L172,322.3 L174,319 L176,315 L178,309.3 L179.5,304 L180.6,301.6 L181.8,304 L183,308 L184,309.3 L185.3,308.5 L186.6,307.6 L188,310 L189.1,311.9 L190.5,310.2 L191.7,309.3 L193,312.5 L194.3,316.1 L196.9,319.6 L200,320 L204.6,319.2 L207.5,318 L209.7,316.1 L210,315.58 L210,285.3 L210.3,315.58 L211.5,313 L212.6,311.1 L214,306 L215.2,299 L216,294.9 L216.8,298 L217.7,303 L218.6,306 L220,305.6 L221.1,305.1 L222.9,306.9 L224.5,304.5 L226.3,301.7 L227.7,304 L228.9,306.9 L231.4,308.6 L233.5,309 L235.7,308.6 L238,307.8 L240.9,306.9 L244.3,303.4 L245.8,301.79 L245.8,278.6 L246.1,301.79 L247,300.5 L248.8,298.7 L250.3,297.4 L252.9,296.6 L256.3,295.7 L262,293.3 L263,293.01 L263,282 L263.3,293.01 L270,291 L280,288.6 L290,286.3 L300,284.2 L310,282 L316.5,280.64 L316.5,267.6 L316.8,280.64 L320.5,279.8" fill="none" stroke="#000" stroke-width="1.9" stroke-linejoin="round"/>
</g>
<line x1="87.6" y1="258" x2="101.6" y2="320" stroke="#000" stroke-width="1.15"/>
<line x1="101.6" y1="320" x2="102.55" y2="315.91" stroke="#000" stroke-width="1.15"/>
<line x1="101.6" y1="320" x2="98.99" y2="316.71" stroke="#000" stroke-width="1.15"/>
<line x1="207.4" y1="258" x2="182" y2="300" stroke="#000" stroke-width="1.15"/>
<line x1="182" y1="300" x2="185.52" y2="297.71" stroke="#000" stroke-width="1.15"/>
<line x1="182" y1="300" x2="182.39" y2="295.82" stroke="#000" stroke-width="1.15"/>
<line x1="243.5" y1="258" x2="216.6" y2="292" stroke="#000" stroke-width="1.15"/>
<line x1="216.6" y1="292" x2="220.38" y2="290.17" stroke="#000" stroke-width="1.15"/>
<line x1="216.6" y1="292" x2="217.51" y2="287.9" stroke="#000" stroke-width="1.15"/>
<text x="70" y="255" font-size="10.2" text-anchor="start" fill="#000" textLength="15.89" lengthAdjust="spacingAndGlyphs">3.3</text>
<text x="87.09" y="255" font-size="10.2" text-anchor="start" fill="#000" font-style="italic" textLength="15.11" lengthAdjust="spacingAndGlyphs">μm</text>
<text x="195.7" y="254.7" font-size="10.2" text-anchor="start" fill="#000" textLength="15.89" lengthAdjust="spacingAndGlyphs">7.7</text>
<text x="212.79" y="254.7" font-size="10.2" text-anchor="start" fill="#000" font-style="italic" textLength="14.51" lengthAdjust="spacingAndGlyphs">μm</text>
<text x="229.1" y="254.7" font-size="10.2" text-anchor="start" fill="#000" textLength="22.25" lengthAdjust="spacingAndGlyphs">11.3</text>
<text x="252.55" y="254.7" font-size="10.2" text-anchor="start" fill="#000" font-style="italic" textLength="15.05" lengthAdjust="spacingAndGlyphs">μm</text>
<text x="97.9" y="272.8" font-size="7.8" text-anchor="start" fill="#111" textLength="23.95" lengthAdjust="spacingAndGlyphs" style="stroke-width:0.05px">IRAC 1</text>
<text x="119.6" y="272.8" font-size="7.8" text-anchor="start" fill="#111" textLength="23.95" lengthAdjust="spacingAndGlyphs" style="stroke-width:0.05px">IRAC 2</text>
<text x="142.3" y="272.8" font-size="7.8" text-anchor="start" fill="#111" textLength="23.95" lengthAdjust="spacingAndGlyphs" style="stroke-width:0.05px">IRAC 3</text>
<text x="172.9" y="272.8" font-size="7.8" text-anchor="start" fill="#111" textLength="23.95" lengthAdjust="spacingAndGlyphs" style="stroke-width:0.05px">IRAC 4</text>
<text x="275.9" y="272.8" font-size="7.8" text-anchor="start" fill="#111" textLength="28.7" lengthAdjust="spacingAndGlyphs" style="stroke-width:0.05px">MIPS 24</text>
<text x="59.04" y="441.6" font-size="8.5" text-anchor="start" fill="#111" transform="rotate(-90 59.04 441.6)" textLength="27.52" lengthAdjust="spacingAndGlyphs" style="stroke-width:0.15px">F200W</text>
<text x="96.74" y="441.6" font-size="8.5" text-anchor="start" fill="#111" transform="rotate(-90 96.74 441.6)" textLength="26.5" lengthAdjust="spacingAndGlyphs" style="stroke-width:0.15px">F300M</text>
<text x="107.04" y="441.6" font-size="8.5" text-anchor="start" fill="#111" transform="rotate(-90 107.04 441.6)" textLength="26.5" lengthAdjust="spacingAndGlyphs" style="stroke-width:0.15px">F335M</text>
<text x="114.74" y="441.6" font-size="8.5" text-anchor="start" fill="#111" transform="rotate(-90 114.74 441.6)" textLength="26.5" lengthAdjust="spacingAndGlyphs" style="stroke-width:0.15px">F360M</text>
<text x="183.24" y="441.6" font-size="8.5" text-anchor="start" fill="#111" transform="rotate(-90 183.24 441.6)" textLength="27.52" lengthAdjust="spacingAndGlyphs" style="stroke-width:0.15px">F770W</text>
<text x="207.04" y="441.6" font-size="8.5" text-anchor="start" fill="#111" transform="rotate(-90 207.04 441.6)" textLength="32.67" lengthAdjust="spacingAndGlyphs" style="stroke-width:0.15px">F1000W</text>
<text x="219.44" y="441.6" font-size="8.5" text-anchor="start" fill="#111" transform="rotate(-90 219.44 441.6)" textLength="32.67" lengthAdjust="spacingAndGlyphs" style="stroke-width:0.15px">F1130W</text>
<text x="275.04" y="441.6" font-size="8.5" text-anchor="start" fill="#111" transform="rotate(-90 275.04 441.6)" textLength="32.67" lengthAdjust="spacingAndGlyphs" style="stroke-width:0.15px">F2100W</text>
<rect x="36" y="230.8" width="284.5" height="217.7" fill="none" stroke="#bcbcbc" stroke-width="1.2"/>
<line x1="36.3" y1="447.8" x2="37.8" y2="447.8" stroke="#333" stroke-width="1"/>
<text x="11.5" y="452.2" font-size="10.8" text-anchor="start" fill="#000" textLength="12.3" lengthAdjust="spacingAndGlyphs" stroke="#000" stroke-width="0.25">10</text>
<text x="24.4" y="448.1" font-size="7.4" text-anchor="start" fill="#000" textLength="9.8" lengthAdjust="spacingAndGlyphs" stroke="#000" stroke-width="0.25">−3</text>
<line x1="36.3" y1="435.16" x2="37.2" y2="435.16" stroke="#555" stroke-width="0.8"/>
<line x1="36.3" y1="427.76" x2="37.2" y2="427.76" stroke="#555" stroke-width="0.8"/>
<line x1="36.3" y1="422.51" x2="37.2" y2="422.51" stroke="#555" stroke-width="0.8"/>
<line x1="36.3" y1="418.44" x2="37.2" y2="418.44" stroke="#555" stroke-width="0.8"/>
<line x1="36.3" y1="415.12" x2="37.2" y2="415.12" stroke="#555" stroke-width="0.8"/>
<line x1="36.3" y1="412.31" x2="37.2" y2="412.31" stroke="#555" stroke-width="0.8"/>
<line x1="36.3" y1="409.87" x2="37.2" y2="409.87" stroke="#555" stroke-width="0.8"/>
<line x1="36.3" y1="407.72" x2="37.2" y2="407.72" stroke="#555" stroke-width="0.8"/>
<line x1="36.3" y1="405.8" x2="37.8" y2="405.8" stroke="#333" stroke-width="1"/>
<text x="11.5" y="410.2" font-size="10.8" text-anchor="start" fill="#000" textLength="12.3" lengthAdjust="spacingAndGlyphs" stroke="#000" stroke-width="0.25">10</text>
<text x="24.4" y="406.1" font-size="7.4" text-anchor="start" fill="#000" textLength="9.8" lengthAdjust="spacingAndGlyphs" stroke="#000" stroke-width="0.25">−2</text>
<line x1="36.3" y1="393.16" x2="37.2" y2="393.16" stroke="#555" stroke-width="0.8"/>
<line x1="36.3" y1="385.76" x2="37.2" y2="385.76" stroke="#555" stroke-width="0.8"/>
<line x1="36.3" y1="380.51" x2="37.2" y2="380.51" stroke="#555" stroke-width="0.8"/>
<line x1="36.3" y1="376.44" x2="37.2" y2="376.44" stroke="#555" stroke-width="0.8"/>
<line x1="36.3" y1="373.12" x2="37.2" y2="373.12" stroke="#555" stroke-width="0.8"/>
<line x1="36.3" y1="370.31" x2="37.2" y2="370.31" stroke="#555" stroke-width="0.8"/>
<line x1="36.3" y1="367.87" x2="37.2" y2="367.87" stroke="#555" stroke-width="0.8"/>
<line x1="36.3" y1="365.72" x2="37.2" y2="365.72" stroke="#555" stroke-width="0.8"/>
<line x1="36.3" y1="363.8" x2="37.8" y2="363.8" stroke="#333" stroke-width="1"/>
<text x="11.5" y="368.2" font-size="10.8" text-anchor="start" fill="#000" textLength="12.3" lengthAdjust="spacingAndGlyphs" stroke="#000" stroke-width="0.25">10</text>
<text x="24.4" y="364.1" font-size="7.4" text-anchor="start" fill="#000" textLength="9.8" lengthAdjust="spacingAndGlyphs" stroke="#000" stroke-width="0.25">−1</text>
<line x1="36.3" y1="351.16" x2="37.2" y2="351.16" stroke="#555" stroke-width="0.8"/>
<line x1="36.3" y1="343.76" x2="37.2" y2="343.76" stroke="#555" stroke-width="0.8"/>
<line x1="36.3" y1="338.51" x2="37.2" y2="338.51" stroke="#555" stroke-width="0.8"/>
<line x1="36.3" y1="334.44" x2="37.2" y2="334.44" stroke="#555" stroke-width="0.8"/>
<line x1="36.3" y1="331.12" x2="37.2" y2="331.12" stroke="#555" stroke-width="0.8"/>
<line x1="36.3" y1="328.31" x2="37.2" y2="328.31" stroke="#555" stroke-width="0.8"/>
<line x1="36.3" y1="325.87" x2="37.2" y2="325.87" stroke="#555" stroke-width="0.8"/>
<line x1="36.3" y1="323.72" x2="37.2" y2="323.72" stroke="#555" stroke-width="0.8"/>
<line x1="36.3" y1="321.8" x2="37.8" y2="321.8" stroke="#333" stroke-width="1"/>
<text x="17" y="326.2" font-size="10.8" text-anchor="start" fill="#000" textLength="12.3" lengthAdjust="spacingAndGlyphs" stroke="#000" stroke-width="0.25">10</text>
<text x="29.9" y="322.1" font-size="7.4" text-anchor="start" fill="#000" textLength="4.3" lengthAdjust="spacingAndGlyphs" stroke="#000" stroke-width="0.25">0</text>
<line x1="36.3" y1="309.16" x2="37.2" y2="309.16" stroke="#555" stroke-width="0.8"/>
<line x1="36.3" y1="301.76" x2="37.2" y2="301.76" stroke="#555" stroke-width="0.8"/>
<line x1="36.3" y1="296.51" x2="37.2" y2="296.51" stroke="#555" stroke-width="0.8"/>
<line x1="36.3" y1="292.44" x2="37.2" y2="292.44" stroke="#555" stroke-width="0.8"/>
<line x1="36.3" y1="289.12" x2="37.2" y2="289.12" stroke="#555" stroke-width="0.8"/>
<line x1="36.3" y1="286.31" x2="37.2" y2="286.31" stroke="#555" stroke-width="0.8"/>
<line x1="36.3" y1="283.87" x2="37.2" y2="283.87" stroke="#555" stroke-width="0.8"/>
<line x1="36.3" y1="281.72" x2="37.2" y2="281.72" stroke="#555" stroke-width="0.8"/>
<line x1="36.3" y1="279.8" x2="37.8" y2="279.8" stroke="#333" stroke-width="1"/>
<text x="17" y="284.2" font-size="10.8" text-anchor="start" fill="#000" textLength="12.3" lengthAdjust="spacingAndGlyphs" stroke="#000" stroke-width="0.25">10</text>
<text x="29.9" y="280.1" font-size="7.4" text-anchor="start" fill="#000" textLength="4.3" lengthAdjust="spacingAndGlyphs" stroke="#000" stroke-width="0.25">1</text>
<line x1="36.3" y1="267.16" x2="37.2" y2="267.16" stroke="#555" stroke-width="0.8"/>
<line x1="36.3" y1="259.76" x2="37.2" y2="259.76" stroke="#555" stroke-width="0.8"/>
<line x1="36.3" y1="254.51" x2="37.2" y2="254.51" stroke="#555" stroke-width="0.8"/>
<line x1="36.3" y1="250.44" x2="37.2" y2="250.44" stroke="#555" stroke-width="0.8"/>
<line x1="36.3" y1="247.12" x2="37.2" y2="247.12" stroke="#555" stroke-width="0.8"/>
<line x1="36.3" y1="244.31" x2="37.2" y2="244.31" stroke="#555" stroke-width="0.8"/>
<line x1="36.3" y1="241.87" x2="37.2" y2="241.87" stroke="#555" stroke-width="0.8"/>
<line x1="36.3" y1="239.72" x2="37.2" y2="239.72" stroke="#555" stroke-width="0.8"/>
<line x1="36.3" y1="237.8" x2="37.8" y2="237.8" stroke="#333" stroke-width="1"/>
<text x="17" y="242.2" font-size="10.8" text-anchor="start" fill="#000" textLength="12.3" lengthAdjust="spacingAndGlyphs" stroke="#000" stroke-width="0.25">10</text>
<text x="29.9" y="238.1" font-size="7.4" text-anchor="start" fill="#000" textLength="4.3" lengthAdjust="spacingAndGlyphs" stroke="#000" stroke-width="0.25">2</text>
<line x1="318.7" y1="448.5" x2="320.2" y2="448.5" stroke="#333" stroke-width="1"/>
<text x="321.9" y="452" font-size="10" text-anchor="start" fill="#000" textLength="15.6" lengthAdjust="spacingAndGlyphs" style="stroke-width:0.06px">0.0</text>
<line x1="318.7" y1="415" x2="320.2" y2="415" stroke="#333" stroke-width="1"/>
<text x="321.9" y="418.5" font-size="10" text-anchor="start" fill="#000" textLength="15.6" lengthAdjust="spacingAndGlyphs" style="stroke-width:0.06px">0.2</text>
<line x1="318.7" y1="381.5" x2="320.2" y2="381.5" stroke="#333" stroke-width="1"/>
<text x="321.9" y="385" font-size="10" text-anchor="start" fill="#000" textLength="15.6" lengthAdjust="spacingAndGlyphs" style="stroke-width:0.06px">0.4</text>
<line x1="318.7" y1="348" x2="320.2" y2="348" stroke="#333" stroke-width="1"/>
<text x="321.9" y="351.5" font-size="10" text-anchor="start" fill="#000" textLength="15.6" lengthAdjust="spacingAndGlyphs" style="stroke-width:0.06px">0.6</text>
<line x1="318.7" y1="314.5" x2="320.2" y2="314.5" stroke="#333" stroke-width="1"/>
<text x="321.9" y="318" font-size="10" text-anchor="start" fill="#000" textLength="15.6" lengthAdjust="spacingAndGlyphs" style="stroke-width:0.06px">0.8</text>
<line x1="318.7" y1="281" x2="320.2" y2="281" stroke="#333" stroke-width="1"/>
<text x="321.9" y="284.5" font-size="10" text-anchor="start" fill="#000" textLength="15.6" lengthAdjust="spacingAndGlyphs" style="stroke-width:0.06px">1.0</text>
<line x1="318.7" y1="247.5" x2="320.2" y2="247.5" stroke="#333" stroke-width="1"/>
<text x="321.9" y="251" font-size="10" text-anchor="start" fill="#000" textLength="15.6" lengthAdjust="spacingAndGlyphs" style="stroke-width:0.06px">1.2</text>
<line x1="55.42" y1="448" x2="55.42" y2="446.9" stroke="#444" stroke-width="0.8"/>
<line x1="93.1" y1="448" x2="93.1" y2="446.9" stroke="#444" stroke-width="0.8"/>
<line x1="119.84" y1="448" x2="119.84" y2="446.9" stroke="#444" stroke-width="0.8"/>
<line x1="140.58" y1="448" x2="140.58" y2="446.9" stroke="#444" stroke-width="0.8"/>
<line x1="157.52" y1="448" x2="157.52" y2="446.9" stroke="#444" stroke-width="0.8"/>
<line x1="171.85" y1="448" x2="171.85" y2="446.9" stroke="#444" stroke-width="0.8"/>
<line x1="184.26" y1="448" x2="184.26" y2="446.9" stroke="#444" stroke-width="0.8"/>
<line x1="195.21" y1="448" x2="195.21" y2="446.9" stroke="#444" stroke-width="0.8"/>
<line x1="269.42" y1="448" x2="269.42" y2="446.9" stroke="#444" stroke-width="0.8"/>
<line x1="307.1" y1="448" x2="307.1" y2="446.9" stroke="#444" stroke-width="0.8"/>
<line x1="205" y1="448" x2="205" y2="446.3" stroke="#333" stroke-width="1"/>
<text x="196.4" y="458.2" font-size="10.8" text-anchor="start" fill="#000" textLength="12.3" lengthAdjust="spacingAndGlyphs" stroke="#000" stroke-width="0.25">10</text>
<text x="209.3" y="454.1" font-size="7.4" text-anchor="start" fill="#000" textLength="4.3" lengthAdjust="spacingAndGlyphs" stroke="#000" stroke-width="0.25">4</text>
<g transform="translate(7.7 358.9) rotate(-90)" stroke="#000" stroke-width="0.22"><text x="0" y="0" font-size="10" textLength="5.9" lengthAdjust="spacingAndGlyphs">F</text><text x="6.1" y="2.0" font-size="7.2" font-style="italic">ν</text><text x="14.2" y="0" font-size="10" textLength="24.9" lengthAdjust="spacingAndGlyphs">[mJy]</text></g>
<text x="179" y="464.5" font-size="10.9" text-anchor="middle" fill="#000" textLength="84" lengthAdjust="spacingAndGlyphs" style="stroke-width:0.05px">Wavelength [nm]</text>
<text transform="translate(347.3 338.2) rotate(-90)" text-anchor="middle" font-size="12.1" textLength="166.4" lengthAdjust="spacingAndGlyphs" style="stroke-width:0.05px">Normalized filter throughput</text>
</svg>
</body></html>
